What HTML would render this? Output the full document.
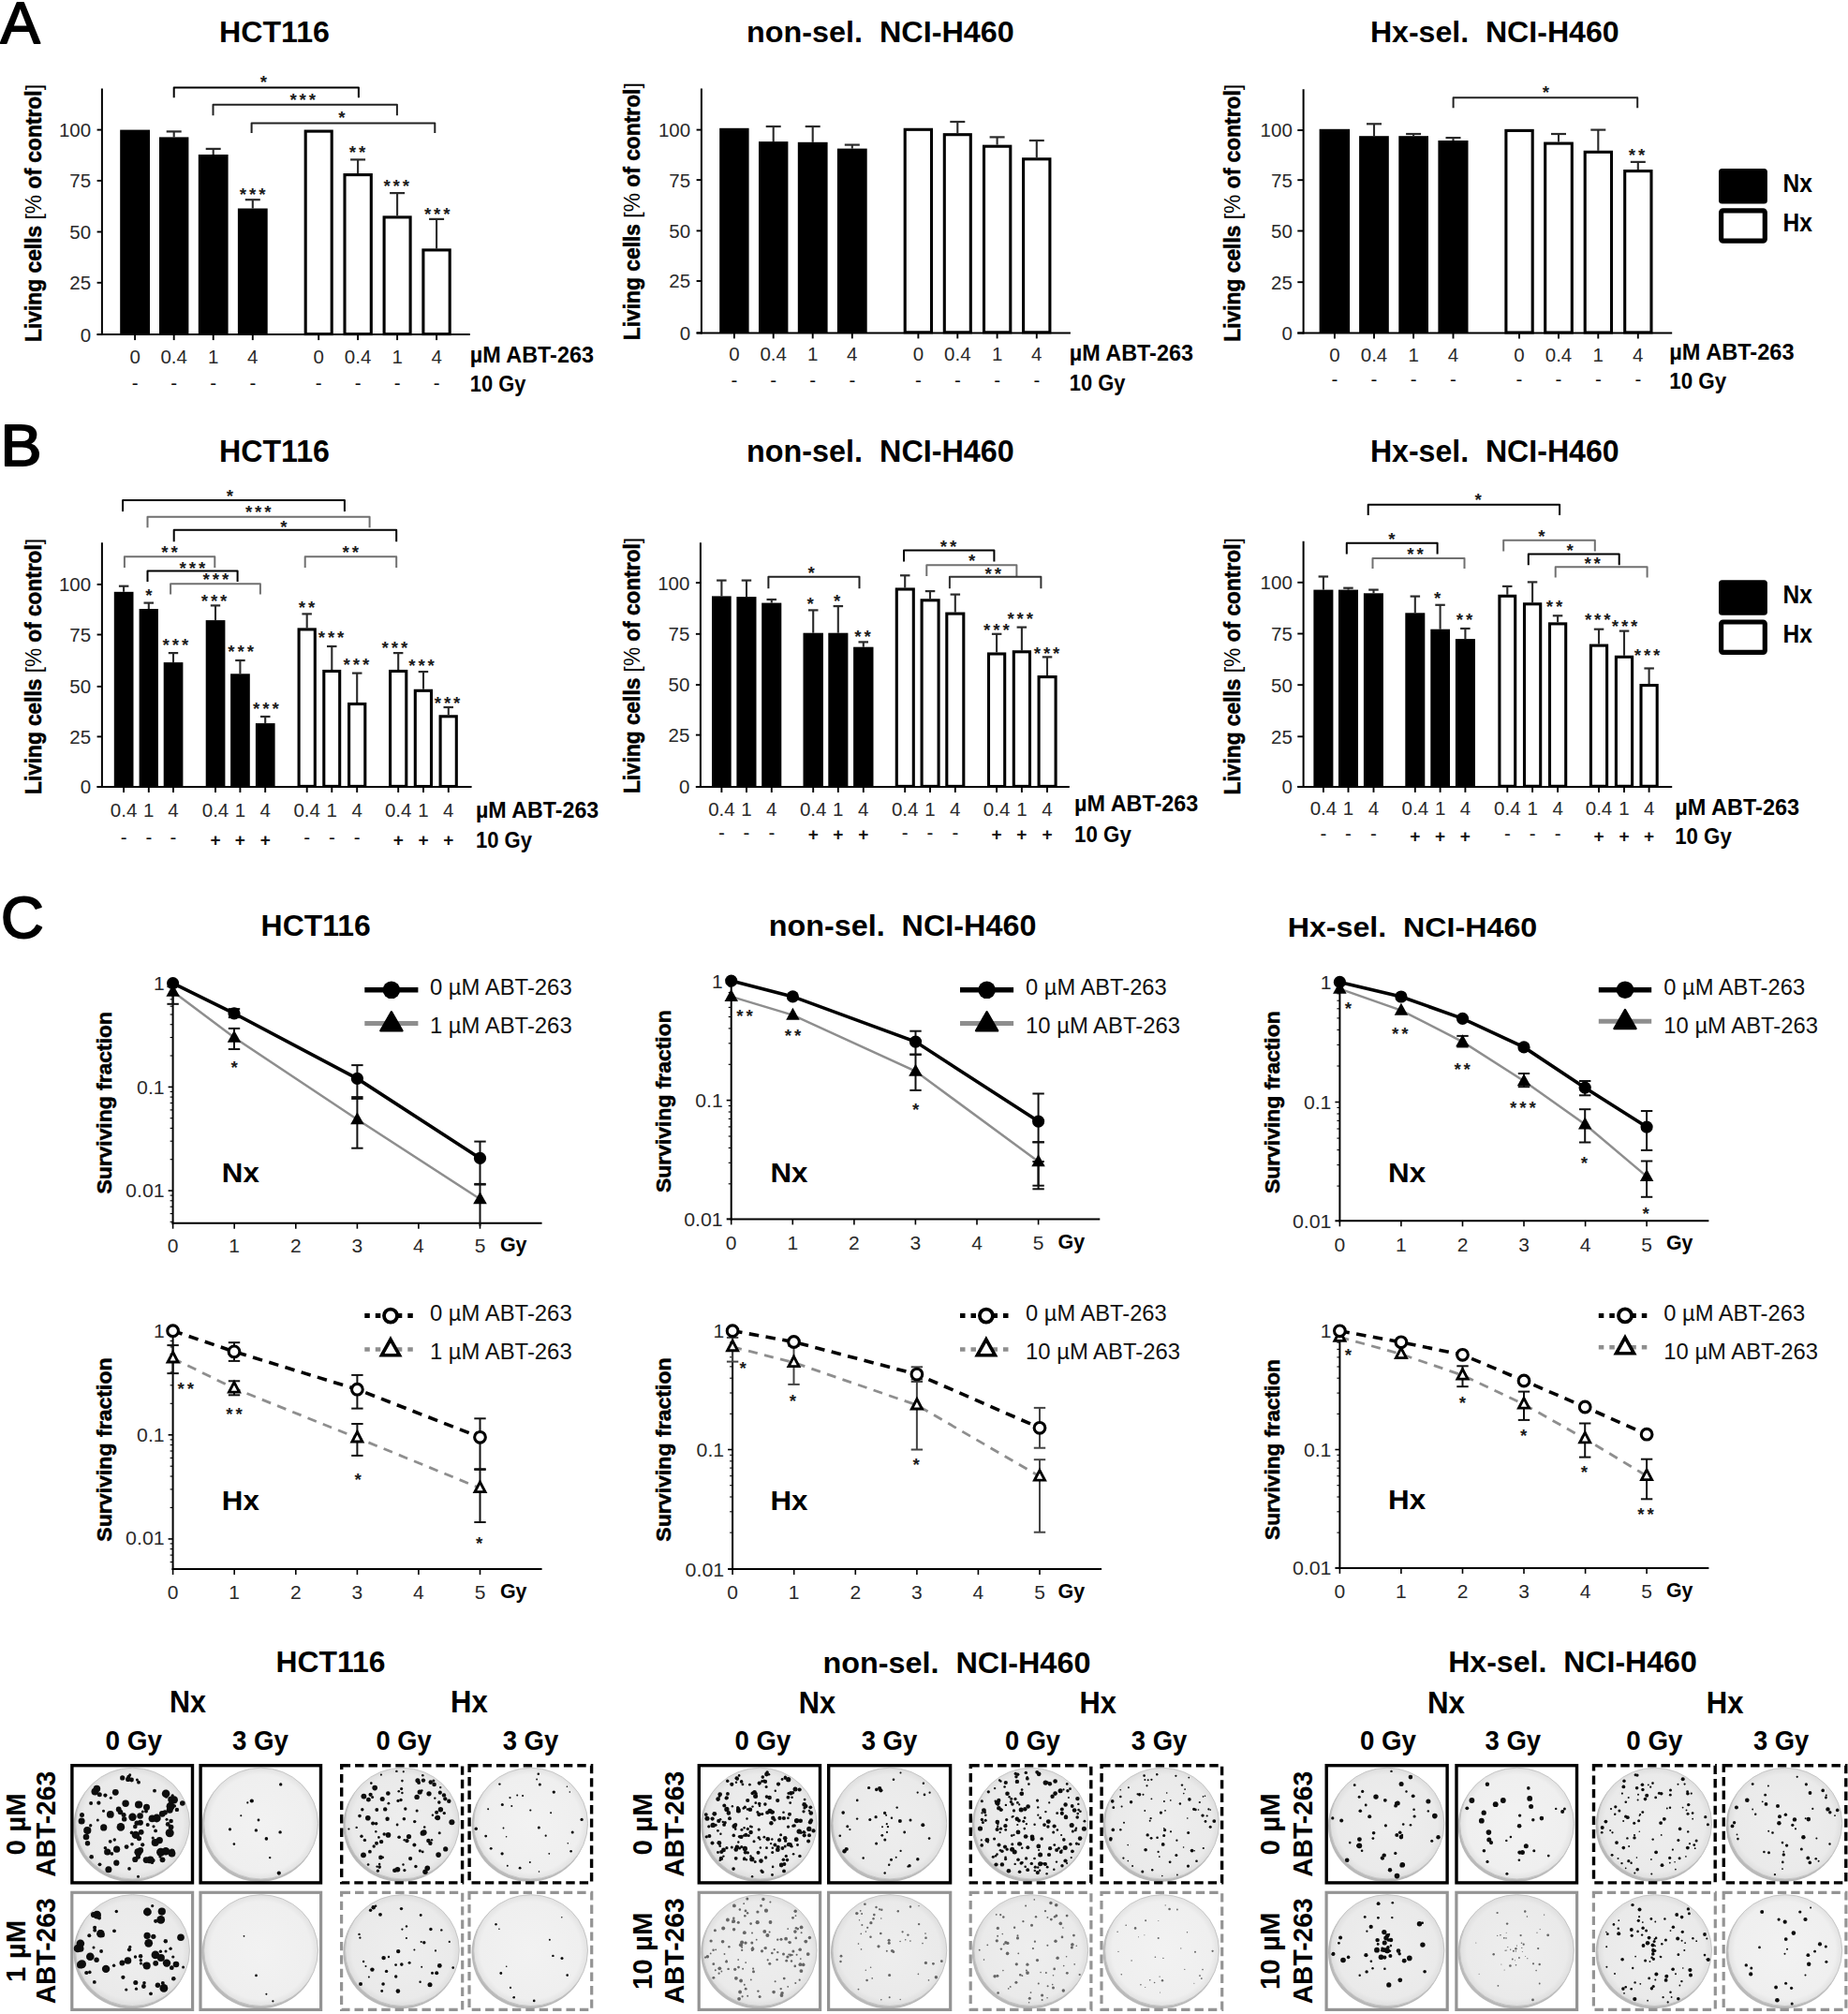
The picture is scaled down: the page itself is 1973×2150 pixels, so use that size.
<!DOCTYPE html>
<html lang="en"><head><meta charset="utf-8"><title>Figure</title>
<style>
html,body{margin:0;padding:0;background:#fff}
svg{display:block}
text{font-family:"Liberation Sans",sans-serif}
</style></head><body>
<svg width="1973" height="2150" viewBox="0 0 1973 2150">
<defs>
<radialGradient id="dg" cx="50%" cy="50%" r="50%">
<stop offset="0" stop-color="#eeeeee"/><stop offset="0.88" stop-color="#eaeaea"/><stop offset="1" stop-color="#dedede"/>
</radialGradient>
<radialGradient id="dg2" cx="50%" cy="50%" r="50%">
<stop offset="0" stop-color="#f2f2f2"/><stop offset="0.88" stop-color="#efefef"/><stop offset="1" stop-color="#e2e2e2"/>
</radialGradient>
<filter id="bl" x="-5%" y="-5%" width="110%" height="110%"><feGaussianBlur stdDeviation="0.55"/></filter>
</defs>
<rect width="1973" height="2150" fill="#fff"/>
<rect x="128.2" y="138.6" width="31.8" height="218.6" fill="#000"/>
<line x1="185.7" y1="146.4" x2="185.7" y2="140.4" stroke="#2a2a2a" stroke-width="2.1"/>
<line x1="177.7" y1="140.4" x2="193.7" y2="140.4" stroke="#2a2a2a" stroke-width="2.2"/>
<rect x="170.0" y="146.4" width="31.4" height="210.7" fill="#000"/>
<line x1="227.7" y1="165.0" x2="227.7" y2="158.9" stroke="#2a2a2a" stroke-width="2.1"/>
<line x1="219.7" y1="158.9" x2="235.7" y2="158.9" stroke="#2a2a2a" stroke-width="2.2"/>
<rect x="211.8" y="165.0" width="31.8" height="192.1" fill="#000"/>
<line x1="269.8" y1="222.5" x2="269.8" y2="213.2" stroke="#2a2a2a" stroke-width="2.1"/>
<line x1="261.8" y1="213.2" x2="277.8" y2="213.2" stroke="#2a2a2a" stroke-width="2.2"/>
<rect x="253.9" y="222.5" width="31.8" height="134.6" fill="#000"/>
<rect x="326.2" y="140.1" width="28.0" height="216.5" fill="#fff" stroke="#000" stroke-width="3.1"/>
<line x1="382.1" y1="185.0" x2="382.1" y2="170.4" stroke="#2a2a2a" stroke-width="2.1"/>
<line x1="374.1" y1="170.4" x2="390.1" y2="170.4" stroke="#2a2a2a" stroke-width="2.2"/>
<rect x="368.0" y="186.6" width="28.3" height="170.0" fill="#fff" stroke="#000" stroke-width="3.1"/>
<line x1="424.1" y1="230.4" x2="424.1" y2="206.1" stroke="#2a2a2a" stroke-width="2.1"/>
<line x1="416.1" y1="206.1" x2="432.1" y2="206.1" stroke="#2a2a2a" stroke-width="2.2"/>
<rect x="410.1" y="231.9" width="28.0" height="124.7" fill="#fff" stroke="#000" stroke-width="3.1"/>
<line x1="466.1" y1="265.4" x2="466.1" y2="233.9" stroke="#2a2a2a" stroke-width="2.1"/>
<line x1="458.1" y1="233.9" x2="474.1" y2="233.9" stroke="#2a2a2a" stroke-width="2.2"/>
<rect x="451.9" y="266.9" width="28.3" height="89.7" fill="#fff" stroke="#000" stroke-width="3.1"/>
<line x1="108.9" y1="94.6" x2="108.9" y2="358.1" stroke="#000" stroke-width="2"/>
<line x1="103.6" y1="357.1" x2="501.8" y2="357.1" stroke="#000" stroke-width="2"/>
<line x1="103.6" y1="138.6" x2="108.9" y2="138.6" stroke="#000" stroke-width="1.9"/>
<text x="97.1" y="145.9" font-size="20.5" text-anchor="end" fill="#2a2a2a">100</text>
<line x1="103.6" y1="192.9" x2="108.9" y2="192.9" stroke="#000" stroke-width="1.9"/>
<text x="97.1" y="200.2" font-size="20.5" text-anchor="end" fill="#2a2a2a">75</text>
<line x1="103.6" y1="247.5" x2="108.9" y2="247.5" stroke="#000" stroke-width="1.9"/>
<text x="97.1" y="254.8" font-size="20.5" text-anchor="end" fill="#2a2a2a">50</text>
<line x1="103.6" y1="301.8" x2="108.9" y2="301.8" stroke="#000" stroke-width="1.9"/>
<text x="97.1" y="309.1" font-size="20.5" text-anchor="end" fill="#2a2a2a">25</text>
<line x1="103.6" y1="357.1" x2="108.9" y2="357.1" stroke="#000" stroke-width="1.9"/>
<text x="97.1" y="364.5" font-size="20.5" text-anchor="end" fill="#2a2a2a">0</text>
<line x1="144.1" y1="357.1" x2="144.1" y2="363.1" stroke="#000" stroke-width="1.9"/>
<text x="144.1" y="388.1" font-size="20.5" text-anchor="middle" fill="#2a2a2a">0</text>
<text x="144.1" y="416.2" font-size="20.5" text-anchor="middle" fill="#111">-</text>
<line x1="185.7" y1="357.1" x2="185.7" y2="363.1" stroke="#000" stroke-width="1.9"/>
<text x="185.7" y="388.1" font-size="20.5" text-anchor="middle" textLength="28.5" lengthAdjust="spacingAndGlyphs" fill="#2a2a2a">0.4</text>
<text x="185.7" y="416.2" font-size="20.5" text-anchor="middle" fill="#111">-</text>
<line x1="227.7" y1="357.1" x2="227.7" y2="363.1" stroke="#000" stroke-width="1.9"/>
<text x="227.7" y="388.1" font-size="20.5" text-anchor="middle" fill="#2a2a2a">1</text>
<text x="227.7" y="416.2" font-size="20.5" text-anchor="middle" fill="#111">-</text>
<line x1="269.8" y1="357.1" x2="269.8" y2="363.1" stroke="#000" stroke-width="1.9"/>
<text x="269.8" y="388.1" font-size="20.5" text-anchor="middle" fill="#2a2a2a">4</text>
<text x="269.8" y="416.2" font-size="20.5" text-anchor="middle" fill="#111">-</text>
<line x1="340.2" y1="357.1" x2="340.2" y2="363.1" stroke="#000" stroke-width="1.9"/>
<text x="340.2" y="388.1" font-size="20.5" text-anchor="middle" fill="#2a2a2a">0</text>
<text x="340.2" y="416.2" font-size="20.5" text-anchor="middle" fill="#111">-</text>
<line x1="382.1" y1="357.1" x2="382.1" y2="363.1" stroke="#000" stroke-width="1.9"/>
<text x="382.1" y="388.1" font-size="20.5" text-anchor="middle" textLength="28.5" lengthAdjust="spacingAndGlyphs" fill="#2a2a2a">0.4</text>
<text x="382.1" y="416.2" font-size="20.5" text-anchor="middle" fill="#111">-</text>
<line x1="424.1" y1="357.1" x2="424.1" y2="363.1" stroke="#000" stroke-width="1.9"/>
<text x="424.1" y="388.1" font-size="20.5" text-anchor="middle" fill="#2a2a2a">1</text>
<text x="424.1" y="416.2" font-size="20.5" text-anchor="middle" fill="#111">-</text>
<line x1="466.1" y1="357.1" x2="466.1" y2="363.1" stroke="#000" stroke-width="1.9"/>
<text x="466.1" y="388.1" font-size="20.5" text-anchor="middle" fill="#2a2a2a">4</text>
<text x="466.1" y="416.2" font-size="20.5" text-anchor="middle" fill="#111">-</text>
<text x="501.8" y="387.0" font-size="23.5" font-weight="bold" textLength="132.1" lengthAdjust="spacingAndGlyphs">µM ABT-263</text>
<text x="501.8" y="418.4" font-size="23.5" font-weight="bold" textLength="59.6" lengthAdjust="spacingAndGlyphs">10 Gy</text>
<path d="M185.7 104.3V93.6H382.9V104.3" fill="none" stroke="#000" stroke-width="2" stroke-linejoin="round"/>
<text x="282.9" y="93.5" font-size="18.8" font-weight="bold" text-anchor="middle" fill="#1c1c1c" letter-spacing="2.9">*</text>
<path d="M227.5 123.2V111.8H423.9V123.2" fill="none" stroke="#222" stroke-width="2" stroke-linejoin="round"/>
<text x="324.7" y="113.2" font-size="18.8" font-weight="bold" text-anchor="middle" fill="#1c1c1c" letter-spacing="2.9">***</text>
<path d="M268.6 142.1V131.4H464.3V142.1" fill="none" stroke="#222" stroke-width="2" stroke-linejoin="round"/>
<text x="366.4" y="132.1" font-size="18.8" font-weight="bold" text-anchor="middle" fill="#1c1c1c" letter-spacing="2.9">*</text>
<text x="271.1" y="213.9" font-size="18.8" font-weight="bold" text-anchor="middle" fill="#1c1c1c" letter-spacing="2.9">***</text>
<text x="382.9" y="169.2" font-size="18.8" font-weight="bold" text-anchor="middle" fill="#1c1c1c" letter-spacing="2.9">**</text>
<text x="424.7" y="205.3" font-size="18.8" font-weight="bold" text-anchor="middle" fill="#1c1c1c" letter-spacing="2.9">***</text>
<text x="468.2" y="234.6" font-size="18.8" font-weight="bold" text-anchor="middle" fill="#1c1c1c" letter-spacing="2.9">***</text>
<text x="44.2" y="365.0" font-size="23.7" font-weight="bold" stroke="#000" stroke-width="0.55" textLength="275.0" lengthAdjust="spacingAndGlyphs" transform="rotate(-90 44.2 365.0)">Living cells <tspan font-weight="normal" stroke="none">[%</tspan> of control<tspan font-weight="normal" stroke="none">]</tspan></text>
<rect x="768.2" y="136.8" width="31.4" height="218.6" fill="#000"/>
<line x1="825.7" y1="151.1" x2="825.7" y2="135.0" stroke="#2a2a2a" stroke-width="2.1"/>
<line x1="817.7" y1="135.0" x2="833.7" y2="135.0" stroke="#2a2a2a" stroke-width="2.2"/>
<rect x="810.0" y="151.1" width="31.4" height="204.3" fill="#000"/>
<line x1="867.7" y1="151.8" x2="867.7" y2="135.0" stroke="#2a2a2a" stroke-width="2.1"/>
<line x1="859.7" y1="135.0" x2="875.7" y2="135.0" stroke="#2a2a2a" stroke-width="2.2"/>
<rect x="851.8" y="151.8" width="31.8" height="203.6" fill="#000"/>
<line x1="909.8" y1="158.6" x2="909.8" y2="154.6" stroke="#2a2a2a" stroke-width="2.1"/>
<line x1="901.8" y1="154.6" x2="917.8" y2="154.6" stroke="#2a2a2a" stroke-width="2.2"/>
<rect x="893.9" y="158.6" width="31.8" height="196.8" fill="#000"/>
<rect x="966.2" y="138.3" width="28.3" height="216.5" fill="#fff" stroke="#000" stroke-width="3.1"/>
<line x1="1022.3" y1="142.1" x2="1022.3" y2="130.0" stroke="#2a2a2a" stroke-width="2.1"/>
<line x1="1014.3" y1="130.0" x2="1030.3" y2="130.0" stroke="#2a2a2a" stroke-width="2.2"/>
<rect x="1008.3" y="143.7" width="28.0" height="211.1" fill="#fff" stroke="#000" stroke-width="3.1"/>
<line x1="1064.6" y1="154.6" x2="1064.6" y2="146.4" stroke="#2a2a2a" stroke-width="2.1"/>
<line x1="1056.6" y1="146.4" x2="1072.6" y2="146.4" stroke="#2a2a2a" stroke-width="2.2"/>
<rect x="1050.5" y="156.2" width="28.3" height="198.6" fill="#fff" stroke="#000" stroke-width="3.1"/>
<line x1="1106.8" y1="168.2" x2="1106.8" y2="150.0" stroke="#2a2a2a" stroke-width="2.1"/>
<line x1="1098.8" y1="150.0" x2="1114.8" y2="150.0" stroke="#2a2a2a" stroke-width="2.2"/>
<rect x="1092.6" y="169.8" width="28.3" height="185.0" fill="#fff" stroke="#000" stroke-width="3.1"/>
<line x1="748.9" y1="94.6" x2="748.9" y2="356.4" stroke="#000" stroke-width="2"/>
<line x1="743.6" y1="355.4" x2="1142.9" y2="355.4" stroke="#000" stroke-width="2"/>
<line x1="743.6" y1="138.6" x2="748.9" y2="138.6" stroke="#000" stroke-width="1.9"/>
<text x="737.1" y="145.9" font-size="20.5" text-anchor="end" fill="#2a2a2a">100</text>
<line x1="743.6" y1="192.1" x2="748.9" y2="192.1" stroke="#000" stroke-width="1.9"/>
<text x="737.1" y="199.5" font-size="20.5" text-anchor="end" fill="#2a2a2a">75</text>
<line x1="743.6" y1="246.4" x2="748.9" y2="246.4" stroke="#000" stroke-width="1.9"/>
<text x="737.1" y="253.8" font-size="20.5" text-anchor="end" fill="#2a2a2a">50</text>
<line x1="743.6" y1="300.0" x2="748.9" y2="300.0" stroke="#000" stroke-width="1.9"/>
<text x="737.1" y="307.3" font-size="20.5" text-anchor="end" fill="#2a2a2a">25</text>
<line x1="743.6" y1="355.4" x2="748.9" y2="355.4" stroke="#000" stroke-width="1.9"/>
<text x="737.1" y="362.7" font-size="20.5" text-anchor="end" fill="#2a2a2a">0</text>
<line x1="783.9" y1="355.4" x2="783.9" y2="361.4" stroke="#000" stroke-width="1.9"/>
<text x="783.9" y="385.2" font-size="20.5" text-anchor="middle" fill="#2a2a2a">0</text>
<text x="783.9" y="413.0" font-size="20.5" text-anchor="middle" fill="#111">-</text>
<line x1="825.7" y1="355.4" x2="825.7" y2="361.4" stroke="#000" stroke-width="1.9"/>
<text x="825.7" y="385.2" font-size="20.5" text-anchor="middle" textLength="28.5" lengthAdjust="spacingAndGlyphs" fill="#2a2a2a">0.4</text>
<text x="825.7" y="413.0" font-size="20.5" text-anchor="middle" fill="#111">-</text>
<line x1="867.7" y1="355.4" x2="867.7" y2="361.4" stroke="#000" stroke-width="1.9"/>
<text x="867.7" y="385.2" font-size="20.5" text-anchor="middle" fill="#2a2a2a">1</text>
<text x="867.7" y="413.0" font-size="20.5" text-anchor="middle" fill="#111">-</text>
<line x1="909.8" y1="355.4" x2="909.8" y2="361.4" stroke="#000" stroke-width="1.9"/>
<text x="909.8" y="385.2" font-size="20.5" text-anchor="middle" fill="#2a2a2a">4</text>
<text x="909.8" y="413.0" font-size="20.5" text-anchor="middle" fill="#111">-</text>
<line x1="980.4" y1="355.4" x2="980.4" y2="361.4" stroke="#000" stroke-width="1.9"/>
<text x="980.4" y="385.2" font-size="20.5" text-anchor="middle" fill="#2a2a2a">0</text>
<text x="980.4" y="413.0" font-size="20.5" text-anchor="middle" fill="#111">-</text>
<line x1="1022.3" y1="355.4" x2="1022.3" y2="361.4" stroke="#000" stroke-width="1.9"/>
<text x="1022.3" y="385.2" font-size="20.5" text-anchor="middle" textLength="28.5" lengthAdjust="spacingAndGlyphs" fill="#2a2a2a">0.4</text>
<text x="1022.3" y="413.0" font-size="20.5" text-anchor="middle" fill="#111">-</text>
<line x1="1064.6" y1="355.4" x2="1064.6" y2="361.4" stroke="#000" stroke-width="1.9"/>
<text x="1064.6" y="385.2" font-size="20.5" text-anchor="middle" fill="#2a2a2a">1</text>
<text x="1064.6" y="413.0" font-size="20.5" text-anchor="middle" fill="#111">-</text>
<line x1="1106.8" y1="355.4" x2="1106.8" y2="361.4" stroke="#000" stroke-width="1.9"/>
<text x="1106.8" y="385.2" font-size="20.5" text-anchor="middle" fill="#2a2a2a">4</text>
<text x="1106.8" y="413.0" font-size="20.5" text-anchor="middle" fill="#111">-</text>
<text x="1141.8" y="385.2" font-size="23.5" font-weight="bold" textLength="132.1" lengthAdjust="spacingAndGlyphs">µM ABT-263</text>
<text x="1141.8" y="416.6" font-size="23.5" font-weight="bold" textLength="59.6" lengthAdjust="spacingAndGlyphs">10 Gy</text>
<text x="683.1" y="363.2" font-size="23.7" font-weight="bold" stroke="#000" stroke-width="0.55" textLength="275.0" lengthAdjust="spacingAndGlyphs" transform="rotate(-90 683.1 363.2)">Living cells <tspan font-weight="normal" stroke="none">[%</tspan> of control<tspan font-weight="normal" stroke="none">]</tspan></text>
<rect x="1408.6" y="137.8" width="32.5" height="217.7" fill="#000"/>
<line x1="1467.0" y1="145.2" x2="1467.0" y2="132.3" stroke="#2a2a2a" stroke-width="2.1"/>
<line x1="1459.0" y1="132.3" x2="1475.0" y2="132.3" stroke="#2a2a2a" stroke-width="2.2"/>
<rect x="1451.1" y="145.2" width="31.7" height="210.3" fill="#000"/>
<line x1="1509.1" y1="145.2" x2="1509.1" y2="143.0" stroke="#2a2a2a" stroke-width="2.1"/>
<line x1="1501.1" y1="143.0" x2="1517.1" y2="143.0" stroke="#2a2a2a" stroke-width="2.2"/>
<rect x="1493.3" y="145.2" width="31.7" height="210.3" fill="#000"/>
<line x1="1551.5" y1="150.0" x2="1551.5" y2="147.1" stroke="#2a2a2a" stroke-width="2.1"/>
<line x1="1543.5" y1="147.1" x2="1559.5" y2="147.1" stroke="#2a2a2a" stroke-width="2.2"/>
<rect x="1535.4" y="150.0" width="32.1" height="205.5" fill="#000"/>
<rect x="1607.9" y="139.4" width="28.3" height="215.6" fill="#fff" stroke="#000" stroke-width="3.1"/>
<line x1="1664.0" y1="151.5" x2="1664.0" y2="143.0" stroke="#2a2a2a" stroke-width="2.1"/>
<line x1="1656.0" y1="143.0" x2="1672.0" y2="143.0" stroke="#2a2a2a" stroke-width="2.2"/>
<rect x="1649.7" y="153.1" width="28.6" height="201.9" fill="#fff" stroke="#000" stroke-width="3.1"/>
<line x1="1706.3" y1="160.8" x2="1706.3" y2="138.6" stroke="#2a2a2a" stroke-width="2.1"/>
<line x1="1698.3" y1="138.6" x2="1714.3" y2="138.6" stroke="#2a2a2a" stroke-width="2.2"/>
<rect x="1692.2" y="162.3" width="28.3" height="192.7" fill="#fff" stroke="#000" stroke-width="3.1"/>
<line x1="1748.8" y1="181.1" x2="1748.8" y2="172.9" stroke="#2a2a2a" stroke-width="2.1"/>
<line x1="1740.8" y1="172.9" x2="1756.8" y2="172.9" stroke="#2a2a2a" stroke-width="2.2"/>
<rect x="1734.7" y="182.6" width="28.3" height="172.3" fill="#fff" stroke="#000" stroke-width="3.1"/>
<line x1="1391.6" y1="95.3" x2="1391.6" y2="356.5" stroke="#000" stroke-width="2"/>
<line x1="1385.3" y1="355.5" x2="1785.2" y2="355.5" stroke="#000" stroke-width="2"/>
<line x1="1385.3" y1="139.0" x2="1391.6" y2="139.0" stroke="#000" stroke-width="1.9"/>
<text x="1379.8" y="146.3" font-size="20.5" text-anchor="end" fill="#2a2a2a">100</text>
<line x1="1385.3" y1="192.2" x2="1391.6" y2="192.2" stroke="#000" stroke-width="1.9"/>
<text x="1379.8" y="199.5" font-size="20.5" text-anchor="end" fill="#2a2a2a">75</text>
<line x1="1385.3" y1="246.5" x2="1391.6" y2="246.5" stroke="#000" stroke-width="1.9"/>
<text x="1379.8" y="253.8" font-size="20.5" text-anchor="end" fill="#2a2a2a">50</text>
<line x1="1385.3" y1="301.2" x2="1391.6" y2="301.2" stroke="#000" stroke-width="1.9"/>
<text x="1379.8" y="308.5" font-size="20.5" text-anchor="end" fill="#2a2a2a">25</text>
<line x1="1385.3" y1="355.5" x2="1391.6" y2="355.5" stroke="#000" stroke-width="1.9"/>
<text x="1379.8" y="362.8" font-size="20.5" text-anchor="end" fill="#2a2a2a">0</text>
<line x1="1424.9" y1="355.5" x2="1424.9" y2="361.5" stroke="#000" stroke-width="1.9"/>
<text x="1424.9" y="386.2" font-size="20.5" text-anchor="middle" fill="#2a2a2a">0</text>
<text x="1424.9" y="412.4" font-size="20.5" text-anchor="middle" fill="#111">-</text>
<line x1="1467.0" y1="355.5" x2="1467.0" y2="361.5" stroke="#000" stroke-width="1.9"/>
<text x="1467.0" y="386.2" font-size="20.5" text-anchor="middle" textLength="28.5" lengthAdjust="spacingAndGlyphs" fill="#2a2a2a">0.4</text>
<text x="1467.0" y="412.4" font-size="20.5" text-anchor="middle" fill="#111">-</text>
<line x1="1509.1" y1="355.5" x2="1509.1" y2="361.5" stroke="#000" stroke-width="1.9"/>
<text x="1509.1" y="386.2" font-size="20.5" text-anchor="middle" fill="#2a2a2a">1</text>
<text x="1509.1" y="412.4" font-size="20.5" text-anchor="middle" fill="#111">-</text>
<line x1="1551.5" y1="355.5" x2="1551.5" y2="361.5" stroke="#000" stroke-width="1.9"/>
<text x="1551.5" y="386.2" font-size="20.5" text-anchor="middle" fill="#2a2a2a">4</text>
<text x="1551.5" y="412.4" font-size="20.5" text-anchor="middle" fill="#111">-</text>
<line x1="1622.0" y1="355.5" x2="1622.0" y2="361.5" stroke="#000" stroke-width="1.9"/>
<text x="1622.0" y="386.2" font-size="20.5" text-anchor="middle" fill="#2a2a2a">0</text>
<text x="1622.0" y="412.4" font-size="20.5" text-anchor="middle" fill="#111">-</text>
<line x1="1664.0" y1="355.5" x2="1664.0" y2="361.5" stroke="#000" stroke-width="1.9"/>
<text x="1664.0" y="386.2" font-size="20.5" text-anchor="middle" textLength="28.5" lengthAdjust="spacingAndGlyphs" fill="#2a2a2a">0.4</text>
<text x="1664.0" y="412.4" font-size="20.5" text-anchor="middle" fill="#111">-</text>
<line x1="1706.3" y1="355.5" x2="1706.3" y2="361.5" stroke="#000" stroke-width="1.9"/>
<text x="1706.3" y="386.2" font-size="20.5" text-anchor="middle" fill="#2a2a2a">1</text>
<text x="1706.3" y="412.4" font-size="20.5" text-anchor="middle" fill="#111">-</text>
<line x1="1748.8" y1="355.5" x2="1748.8" y2="361.5" stroke="#000" stroke-width="1.9"/>
<text x="1748.8" y="386.2" font-size="20.5" text-anchor="middle" fill="#2a2a2a">4</text>
<text x="1748.8" y="412.4" font-size="20.5" text-anchor="middle" fill="#111">-</text>
<text x="1782.2" y="383.9" font-size="23.5" font-weight="bold" textLength="133.4" lengthAdjust="spacingAndGlyphs">µM ABT-263</text>
<text x="1782.2" y="415.3" font-size="23.5" font-weight="bold" textLength="61.0" lengthAdjust="spacingAndGlyphs">10 Gy</text>
<path d="M1551.6 115.3V104.2H1748.2V115.3" fill="none" stroke="#222" stroke-width="2" stroke-linejoin="round"/>
<text x="1651.8" y="104.9" font-size="18.8" font-weight="bold" text-anchor="middle" fill="#1c1c1c" letter-spacing="2.9">*</text>
<text x="1749.0" y="172.2" font-size="18.8" font-weight="bold" text-anchor="middle" fill="#1c1c1c" letter-spacing="2.9">**</text>
<text x="1324.4" y="364.7" font-size="23.7" font-weight="bold" stroke="#000" stroke-width="0.55" textLength="274.9" lengthAdjust="spacingAndGlyphs" transform="rotate(-90 1324.4 364.7)">Living cells <tspan font-weight="normal" stroke="none">[%</tspan> of control<tspan font-weight="normal" stroke="none">]</tspan></text>
<line x1="132.1" y1="631.8" x2="132.1" y2="625.7" stroke="#2a2a2a" stroke-width="2.1"/>
<line x1="126.9" y1="625.7" x2="137.4" y2="625.7" stroke="#2a2a2a" stroke-width="2.2"/>
<rect x="121.8" y="631.8" width="20.7" height="208.2" fill="#000"/>
<line x1="158.8" y1="650.0" x2="158.8" y2="643.6" stroke="#2a2a2a" stroke-width="2.1"/>
<line x1="153.5" y1="643.6" x2="164.0" y2="643.6" stroke="#2a2a2a" stroke-width="2.2"/>
<rect x="148.6" y="650.0" width="20.3" height="190.0" fill="#000"/>
<line x1="185.0" y1="707.1" x2="185.0" y2="697.1" stroke="#2a2a2a" stroke-width="2.1"/>
<line x1="179.8" y1="697.1" x2="190.2" y2="697.1" stroke="#2a2a2a" stroke-width="2.2"/>
<rect x="174.7" y="707.1" width="20.7" height="132.9" fill="#000"/>
<line x1="230.0" y1="662.1" x2="230.0" y2="646.4" stroke="#2a2a2a" stroke-width="2.1"/>
<line x1="224.8" y1="646.4" x2="235.2" y2="646.4" stroke="#2a2a2a" stroke-width="2.2"/>
<rect x="219.7" y="662.1" width="20.7" height="177.9" fill="#000"/>
<line x1="256.4" y1="719.3" x2="256.4" y2="705.0" stroke="#2a2a2a" stroke-width="2.1"/>
<line x1="251.2" y1="705.0" x2="261.7" y2="705.0" stroke="#2a2a2a" stroke-width="2.2"/>
<rect x="246.1" y="719.3" width="20.7" height="120.7" fill="#000"/>
<line x1="283.2" y1="772.1" x2="283.2" y2="765.0" stroke="#2a2a2a" stroke-width="2.1"/>
<line x1="278.0" y1="765.0" x2="288.5" y2="765.0" stroke="#2a2a2a" stroke-width="2.2"/>
<rect x="272.9" y="772.1" width="20.7" height="67.9" fill="#000"/>
<line x1="327.7" y1="670.4" x2="327.7" y2="655.4" stroke="#2a2a2a" stroke-width="2.1"/>
<line x1="322.4" y1="655.4" x2="332.9" y2="655.4" stroke="#2a2a2a" stroke-width="2.2"/>
<rect x="319.1" y="671.9" width="17.2" height="167.5" fill="#fff" stroke="#000" stroke-width="3.1"/>
<line x1="354.3" y1="715.0" x2="354.3" y2="690.0" stroke="#2a2a2a" stroke-width="2.1"/>
<line x1="349.0" y1="690.0" x2="359.5" y2="690.0" stroke="#2a2a2a" stroke-width="2.2"/>
<rect x="345.8" y="716.5" width="16.9" height="122.9" fill="#fff" stroke="#000" stroke-width="3.1"/>
<line x1="381.2" y1="750.0" x2="381.2" y2="718.6" stroke="#2a2a2a" stroke-width="2.1"/>
<line x1="376.0" y1="718.6" x2="386.5" y2="718.6" stroke="#2a2a2a" stroke-width="2.2"/>
<rect x="372.6" y="751.5" width="17.2" height="87.9" fill="#fff" stroke="#000" stroke-width="3.1"/>
<line x1="425.2" y1="715.0" x2="425.2" y2="697.1" stroke="#2a2a2a" stroke-width="2.1"/>
<line x1="419.9" y1="697.1" x2="430.4" y2="697.1" stroke="#2a2a2a" stroke-width="2.2"/>
<rect x="416.6" y="716.5" width="17.2" height="122.9" fill="#fff" stroke="#000" stroke-width="3.1"/>
<line x1="452.0" y1="735.7" x2="452.0" y2="717.1" stroke="#2a2a2a" stroke-width="2.1"/>
<line x1="446.7" y1="717.1" x2="457.2" y2="717.1" stroke="#2a2a2a" stroke-width="2.2"/>
<rect x="443.3" y="737.3" width="17.2" height="102.2" fill="#fff" stroke="#000" stroke-width="3.1"/>
<line x1="478.8" y1="763.2" x2="478.8" y2="755.0" stroke="#2a2a2a" stroke-width="2.1"/>
<line x1="473.5" y1="755.0" x2="484.0" y2="755.0" stroke="#2a2a2a" stroke-width="2.2"/>
<rect x="470.1" y="764.8" width="17.2" height="74.7" fill="#fff" stroke="#000" stroke-width="3.1"/>
<line x1="108.9" y1="579.3" x2="108.9" y2="841.0" stroke="#000" stroke-width="2"/>
<line x1="103.6" y1="840.0" x2="503.6" y2="840.0" stroke="#000" stroke-width="2"/>
<line x1="103.6" y1="623.9" x2="108.9" y2="623.9" stroke="#000" stroke-width="1.9"/>
<text x="97.1" y="631.3" font-size="20.5" text-anchor="end" fill="#2a2a2a">100</text>
<line x1="103.6" y1="677.5" x2="108.9" y2="677.5" stroke="#000" stroke-width="1.9"/>
<text x="97.1" y="684.8" font-size="20.5" text-anchor="end" fill="#2a2a2a">75</text>
<line x1="103.6" y1="732.9" x2="108.9" y2="732.9" stroke="#000" stroke-width="1.9"/>
<text x="97.1" y="740.2" font-size="20.5" text-anchor="end" fill="#2a2a2a">50</text>
<line x1="103.6" y1="786.4" x2="108.9" y2="786.4" stroke="#000" stroke-width="1.9"/>
<text x="97.1" y="793.8" font-size="20.5" text-anchor="end" fill="#2a2a2a">25</text>
<line x1="103.6" y1="840.0" x2="108.9" y2="840.0" stroke="#000" stroke-width="1.9"/>
<text x="97.1" y="847.3" font-size="20.5" text-anchor="end" fill="#2a2a2a">0</text>
<line x1="132.1" y1="840.0" x2="132.1" y2="846.0" stroke="#000" stroke-width="1.9"/>
<text x="132.1" y="871.6" font-size="20.5" text-anchor="middle" textLength="28.5" lengthAdjust="spacingAndGlyphs" fill="#2a2a2a">0.4</text>
<text x="132.1" y="901.2" font-size="20.5" text-anchor="middle" fill="#111">-</text>
<line x1="158.8" y1="840.0" x2="158.8" y2="846.0" stroke="#000" stroke-width="1.9"/>
<text x="158.8" y="871.6" font-size="20.5" text-anchor="middle" fill="#2a2a2a">1</text>
<text x="158.8" y="901.2" font-size="20.5" text-anchor="middle" fill="#111">-</text>
<line x1="185.0" y1="840.0" x2="185.0" y2="846.0" stroke="#000" stroke-width="1.9"/>
<text x="185.0" y="871.6" font-size="20.5" text-anchor="middle" fill="#2a2a2a">4</text>
<text x="185.0" y="901.2" font-size="20.5" text-anchor="middle" fill="#111">-</text>
<line x1="230.0" y1="840.0" x2="230.0" y2="846.0" stroke="#000" stroke-width="1.9"/>
<text x="230.0" y="871.6" font-size="20.5" text-anchor="middle" textLength="28.5" lengthAdjust="spacingAndGlyphs" fill="#2a2a2a">0.4</text>
<text x="230.0" y="902.7" font-size="19" font-weight="bold" text-anchor="middle" fill="#111">+</text>
<line x1="256.4" y1="840.0" x2="256.4" y2="846.0" stroke="#000" stroke-width="1.9"/>
<text x="256.4" y="871.6" font-size="20.5" text-anchor="middle" fill="#2a2a2a">1</text>
<text x="256.4" y="902.7" font-size="19" font-weight="bold" text-anchor="middle" fill="#111">+</text>
<line x1="283.2" y1="840.0" x2="283.2" y2="846.0" stroke="#000" stroke-width="1.9"/>
<text x="283.2" y="871.6" font-size="20.5" text-anchor="middle" fill="#2a2a2a">4</text>
<text x="283.2" y="902.7" font-size="19" font-weight="bold" text-anchor="middle" fill="#111">+</text>
<line x1="327.7" y1="840.0" x2="327.7" y2="846.0" stroke="#000" stroke-width="1.9"/>
<text x="327.7" y="871.6" font-size="20.5" text-anchor="middle" textLength="28.5" lengthAdjust="spacingAndGlyphs" fill="#2a2a2a">0.4</text>
<text x="327.7" y="901.2" font-size="20.5" text-anchor="middle" fill="#111">-</text>
<line x1="354.3" y1="840.0" x2="354.3" y2="846.0" stroke="#000" stroke-width="1.9"/>
<text x="354.3" y="871.6" font-size="20.5" text-anchor="middle" fill="#2a2a2a">1</text>
<text x="354.3" y="901.2" font-size="20.5" text-anchor="middle" fill="#111">-</text>
<line x1="381.2" y1="840.0" x2="381.2" y2="846.0" stroke="#000" stroke-width="1.9"/>
<text x="381.2" y="871.6" font-size="20.5" text-anchor="middle" fill="#2a2a2a">4</text>
<text x="381.2" y="901.2" font-size="20.5" text-anchor="middle" fill="#111">-</text>
<line x1="425.2" y1="840.0" x2="425.2" y2="846.0" stroke="#000" stroke-width="1.9"/>
<text x="425.2" y="871.6" font-size="20.5" text-anchor="middle" textLength="28.5" lengthAdjust="spacingAndGlyphs" fill="#2a2a2a">0.4</text>
<text x="425.2" y="902.7" font-size="19" font-weight="bold" text-anchor="middle" fill="#111">+</text>
<line x1="452.0" y1="840.0" x2="452.0" y2="846.0" stroke="#000" stroke-width="1.9"/>
<text x="452.0" y="871.6" font-size="20.5" text-anchor="middle" fill="#2a2a2a">1</text>
<text x="452.0" y="902.7" font-size="19" font-weight="bold" text-anchor="middle" fill="#111">+</text>
<line x1="478.8" y1="840.0" x2="478.8" y2="846.0" stroke="#000" stroke-width="1.9"/>
<text x="478.8" y="871.6" font-size="20.5" text-anchor="middle" fill="#2a2a2a">4</text>
<text x="478.8" y="902.7" font-size="19" font-weight="bold" text-anchor="middle" fill="#111">+</text>
<text x="507.9" y="873.4" font-size="23.5" font-weight="bold" textLength="131.4" lengthAdjust="spacingAndGlyphs">µM ABT-263</text>
<text x="507.9" y="904.8" font-size="23.5" font-weight="bold" textLength="60.0" lengthAdjust="spacingAndGlyphs">10 Gy</text>
<path d="M131.1 546.1V533.9H367.9V546.1" fill="none" stroke="#000" stroke-width="2" stroke-linejoin="round"/>
<text x="246.8" y="536.4" font-size="18.8" font-weight="bold" text-anchor="middle" fill="#1c1c1c" letter-spacing="2.9">*</text>
<path d="M157.5 563.2V551.8H394.6V563.2" fill="none" stroke="#707070" stroke-width="2" stroke-linejoin="round"/>
<text x="277.2" y="553.2" font-size="18.8" font-weight="bold" text-anchor="middle" fill="#1c1c1c" letter-spacing="2.9">***</text>
<path d="M185.7 578.2V565.7H423.2V578.2" fill="none" stroke="#000" stroke-width="2" stroke-linejoin="round"/>
<text x="304.3" y="568.5" font-size="18.8" font-weight="bold" text-anchor="middle" fill="#1c1c1c" letter-spacing="2.9">*</text>
<path d="M132.9 606.1V594.3H229.3V606.1" fill="none" stroke="#707070" stroke-width="2" stroke-linejoin="round"/>
<text x="182.5" y="596.0" font-size="18.8" font-weight="bold" text-anchor="middle" fill="#1c1c1c" letter-spacing="2.9">**</text>
<path d="M157.5 621.1V609.6H253.6V621.1" fill="none" stroke="#000" stroke-width="2" stroke-linejoin="round"/>
<text x="206.8" y="612.8" font-size="18.8" font-weight="bold" text-anchor="middle" fill="#1c1c1c" letter-spacing="2.9">***</text>
<path d="M182.1 634.6V623.2H277.9V634.6" fill="none" stroke="#707070" stroke-width="2" stroke-linejoin="round"/>
<text x="231.8" y="625.3" font-size="18.8" font-weight="bold" text-anchor="middle" fill="#1c1c1c" letter-spacing="2.9">***</text>
<path d="M325.7 606.1V594.3H423.2V606.1" fill="none" stroke="#707070" stroke-width="2" stroke-linejoin="round"/>
<text x="375.7" y="596.0" font-size="18.8" font-weight="bold" text-anchor="middle" fill="#1c1c1c" letter-spacing="2.9">**</text>
<text x="160.4" y="642.4" font-size="18.8" font-weight="bold" text-anchor="middle" fill="#1c1c1c" letter-spacing="2.9">*</text>
<text x="188.9" y="695.3" font-size="18.8" font-weight="bold" text-anchor="middle" fill="#1c1c1c" letter-spacing="2.9">***</text>
<text x="230.0" y="647.8" font-size="18.8" font-weight="bold" text-anchor="middle" fill="#1c1c1c" letter-spacing="2.9">***</text>
<text x="258.6" y="702.4" font-size="18.8" font-weight="bold" text-anchor="middle" fill="#1c1c1c" letter-spacing="2.9">***</text>
<text x="285.4" y="763.2" font-size="18.8" font-weight="bold" text-anchor="middle" fill="#1c1c1c" letter-spacing="2.9">***</text>
<text x="328.9" y="654.9" font-size="18.8" font-weight="bold" text-anchor="middle" fill="#1c1c1c" letter-spacing="2.9">**</text>
<text x="355.0" y="687.1" font-size="18.8" font-weight="bold" text-anchor="middle" fill="#1c1c1c" letter-spacing="2.9">***</text>
<text x="381.8" y="715.7" font-size="18.8" font-weight="bold" text-anchor="middle" fill="#1c1c1c" letter-spacing="2.9">***</text>
<text x="422.9" y="697.8" font-size="18.8" font-weight="bold" text-anchor="middle" fill="#1c1c1c" letter-spacing="2.9">***</text>
<text x="451.5" y="717.4" font-size="18.8" font-weight="bold" text-anchor="middle" fill="#1c1c1c" letter-spacing="2.9">***</text>
<text x="479.0" y="756.7" font-size="18.8" font-weight="bold" text-anchor="middle" fill="#1c1c1c" letter-spacing="2.9">***</text>
<text x="44.2" y="847.9" font-size="23.7" font-weight="bold" stroke="#000" stroke-width="0.55" textLength="272.9" lengthAdjust="spacingAndGlyphs" transform="rotate(-90 44.2 847.9)">Living cells <tspan font-weight="normal" stroke="none">[%</tspan> of control<tspan font-weight="normal" stroke="none">]</tspan></text>
<line x1="770.4" y1="636.4" x2="770.4" y2="619.6" stroke="#2a2a2a" stroke-width="2.1"/>
<line x1="765.1" y1="619.6" x2="775.6" y2="619.6" stroke="#2a2a2a" stroke-width="2.2"/>
<rect x="760.0" y="636.4" width="20.7" height="203.6" fill="#000"/>
<line x1="797.0" y1="637.1" x2="797.0" y2="619.6" stroke="#2a2a2a" stroke-width="2.1"/>
<line x1="791.7" y1="619.6" x2="802.2" y2="619.6" stroke="#2a2a2a" stroke-width="2.2"/>
<rect x="786.4" y="637.1" width="21.1" height="202.9" fill="#000"/>
<line x1="823.8" y1="643.6" x2="823.8" y2="640.0" stroke="#2a2a2a" stroke-width="2.1"/>
<line x1="818.5" y1="640.0" x2="829.0" y2="640.0" stroke="#2a2a2a" stroke-width="2.2"/>
<rect x="813.2" y="643.6" width="21.1" height="196.4" fill="#000"/>
<line x1="868.2" y1="675.7" x2="868.2" y2="651.4" stroke="#2a2a2a" stroke-width="2.1"/>
<line x1="863.0" y1="651.4" x2="873.5" y2="651.4" stroke="#2a2a2a" stroke-width="2.2"/>
<rect x="857.5" y="675.7" width="21.4" height="164.3" fill="#000"/>
<line x1="894.8" y1="675.7" x2="894.8" y2="647.1" stroke="#2a2a2a" stroke-width="2.1"/>
<line x1="889.6" y1="647.1" x2="900.1" y2="647.1" stroke="#2a2a2a" stroke-width="2.2"/>
<rect x="884.3" y="675.7" width="21.1" height="164.3" fill="#000"/>
<line x1="921.8" y1="690.7" x2="921.8" y2="685.4" stroke="#2a2a2a" stroke-width="2.1"/>
<line x1="916.5" y1="685.4" x2="927.0" y2="685.4" stroke="#2a2a2a" stroke-width="2.2"/>
<rect x="911.1" y="690.7" width="21.4" height="149.3" fill="#000"/>
<line x1="966.2" y1="627.5" x2="966.2" y2="614.3" stroke="#2a2a2a" stroke-width="2.1"/>
<line x1="961.0" y1="614.3" x2="971.5" y2="614.3" stroke="#2a2a2a" stroke-width="2.2"/>
<rect x="957.3" y="629.0" width="18.0" height="210.4" fill="#fff" stroke="#000" stroke-width="3.1"/>
<line x1="993.0" y1="639.3" x2="993.0" y2="631.1" stroke="#2a2a2a" stroke-width="2.1"/>
<line x1="987.8" y1="631.1" x2="998.3" y2="631.1" stroke="#2a2a2a" stroke-width="2.2"/>
<rect x="984.1" y="640.8" width="18.0" height="198.6" fill="#fff" stroke="#000" stroke-width="3.1"/>
<line x1="1019.8" y1="653.6" x2="1019.8" y2="634.6" stroke="#2a2a2a" stroke-width="2.1"/>
<line x1="1014.6" y1="634.6" x2="1025.1" y2="634.6" stroke="#2a2a2a" stroke-width="2.2"/>
<rect x="1010.8" y="655.1" width="18.0" height="184.3" fill="#fff" stroke="#000" stroke-width="3.1"/>
<line x1="1064.1" y1="696.4" x2="1064.1" y2="676.8" stroke="#2a2a2a" stroke-width="2.1"/>
<line x1="1058.9" y1="676.8" x2="1069.4" y2="676.8" stroke="#2a2a2a" stroke-width="2.2"/>
<rect x="1055.5" y="698.0" width="17.2" height="141.5" fill="#fff" stroke="#000" stroke-width="3.1"/>
<line x1="1090.9" y1="694.3" x2="1090.9" y2="669.6" stroke="#2a2a2a" stroke-width="2.1"/>
<line x1="1085.6" y1="669.6" x2="1096.1" y2="669.6" stroke="#2a2a2a" stroke-width="2.2"/>
<rect x="1082.3" y="695.8" width="17.2" height="143.6" fill="#fff" stroke="#000" stroke-width="3.1"/>
<line x1="1118.0" y1="721.1" x2="1118.0" y2="701.4" stroke="#2a2a2a" stroke-width="2.1"/>
<line x1="1112.8" y1="701.4" x2="1123.3" y2="701.4" stroke="#2a2a2a" stroke-width="2.2"/>
<rect x="1109.1" y="722.6" width="18.0" height="116.8" fill="#fff" stroke="#000" stroke-width="3.1"/>
<line x1="747.9" y1="579.3" x2="747.9" y2="841.0" stroke="#000" stroke-width="2"/>
<line x1="742.9" y1="840.0" x2="1141.8" y2="840.0" stroke="#000" stroke-width="2"/>
<line x1="742.9" y1="622.1" x2="747.9" y2="622.1" stroke="#000" stroke-width="1.9"/>
<text x="736.4" y="629.5" font-size="20.5" text-anchor="end" fill="#2a2a2a">100</text>
<line x1="742.9" y1="676.8" x2="747.9" y2="676.8" stroke="#000" stroke-width="1.9"/>
<text x="736.4" y="684.1" font-size="20.5" text-anchor="end" fill="#2a2a2a">75</text>
<line x1="742.9" y1="731.1" x2="747.9" y2="731.1" stroke="#000" stroke-width="1.9"/>
<text x="736.4" y="738.4" font-size="20.5" text-anchor="end" fill="#2a2a2a">50</text>
<line x1="742.9" y1="784.6" x2="747.9" y2="784.6" stroke="#000" stroke-width="1.9"/>
<text x="736.4" y="792.0" font-size="20.5" text-anchor="end" fill="#2a2a2a">25</text>
<line x1="742.9" y1="840.0" x2="747.9" y2="840.0" stroke="#000" stroke-width="1.9"/>
<text x="736.4" y="847.3" font-size="20.5" text-anchor="end" fill="#2a2a2a">0</text>
<line x1="770.4" y1="840.0" x2="770.4" y2="846.0" stroke="#000" stroke-width="1.9"/>
<text x="770.4" y="870.6" font-size="20.5" text-anchor="middle" textLength="28.5" lengthAdjust="spacingAndGlyphs" fill="#2a2a2a">0.4</text>
<text x="770.4" y="895.5" font-size="20.5" text-anchor="middle" fill="#111">-</text>
<line x1="797.0" y1="840.0" x2="797.0" y2="846.0" stroke="#000" stroke-width="1.9"/>
<text x="797.0" y="870.6" font-size="20.5" text-anchor="middle" fill="#2a2a2a">1</text>
<text x="797.0" y="895.5" font-size="20.5" text-anchor="middle" fill="#111">-</text>
<line x1="823.8" y1="840.0" x2="823.8" y2="846.0" stroke="#000" stroke-width="1.9"/>
<text x="823.8" y="870.6" font-size="20.5" text-anchor="middle" fill="#2a2a2a">4</text>
<text x="823.8" y="895.5" font-size="20.5" text-anchor="middle" fill="#111">-</text>
<line x1="868.2" y1="840.0" x2="868.2" y2="846.0" stroke="#000" stroke-width="1.9"/>
<text x="868.2" y="870.6" font-size="20.5" text-anchor="middle" textLength="28.5" lengthAdjust="spacingAndGlyphs" fill="#2a2a2a">0.4</text>
<text x="868.2" y="897.0" font-size="19" font-weight="bold" text-anchor="middle" fill="#111">+</text>
<line x1="894.8" y1="840.0" x2="894.8" y2="846.0" stroke="#000" stroke-width="1.9"/>
<text x="894.8" y="870.6" font-size="20.5" text-anchor="middle" fill="#2a2a2a">1</text>
<text x="894.8" y="897.0" font-size="19" font-weight="bold" text-anchor="middle" fill="#111">+</text>
<line x1="921.8" y1="840.0" x2="921.8" y2="846.0" stroke="#000" stroke-width="1.9"/>
<text x="921.8" y="870.6" font-size="20.5" text-anchor="middle" fill="#2a2a2a">4</text>
<text x="921.8" y="897.0" font-size="19" font-weight="bold" text-anchor="middle" fill="#111">+</text>
<line x1="966.2" y1="840.0" x2="966.2" y2="846.0" stroke="#000" stroke-width="1.9"/>
<text x="966.2" y="870.6" font-size="20.5" text-anchor="middle" textLength="28.5" lengthAdjust="spacingAndGlyphs" fill="#2a2a2a">0.4</text>
<text x="966.2" y="895.5" font-size="20.5" text-anchor="middle" fill="#111">-</text>
<line x1="993.0" y1="840.0" x2="993.0" y2="846.0" stroke="#000" stroke-width="1.9"/>
<text x="993.0" y="870.6" font-size="20.5" text-anchor="middle" fill="#2a2a2a">1</text>
<text x="993.0" y="895.5" font-size="20.5" text-anchor="middle" fill="#111">-</text>
<line x1="1019.8" y1="840.0" x2="1019.8" y2="846.0" stroke="#000" stroke-width="1.9"/>
<text x="1019.8" y="870.6" font-size="20.5" text-anchor="middle" fill="#2a2a2a">4</text>
<text x="1019.8" y="895.5" font-size="20.5" text-anchor="middle" fill="#111">-</text>
<line x1="1064.1" y1="840.0" x2="1064.1" y2="846.0" stroke="#000" stroke-width="1.9"/>
<text x="1064.1" y="870.6" font-size="20.5" text-anchor="middle" textLength="28.5" lengthAdjust="spacingAndGlyphs" fill="#2a2a2a">0.4</text>
<text x="1064.1" y="897.0" font-size="19" font-weight="bold" text-anchor="middle" fill="#111">+</text>
<line x1="1090.9" y1="840.0" x2="1090.9" y2="846.0" stroke="#000" stroke-width="1.9"/>
<text x="1090.9" y="870.6" font-size="20.5" text-anchor="middle" fill="#2a2a2a">1</text>
<text x="1090.9" y="897.0" font-size="19" font-weight="bold" text-anchor="middle" fill="#111">+</text>
<line x1="1118.0" y1="840.0" x2="1118.0" y2="846.0" stroke="#000" stroke-width="1.9"/>
<text x="1118.0" y="870.6" font-size="20.5" text-anchor="middle" fill="#2a2a2a">4</text>
<text x="1118.0" y="897.0" font-size="19" font-weight="bold" text-anchor="middle" fill="#111">+</text>
<text x="1147.1" y="866.3" font-size="23.5" font-weight="bold" textLength="132.1" lengthAdjust="spacingAndGlyphs">µM ABT-263</text>
<text x="1147.1" y="899.1" font-size="23.5" font-weight="bold" textLength="60.7" lengthAdjust="spacingAndGlyphs">10 Gy</text>
<path d="M820.4 628.2V615.7H917.5V628.2" fill="none" stroke="#222" stroke-width="2" stroke-linejoin="round"/>
<text x="867.5" y="618.2" font-size="18.8" font-weight="bold" text-anchor="middle" fill="#1c1c1c" letter-spacing="2.9">*</text>
<path d="M965.0 599.6V587.5H1061.4V599.6" fill="none" stroke="#000" stroke-width="2" stroke-linejoin="round"/>
<text x="1014.0" y="589.9" font-size="18.8" font-weight="bold" text-anchor="middle" fill="#1c1c1c" letter-spacing="2.9">**</text>
<path d="M989.3 615.0V603.2H1085.4V615.0" fill="none" stroke="#707070" stroke-width="2" stroke-linejoin="round"/>
<text x="1039.0" y="605.3" font-size="18.8" font-weight="bold" text-anchor="middle" fill="#1c1c1c" letter-spacing="2.9">*</text>
<path d="M1013.9 628.2V615.7H1111.4V628.2" fill="none" stroke="#333" stroke-width="2" stroke-linejoin="round"/>
<text x="1061.8" y="618.5" font-size="18.8" font-weight="bold" text-anchor="middle" fill="#1c1c1c" letter-spacing="2.9">**</text>
<text x="866.5" y="650.7" font-size="18.8" font-weight="bold" text-anchor="middle" fill="#1c1c1c" letter-spacing="2.9">*</text>
<text x="895.0" y="647.8" font-size="18.8" font-weight="bold" text-anchor="middle" fill="#1c1c1c" letter-spacing="2.9">*</text>
<text x="922.5" y="686.0" font-size="18.8" font-weight="bold" text-anchor="middle" fill="#1c1c1c" letter-spacing="2.9">**</text>
<text x="1065.4" y="679.2" font-size="18.8" font-weight="bold" text-anchor="middle" fill="#1c1c1c" letter-spacing="2.9">***</text>
<text x="1090.7" y="667.4" font-size="18.8" font-weight="bold" text-anchor="middle" fill="#1c1c1c" letter-spacing="2.9">***</text>
<text x="1119.0" y="703.9" font-size="18.8" font-weight="bold" text-anchor="middle" fill="#1c1c1c" letter-spacing="2.9">***</text>
<text x="683.1" y="847.1" font-size="23.7" font-weight="bold" stroke="#000" stroke-width="0.55" textLength="273.2" lengthAdjust="spacingAndGlyphs" transform="rotate(-90 683.1 847.1)">Living cells <tspan font-weight="normal" stroke="none">[%</tspan> of control<tspan font-weight="normal" stroke="none">]</tspan></text>
<line x1="1412.9" y1="629.6" x2="1412.9" y2="615.5" stroke="#2a2a2a" stroke-width="2.1"/>
<line x1="1407.6" y1="615.5" x2="1418.1" y2="615.5" stroke="#2a2a2a" stroke-width="2.2"/>
<rect x="1402.4" y="629.6" width="21.0" height="210.3" fill="#000"/>
<line x1="1439.5" y1="629.6" x2="1439.5" y2="627.7" stroke="#2a2a2a" stroke-width="2.1"/>
<line x1="1434.2" y1="627.7" x2="1444.7" y2="627.7" stroke="#2a2a2a" stroke-width="2.2"/>
<rect x="1429.0" y="629.6" width="21.0" height="210.3" fill="#000"/>
<line x1="1466.5" y1="633.3" x2="1466.5" y2="629.6" stroke="#2a2a2a" stroke-width="2.1"/>
<line x1="1461.2" y1="629.6" x2="1471.7" y2="629.6" stroke="#2a2a2a" stroke-width="2.2"/>
<rect x="1455.9" y="633.3" width="21.0" height="206.6" fill="#000"/>
<line x1="1510.8" y1="654.3" x2="1510.8" y2="636.6" stroke="#2a2a2a" stroke-width="2.1"/>
<line x1="1505.6" y1="636.6" x2="1516.1" y2="636.6" stroke="#2a2a2a" stroke-width="2.2"/>
<rect x="1500.3" y="654.3" width="21.0" height="185.5" fill="#000"/>
<line x1="1537.6" y1="671.7" x2="1537.6" y2="645.8" stroke="#2a2a2a" stroke-width="2.1"/>
<line x1="1532.3" y1="645.8" x2="1542.8" y2="645.8" stroke="#2a2a2a" stroke-width="2.2"/>
<rect x="1527.3" y="671.7" width="20.7" height="168.1" fill="#000"/>
<line x1="1564.4" y1="682.1" x2="1564.4" y2="671.0" stroke="#2a2a2a" stroke-width="2.1"/>
<line x1="1559.1" y1="671.0" x2="1569.6" y2="671.0" stroke="#2a2a2a" stroke-width="2.2"/>
<rect x="1553.9" y="682.1" width="21.0" height="157.8" fill="#000"/>
<line x1="1609.3" y1="634.8" x2="1609.3" y2="625.9" stroke="#2a2a2a" stroke-width="2.1"/>
<line x1="1604.0" y1="625.9" x2="1614.5" y2="625.9" stroke="#2a2a2a" stroke-width="2.2"/>
<rect x="1600.9" y="636.3" width="16.8" height="203.0" fill="#fff" stroke="#000" stroke-width="3.1"/>
<line x1="1636.1" y1="643.3" x2="1636.1" y2="621.4" stroke="#2a2a2a" stroke-width="2.1"/>
<line x1="1630.8" y1="621.4" x2="1641.3" y2="621.4" stroke="#2a2a2a" stroke-width="2.2"/>
<rect x="1627.5" y="644.8" width="17.2" height="194.5" fill="#fff" stroke="#000" stroke-width="3.1"/>
<line x1="1663.1" y1="664.3" x2="1663.1" y2="657.3" stroke="#2a2a2a" stroke-width="2.1"/>
<line x1="1657.8" y1="657.3" x2="1668.3" y2="657.3" stroke="#2a2a2a" stroke-width="2.2"/>
<rect x="1654.5" y="665.9" width="17.2" height="173.4" fill="#fff" stroke="#000" stroke-width="3.1"/>
<line x1="1707.0" y1="687.6" x2="1707.0" y2="671.7" stroke="#2a2a2a" stroke-width="2.1"/>
<line x1="1701.8" y1="671.7" x2="1712.3" y2="671.7" stroke="#2a2a2a" stroke-width="2.2"/>
<rect x="1698.4" y="689.1" width="17.2" height="150.2" fill="#fff" stroke="#000" stroke-width="3.1"/>
<line x1="1734.0" y1="699.8" x2="1734.0" y2="673.6" stroke="#2a2a2a" stroke-width="2.1"/>
<line x1="1728.8" y1="673.6" x2="1739.3" y2="673.6" stroke="#2a2a2a" stroke-width="2.2"/>
<rect x="1725.4" y="701.3" width="17.2" height="138.0" fill="#fff" stroke="#000" stroke-width="3.1"/>
<line x1="1760.6" y1="730.1" x2="1760.6" y2="713.5" stroke="#2a2a2a" stroke-width="2.1"/>
<line x1="1755.4" y1="713.5" x2="1765.9" y2="713.5" stroke="#2a2a2a" stroke-width="2.2"/>
<rect x="1752.0" y="731.6" width="17.2" height="107.7" fill="#fff" stroke="#000" stroke-width="3.1"/>
<line x1="1391.6" y1="577.8" x2="1391.6" y2="840.9" stroke="#000" stroke-width="2"/>
<line x1="1385.3" y1="839.9" x2="1785.2" y2="839.9" stroke="#000" stroke-width="2"/>
<line x1="1385.3" y1="621.8" x2="1391.6" y2="621.8" stroke="#000" stroke-width="1.9"/>
<text x="1379.8" y="629.2" font-size="20.5" text-anchor="end" fill="#2a2a2a">100</text>
<line x1="1385.3" y1="676.5" x2="1391.6" y2="676.5" stroke="#000" stroke-width="1.9"/>
<text x="1379.8" y="683.9" font-size="20.5" text-anchor="end" fill="#2a2a2a">75</text>
<line x1="1385.3" y1="731.2" x2="1391.6" y2="731.2" stroke="#000" stroke-width="1.9"/>
<text x="1379.8" y="738.5" font-size="20.5" text-anchor="end" fill="#2a2a2a">50</text>
<line x1="1385.3" y1="786.3" x2="1391.6" y2="786.3" stroke="#000" stroke-width="1.9"/>
<text x="1379.8" y="793.6" font-size="20.5" text-anchor="end" fill="#2a2a2a">25</text>
<line x1="1385.3" y1="839.9" x2="1391.6" y2="839.9" stroke="#000" stroke-width="1.9"/>
<text x="1379.8" y="847.2" font-size="20.5" text-anchor="end" fill="#2a2a2a">0</text>
<line x1="1412.9" y1="839.9" x2="1412.9" y2="845.9" stroke="#000" stroke-width="1.9"/>
<text x="1412.9" y="869.8" font-size="20.5" text-anchor="middle" textLength="28.5" lengthAdjust="spacingAndGlyphs" fill="#2a2a2a">0.4</text>
<text x="1412.9" y="897.4" font-size="20.5" text-anchor="middle" fill="#111">-</text>
<line x1="1439.5" y1="839.9" x2="1439.5" y2="845.9" stroke="#000" stroke-width="1.9"/>
<text x="1439.5" y="869.8" font-size="20.5" text-anchor="middle" fill="#2a2a2a">1</text>
<text x="1439.5" y="897.4" font-size="20.5" text-anchor="middle" fill="#111">-</text>
<line x1="1466.5" y1="839.9" x2="1466.5" y2="845.9" stroke="#000" stroke-width="1.9"/>
<text x="1466.5" y="869.8" font-size="20.5" text-anchor="middle" fill="#2a2a2a">4</text>
<text x="1466.5" y="897.4" font-size="20.5" text-anchor="middle" fill="#111">-</text>
<line x1="1510.8" y1="839.9" x2="1510.8" y2="845.9" stroke="#000" stroke-width="1.9"/>
<text x="1510.8" y="869.8" font-size="20.5" text-anchor="middle" textLength="28.5" lengthAdjust="spacingAndGlyphs" fill="#2a2a2a">0.4</text>
<text x="1510.8" y="899.0" font-size="19" font-weight="bold" text-anchor="middle" fill="#111">+</text>
<line x1="1537.6" y1="839.9" x2="1537.6" y2="845.9" stroke="#000" stroke-width="1.9"/>
<text x="1537.6" y="869.8" font-size="20.5" text-anchor="middle" fill="#2a2a2a">1</text>
<text x="1537.6" y="899.0" font-size="19" font-weight="bold" text-anchor="middle" fill="#111">+</text>
<line x1="1564.4" y1="839.9" x2="1564.4" y2="845.9" stroke="#000" stroke-width="1.9"/>
<text x="1564.4" y="869.8" font-size="20.5" text-anchor="middle" fill="#2a2a2a">4</text>
<text x="1564.4" y="899.0" font-size="19" font-weight="bold" text-anchor="middle" fill="#111">+</text>
<line x1="1609.3" y1="839.9" x2="1609.3" y2="845.9" stroke="#000" stroke-width="1.9"/>
<text x="1609.3" y="869.8" font-size="20.5" text-anchor="middle" textLength="28.5" lengthAdjust="spacingAndGlyphs" fill="#2a2a2a">0.4</text>
<text x="1609.3" y="897.4" font-size="20.5" text-anchor="middle" fill="#111">-</text>
<line x1="1636.1" y1="839.9" x2="1636.1" y2="845.9" stroke="#000" stroke-width="1.9"/>
<text x="1636.1" y="869.8" font-size="20.5" text-anchor="middle" fill="#2a2a2a">1</text>
<text x="1636.1" y="897.4" font-size="20.5" text-anchor="middle" fill="#111">-</text>
<line x1="1663.1" y1="839.9" x2="1663.1" y2="845.9" stroke="#000" stroke-width="1.9"/>
<text x="1663.1" y="869.8" font-size="20.5" text-anchor="middle" fill="#2a2a2a">4</text>
<text x="1663.1" y="897.4" font-size="20.5" text-anchor="middle" fill="#111">-</text>
<line x1="1707.0" y1="839.9" x2="1707.0" y2="845.9" stroke="#000" stroke-width="1.9"/>
<text x="1707.0" y="869.8" font-size="20.5" text-anchor="middle" textLength="28.5" lengthAdjust="spacingAndGlyphs" fill="#2a2a2a">0.4</text>
<text x="1707.0" y="899.0" font-size="19" font-weight="bold" text-anchor="middle" fill="#111">+</text>
<line x1="1734.0" y1="839.9" x2="1734.0" y2="845.9" stroke="#000" stroke-width="1.9"/>
<text x="1734.0" y="869.8" font-size="20.5" text-anchor="middle" fill="#2a2a2a">1</text>
<text x="1734.0" y="899.0" font-size="19" font-weight="bold" text-anchor="middle" fill="#111">+</text>
<line x1="1760.6" y1="839.9" x2="1760.6" y2="845.9" stroke="#000" stroke-width="1.9"/>
<text x="1760.6" y="869.8" font-size="20.5" text-anchor="middle" fill="#2a2a2a">4</text>
<text x="1760.6" y="899.0" font-size="19" font-weight="bold" text-anchor="middle" fill="#111">+</text>
<text x="1788.2" y="869.7" font-size="23.5" font-weight="bold" textLength="133.0" lengthAdjust="spacingAndGlyphs">µM ABT-263</text>
<text x="1788.2" y="901.1" font-size="23.5" font-weight="bold" textLength="60.6" lengthAdjust="spacingAndGlyphs">10 Gy</text>
<path d="M1460.7 550.1V538.7H1665.1V550.1" fill="none" stroke="#000" stroke-width="2" stroke-linejoin="round"/>
<text x="1579.7" y="540.1" font-size="18.8" font-weight="bold" text-anchor="middle" fill="#1c1c1c" letter-spacing="2.9">*</text>
<path d="M1437.8 591.5V579.7H1534.6V591.5" fill="none" stroke="#000" stroke-width="2" stroke-linejoin="round"/>
<text x="1487.3" y="581.9" font-size="18.8" font-weight="bold" text-anchor="middle" fill="#1c1c1c" letter-spacing="2.9">*</text>
<path d="M1465.5 607.0V595.9H1563.5V607.0" fill="none" stroke="#707070" stroke-width="2" stroke-linejoin="round"/>
<text x="1512.4" y="598.1" font-size="18.8" font-weight="bold" text-anchor="middle" fill="#1c1c1c" letter-spacing="2.9">**</text>
<path d="M1605.2 588.6V576.7H1702.8V588.6" fill="none" stroke="#707070" stroke-width="2" stroke-linejoin="round"/>
<text x="1647.3" y="578.9" font-size="18.8" font-weight="bold" text-anchor="middle" fill="#1c1c1c" letter-spacing="2.9">*</text>
<path d="M1631.8 603.3V591.5H1728.7V603.3" fill="none" stroke="#000" stroke-width="2" stroke-linejoin="round"/>
<text x="1677.6" y="593.7" font-size="18.8" font-weight="bold" text-anchor="middle" fill="#1c1c1c" letter-spacing="2.9">*</text>
<path d="M1660.7 616.6V605.2H1758.6V616.6" fill="none" stroke="#707070" stroke-width="2" stroke-linejoin="round"/>
<text x="1701.6" y="607.8" font-size="18.8" font-weight="bold" text-anchor="middle" fill="#1c1c1c" letter-spacing="2.9">**</text>
<text x="1536.1" y="645.4" font-size="18.8" font-weight="bold" text-anchor="middle" fill="#1c1c1c" letter-spacing="2.9">*</text>
<text x="1564.9" y="668.4" font-size="18.8" font-weight="bold" text-anchor="middle" fill="#1c1c1c" letter-spacing="2.9">**</text>
<text x="1661.0" y="653.9" font-size="18.8" font-weight="bold" text-anchor="middle" fill="#1c1c1c" letter-spacing="2.9">**</text>
<text x="1707.2" y="668.4" font-size="18.8" font-weight="bold" text-anchor="middle" fill="#1c1c1c" letter-spacing="2.9">***</text>
<text x="1736.0" y="675.0" font-size="18.8" font-weight="bold" text-anchor="middle" fill="#1c1c1c" letter-spacing="2.9">***</text>
<text x="1760.0" y="705.7" font-size="18.8" font-weight="bold" text-anchor="middle" fill="#1c1c1c" letter-spacing="2.9">***</text>
<text x="1324.4" y="848.4" font-size="23.7" font-weight="bold" stroke="#000" stroke-width="0.55" textLength="274.2" lengthAdjust="spacingAndGlyphs" transform="rotate(-90 1324.4 848.4)">Living cells <tspan font-weight="normal" stroke="none">[%</tspan> of control<tspan font-weight="normal" stroke="none">]</tspan></text>
<rect x="1835.0" y="180.1" width="51.9" height="37.5" rx="3.5" fill="#000"/>
<rect x="1837.6" y="224.8" width="46.7" height="32.4" rx="2" fill="#fff" stroke="#000" stroke-width="5.2"/>
<text x="1903.5" y="205.0" font-size="27" font-weight="bold" textLength="31.4" lengthAdjust="spacingAndGlyphs">Nx</text>
<text x="1903.5" y="246.9" font-size="27" font-weight="bold" textLength="31.4" lengthAdjust="spacingAndGlyphs">Hx</text>
<rect x="1835.0" y="619.3" width="51.9" height="37.5" rx="3.5" fill="#000"/>
<rect x="1837.6" y="664.0" width="46.7" height="32.4" rx="2" fill="#fff" stroke="#000" stroke-width="5.2"/>
<text x="1903.5" y="644.2" font-size="27" font-weight="bold" textLength="31.4" lengthAdjust="spacingAndGlyphs">Nx</text>
<text x="1903.5" y="686.2" font-size="27" font-weight="bold" textLength="31.4" lengthAdjust="spacingAndGlyphs">Hx</text>
<text x="234.0" y="44.8" font-size="31.7" font-weight="bold" textLength="118.0" lengthAdjust="spacingAndGlyphs">HCT116</text>
<text x="797.1" y="44.8" font-size="31.7" font-weight="bold" textLength="285.7" lengthAdjust="spacingAndGlyphs">non-sel.&#160; NCI-H460</text>
<text x="1462.9" y="44.8" font-size="31.7" font-weight="bold" textLength="265.7" lengthAdjust="spacingAndGlyphs">Hx-sel.&#160; NCI-H460</text>
<text x="234.0" y="493.4" font-size="32.5" font-weight="bold" textLength="118.0" lengthAdjust="spacingAndGlyphs">HCT116</text>
<text x="797.1" y="493.4" font-size="32.5" font-weight="bold" textLength="285.7" lengthAdjust="spacingAndGlyphs">non-sel.&#160; NCI-H460</text>
<text x="1462.9" y="493.4" font-size="32.5" font-weight="bold" textLength="265.7" lengthAdjust="spacingAndGlyphs">Hx-sel.&#160; NCI-H460</text>
<text x="0.6" y="46.2" font-size="63.3" stroke="#000" stroke-width="1.9" stroke-linejoin="round">A</text>
<text x="0.6" y="497.3" font-size="63.3" stroke="#000" stroke-width="1.9" stroke-linejoin="round" textLength="44" lengthAdjust="spacingAndGlyphs">B</text>
<text x="1.0" y="1000.6" font-size="63.3" stroke="#000" stroke-width="1.9" stroke-linejoin="round">C</text>
<line x1="184.6" y1="1048.6" x2="184.6" y2="1306.7" stroke="#000" stroke-width="2"/>
<line x1="183.6" y1="1305.7" x2="578.6" y2="1305.7" stroke="#000" stroke-width="2"/>
<line x1="184.6" y1="1305.7" x2="184.6" y2="1311.7" stroke="#000" stroke-width="1.6"/>
<text x="184.6" y="1336.8" font-size="21" text-anchor="middle" fill="#2a2a2a">0</text>
<line x1="250.2" y1="1305.7" x2="250.2" y2="1311.7" stroke="#000" stroke-width="1.6"/>
<text x="250.2" y="1336.8" font-size="21" text-anchor="middle" fill="#2a2a2a">1</text>
<line x1="315.8" y1="1305.7" x2="315.8" y2="1311.7" stroke="#000" stroke-width="1.6"/>
<text x="315.8" y="1336.8" font-size="21" text-anchor="middle" fill="#2a2a2a">2</text>
<line x1="381.4" y1="1305.7" x2="381.4" y2="1311.7" stroke="#000" stroke-width="1.6"/>
<text x="381.4" y="1336.8" font-size="21" text-anchor="middle" fill="#2a2a2a">3</text>
<line x1="446.9" y1="1305.7" x2="446.9" y2="1311.7" stroke="#000" stroke-width="1.6"/>
<text x="446.9" y="1336.8" font-size="21" text-anchor="middle" fill="#2a2a2a">4</text>
<line x1="512.5" y1="1305.7" x2="512.5" y2="1311.7" stroke="#000" stroke-width="1.6"/>
<text x="512.5" y="1336.8" font-size="21" text-anchor="middle" fill="#2a2a2a">5</text>
<text x="533.9" y="1335.7" font-size="22" font-weight="bold" textLength="28.6" lengthAdjust="spacingAndGlyphs">Gy</text>
<line x1="179.6" y1="1049.6" x2="184.6" y2="1049.6" stroke="#000" stroke-width="1.6"/>
<text x="175.6" y="1057.2" font-size="21" text-anchor="end" fill="#2a2a2a">1</text>
<line x1="179.6" y1="1160.4" x2="184.6" y2="1160.4" stroke="#000" stroke-width="1.6"/>
<text x="175.6" y="1167.9" font-size="21" text-anchor="end" textLength="29.5" lengthAdjust="spacingAndGlyphs" fill="#2a2a2a">0.1</text>
<line x1="179.6" y1="1271.1" x2="184.6" y2="1271.1" stroke="#000" stroke-width="1.6"/>
<text x="175.6" y="1277.6" font-size="21" text-anchor="end" textLength="41.5" lengthAdjust="spacingAndGlyphs" fill="#2a2a2a">0.01</text>
<line x1="181.6" y1="1127.0" x2="184.6" y2="1127.0" stroke="#000" stroke-width="1.1"/>
<line x1="181.6" y1="1107.5" x2="184.6" y2="1107.5" stroke="#000" stroke-width="1.1"/>
<line x1="181.6" y1="1093.7" x2="184.6" y2="1093.7" stroke="#000" stroke-width="1.1"/>
<line x1="181.6" y1="1083.0" x2="184.6" y2="1083.0" stroke="#000" stroke-width="1.1"/>
<line x1="181.6" y1="1074.2" x2="184.6" y2="1074.2" stroke="#000" stroke-width="1.1"/>
<line x1="181.6" y1="1066.8" x2="184.6" y2="1066.8" stroke="#000" stroke-width="1.1"/>
<line x1="181.6" y1="1060.4" x2="184.6" y2="1060.4" stroke="#000" stroke-width="1.1"/>
<line x1="181.6" y1="1054.7" x2="184.6" y2="1054.7" stroke="#000" stroke-width="1.1"/>
<line x1="181.6" y1="1237.7" x2="184.6" y2="1237.7" stroke="#000" stroke-width="1.1"/>
<line x1="181.6" y1="1218.2" x2="184.6" y2="1218.2" stroke="#000" stroke-width="1.1"/>
<line x1="181.6" y1="1204.4" x2="184.6" y2="1204.4" stroke="#000" stroke-width="1.1"/>
<line x1="181.6" y1="1193.7" x2="184.6" y2="1193.7" stroke="#000" stroke-width="1.1"/>
<line x1="181.6" y1="1184.9" x2="184.6" y2="1184.9" stroke="#000" stroke-width="1.1"/>
<line x1="181.6" y1="1177.5" x2="184.6" y2="1177.5" stroke="#000" stroke-width="1.1"/>
<line x1="181.6" y1="1171.1" x2="184.6" y2="1171.1" stroke="#000" stroke-width="1.1"/>
<line x1="181.6" y1="1165.4" x2="184.6" y2="1165.4" stroke="#000" stroke-width="1.1"/>
<line x1="181.6" y1="1304.4" x2="184.6" y2="1304.4" stroke="#000" stroke-width="1.1"/>
<line x1="181.6" y1="1295.6" x2="184.6" y2="1295.6" stroke="#000" stroke-width="1.1"/>
<line x1="181.6" y1="1288.2" x2="184.6" y2="1288.2" stroke="#000" stroke-width="1.1"/>
<line x1="181.6" y1="1281.8" x2="184.6" y2="1281.8" stroke="#000" stroke-width="1.1"/>
<line x1="181.6" y1="1276.1" x2="184.6" y2="1276.1" stroke="#000" stroke-width="1.1"/>
<line x1="184.6" y1="1053.2" x2="184.6" y2="1071.8" stroke="#111" stroke-width="2"/>
<line x1="178.4" y1="1053.2" x2="190.8" y2="1053.2" stroke="#111" stroke-width="2"/>
<line x1="178.4" y1="1071.8" x2="190.8" y2="1071.8" stroke="#111" stroke-width="2"/>
<line x1="250.0" y1="1097.9" x2="250.0" y2="1120.0" stroke="#111" stroke-width="2"/>
<line x1="243.8" y1="1097.9" x2="256.2" y2="1097.9" stroke="#111" stroke-width="2"/>
<line x1="243.8" y1="1120.0" x2="256.2" y2="1120.0" stroke="#111" stroke-width="2"/>
<line x1="381.4" y1="1137.1" x2="381.4" y2="1172.9" stroke="#111" stroke-width="2"/>
<line x1="375.2" y1="1137.1" x2="387.6" y2="1137.1" stroke="#111" stroke-width="2"/>
<line x1="375.2" y1="1172.9" x2="387.6" y2="1172.9" stroke="#111" stroke-width="2"/>
<line x1="381.4" y1="1171.1" x2="381.4" y2="1225.7" stroke="#111" stroke-width="2"/>
<line x1="375.2" y1="1171.1" x2="387.6" y2="1171.1" stroke="#111" stroke-width="2"/>
<line x1="375.2" y1="1225.7" x2="387.6" y2="1225.7" stroke="#111" stroke-width="2"/>
<line x1="512.5" y1="1218.6" x2="512.5" y2="1263.9" stroke="#111" stroke-width="2"/>
<line x1="506.3" y1="1218.6" x2="518.7" y2="1218.6" stroke="#111" stroke-width="2"/>
<line x1="506.3" y1="1263.9" x2="518.7" y2="1263.9" stroke="#111" stroke-width="2"/>
<line x1="512.5" y1="1264.6" x2="512.5" y2="1308.7" stroke="#111" stroke-width="2"/>
<line x1="506.3" y1="1264.6" x2="518.7" y2="1264.6" stroke="#111" stroke-width="2"/>
<line x1="250.0" y1="1077.1" x2="250.0" y2="1086.1" stroke="#111" stroke-width="2"/>
<line x1="243.8" y1="1077.1" x2="256.2" y2="1077.1" stroke="#111" stroke-width="2"/>
<line x1="243.8" y1="1086.1" x2="256.2" y2="1086.1" stroke="#111" stroke-width="2"/>
<polyline points="184.6,1058.6 250.0,1107.5 381.4,1195.0 512.5,1280.0" fill="none" stroke="#8e8e8e" stroke-width="2.5"/>
<polyline points="184.6,1049.6 250.0,1081.8 381.4,1151.4 512.5,1236.4" fill="none" stroke="#000" stroke-width="3.6"/>
<path d="M184.6 1050.8L191.9 1063.8H177.4Z" fill="#000"/>
<path d="M250.0 1099.7L257.2 1112.7H242.8Z" fill="#000"/>
<path d="M381.4 1187.2L388.7 1200.2H374.2Z" fill="#000"/>
<path d="M512.5 1272.2L519.8 1285.2H505.2Z" fill="#000"/>
<circle cx="184.6" cy="1049.6" r="6.6" fill="#000"/>
<circle cx="250.0" cy="1081.8" r="6.6" fill="#000"/>
<circle cx="381.4" cy="1151.4" r="6.6" fill="#000"/>
<circle cx="512.5" cy="1236.4" r="6.6" fill="#000"/>
<text x="251.5" y="1146.0" font-size="18.8" font-weight="bold" text-anchor="middle" fill="#1c1c1c" letter-spacing="2.9">*</text>
<text x="236.8" y="1262.1" font-size="29.9" font-weight="bold" textLength="40.0" lengthAdjust="spacingAndGlyphs">Nx</text>
<line x1="389.3" y1="1056.8" x2="446.4" y2="1056.8" stroke="#000" stroke-width="5.5"/>
<line x1="389.3" y1="1092.5" x2="446.4" y2="1092.5" stroke="#8e8e8e" stroke-width="5"/>
<circle cx="417.9" cy="1056.8" r="9.3" fill="#000"/>
<path d="M417.9 1080.3L429.4 1100.3H406.4Z" fill="#000" stroke="#000" stroke-width="2.5" stroke-linejoin="round"/>
<text x="458.9" y="1062.3" font-size="24" textLength="151.8" lengthAdjust="spacingAndGlyphs" fill="#111">0 µM ABT-263</text>
<text x="458.9" y="1103.0" font-size="24" textLength="151.8" lengthAdjust="spacingAndGlyphs" fill="#111">1 µM ABT-263</text>
<text x="119.5" y="1274.6" font-size="22.5" font-weight="bold" stroke="#000" stroke-width="0.55" textLength="194.6" lengthAdjust="spacingAndGlyphs" transform="rotate(-90 119.5 1274.6)">Surviving fraction</text>
<line x1="780.7" y1="1046.1" x2="780.7" y2="1302.4" stroke="#000" stroke-width="2"/>
<line x1="779.7" y1="1301.4" x2="1174.3" y2="1301.4" stroke="#000" stroke-width="2"/>
<line x1="780.7" y1="1301.4" x2="780.7" y2="1307.4" stroke="#000" stroke-width="1.6"/>
<text x="780.7" y="1333.9" font-size="21" text-anchor="middle" fill="#2a2a2a">0</text>
<line x1="846.3" y1="1301.4" x2="846.3" y2="1307.4" stroke="#000" stroke-width="1.6"/>
<text x="846.3" y="1333.9" font-size="21" text-anchor="middle" fill="#2a2a2a">1</text>
<line x1="911.9" y1="1301.4" x2="911.9" y2="1307.4" stroke="#000" stroke-width="1.6"/>
<text x="911.9" y="1333.9" font-size="21" text-anchor="middle" fill="#2a2a2a">2</text>
<line x1="977.4" y1="1301.4" x2="977.4" y2="1307.4" stroke="#000" stroke-width="1.6"/>
<text x="977.4" y="1333.9" font-size="21" text-anchor="middle" fill="#2a2a2a">3</text>
<line x1="1043.0" y1="1301.4" x2="1043.0" y2="1307.4" stroke="#000" stroke-width="1.6"/>
<text x="1043.0" y="1333.9" font-size="21" text-anchor="middle" fill="#2a2a2a">4</text>
<line x1="1108.6" y1="1301.4" x2="1108.6" y2="1307.4" stroke="#000" stroke-width="1.6"/>
<text x="1108.6" y="1333.9" font-size="21" text-anchor="middle" fill="#2a2a2a">5</text>
<text x="1129.6" y="1332.8" font-size="22" font-weight="bold" textLength="28.6" lengthAdjust="spacingAndGlyphs">Gy</text>
<line x1="775.7" y1="1047.1" x2="780.7" y2="1047.1" stroke="#000" stroke-width="1.6"/>
<text x="771.7" y="1054.7" font-size="21" text-anchor="end" fill="#2a2a2a">1</text>
<line x1="775.7" y1="1174.6" x2="780.7" y2="1174.6" stroke="#000" stroke-width="1.6"/>
<text x="771.7" y="1182.2" font-size="21" text-anchor="end" textLength="29.5" lengthAdjust="spacingAndGlyphs" fill="#2a2a2a">0.1</text>
<line x1="775.7" y1="1301.4" x2="780.7" y2="1301.4" stroke="#000" stroke-width="2"/>
<text x="771.7" y="1308.9" font-size="21" text-anchor="end" textLength="41.5" lengthAdjust="spacingAndGlyphs" fill="#2a2a2a">0.01</text>
<line x1="777.7" y1="1136.3" x2="780.7" y2="1136.3" stroke="#000" stroke-width="1.1"/>
<line x1="777.7" y1="1113.8" x2="780.7" y2="1113.8" stroke="#000" stroke-width="1.1"/>
<line x1="777.7" y1="1097.9" x2="780.7" y2="1097.9" stroke="#000" stroke-width="1.1"/>
<line x1="777.7" y1="1085.5" x2="780.7" y2="1085.5" stroke="#000" stroke-width="1.1"/>
<line x1="777.7" y1="1075.4" x2="780.7" y2="1075.4" stroke="#000" stroke-width="1.1"/>
<line x1="777.7" y1="1066.9" x2="780.7" y2="1066.9" stroke="#000" stroke-width="1.1"/>
<line x1="777.7" y1="1059.5" x2="780.7" y2="1059.5" stroke="#000" stroke-width="1.1"/>
<line x1="777.7" y1="1053.0" x2="780.7" y2="1053.0" stroke="#000" stroke-width="1.1"/>
<line x1="777.7" y1="1263.8" x2="780.7" y2="1263.8" stroke="#000" stroke-width="1.1"/>
<line x1="777.7" y1="1241.3" x2="780.7" y2="1241.3" stroke="#000" stroke-width="1.1"/>
<line x1="777.7" y1="1225.4" x2="780.7" y2="1225.4" stroke="#000" stroke-width="1.1"/>
<line x1="777.7" y1="1213.0" x2="780.7" y2="1213.0" stroke="#000" stroke-width="1.1"/>
<line x1="777.7" y1="1202.9" x2="780.7" y2="1202.9" stroke="#000" stroke-width="1.1"/>
<line x1="777.7" y1="1194.4" x2="780.7" y2="1194.4" stroke="#000" stroke-width="1.1"/>
<line x1="777.7" y1="1187.0" x2="780.7" y2="1187.0" stroke="#000" stroke-width="1.1"/>
<line x1="777.7" y1="1180.5" x2="780.7" y2="1180.5" stroke="#000" stroke-width="1.1"/>
<line x1="977.5" y1="1100.7" x2="977.5" y2="1125.7" stroke="#111" stroke-width="2"/>
<line x1="971.3" y1="1100.7" x2="983.7" y2="1100.7" stroke="#111" stroke-width="2"/>
<line x1="971.3" y1="1125.7" x2="983.7" y2="1125.7" stroke="#111" stroke-width="2"/>
<line x1="977.5" y1="1125.7" x2="977.5" y2="1163.9" stroke="#111" stroke-width="2"/>
<line x1="971.3" y1="1125.7" x2="983.7" y2="1125.7" stroke="#111" stroke-width="2"/>
<line x1="971.3" y1="1163.9" x2="983.7" y2="1163.9" stroke="#111" stroke-width="2"/>
<line x1="1108.6" y1="1167.5" x2="1108.6" y2="1219.3" stroke="#111" stroke-width="2"/>
<line x1="1102.4" y1="1167.5" x2="1114.8" y2="1167.5" stroke="#111" stroke-width="2"/>
<line x1="1102.4" y1="1219.3" x2="1114.8" y2="1219.3" stroke="#111" stroke-width="2"/>
<line x1="1108.6" y1="1219.3" x2="1108.6" y2="1269.3" stroke="#111" stroke-width="2"/>
<line x1="1102.4" y1="1219.3" x2="1114.8" y2="1219.3" stroke="#111" stroke-width="2"/>
<line x1="1102.4" y1="1269.3" x2="1114.8" y2="1269.3" stroke="#111" stroke-width="2"/>
<line x1="1108.6" y1="1240.0" x2="1108.6" y2="1265.7" stroke="#111" stroke-width="2"/>
<line x1="1102.4" y1="1240.0" x2="1114.8" y2="1240.0" stroke="#111" stroke-width="2"/>
<line x1="1102.4" y1="1265.7" x2="1114.8" y2="1265.7" stroke="#111" stroke-width="2"/>
<polyline points="780.7,1063.9 846.4,1083.6 977.5,1143.6 1108.6,1240.0" fill="none" stroke="#8e8e8e" stroke-width="2.5"/>
<polyline points="780.7,1047.1 846.4,1063.9 977.5,1112.1 1108.6,1197.1" fill="none" stroke="#000" stroke-width="3.6"/>
<path d="M780.7 1056.1L788.0 1069.1H773.5Z" fill="#000"/>
<path d="M846.4 1075.8L853.7 1088.8H839.2Z" fill="#000"/>
<path d="M977.5 1135.8L984.8 1148.8H970.2Z" fill="#000"/>
<path d="M1108.6 1232.2L1115.8 1245.2H1101.3Z" fill="#000"/>
<circle cx="780.7" cy="1047.1" r="6.6" fill="#000"/>
<circle cx="846.4" cy="1063.9" r="6.6" fill="#000"/>
<circle cx="977.5" cy="1112.1" r="6.6" fill="#000"/>
<circle cx="1108.6" cy="1197.1" r="6.6" fill="#000"/>
<text x="796.5" y="1091.4" font-size="18.8" font-weight="bold" text-anchor="middle" fill="#1c1c1c" letter-spacing="2.9">**</text>
<text x="847.9" y="1111.7" font-size="18.8" font-weight="bold" text-anchor="middle" fill="#1c1c1c" letter-spacing="2.9">**</text>
<text x="979.0" y="1190.7" font-size="18.8" font-weight="bold" text-anchor="middle" fill="#1c1c1c" letter-spacing="2.9">*</text>
<text x="822.5" y="1262.1" font-size="29.9" font-weight="bold" textLength="40.0" lengthAdjust="spacingAndGlyphs">Nx</text>
<line x1="1025.0" y1="1056.8" x2="1082.1" y2="1056.8" stroke="#000" stroke-width="5.5"/>
<line x1="1025.0" y1="1092.5" x2="1082.1" y2="1092.5" stroke="#8e8e8e" stroke-width="5"/>
<circle cx="1053.6" cy="1056.8" r="9.3" fill="#000"/>
<path d="M1053.6 1080.3L1065.1 1100.3H1042.1Z" fill="#000" stroke="#000" stroke-width="2.5" stroke-linejoin="round"/>
<text x="1095.0" y="1062.3" font-size="24" textLength="150.7" lengthAdjust="spacingAndGlyphs" fill="#111">0 µM ABT-263</text>
<text x="1095.0" y="1103.0" font-size="24" textLength="165.0" lengthAdjust="spacingAndGlyphs" fill="#111">10 µM ABT-263</text>
<text x="716.3" y="1272.9" font-size="22.5" font-weight="bold" stroke="#000" stroke-width="0.55" textLength="194.6" lengthAdjust="spacingAndGlyphs" transform="rotate(-90 716.3 1272.9)">Surviving fraction</text>
<line x1="1430.4" y1="1047.4" x2="1430.4" y2="1304.3" stroke="#000" stroke-width="2"/>
<line x1="1429.4" y1="1303.3" x2="1824.4" y2="1303.3" stroke="#000" stroke-width="2"/>
<line x1="1430.4" y1="1303.3" x2="1430.4" y2="1309.3" stroke="#000" stroke-width="1.6"/>
<text x="1430.4" y="1335.6" font-size="21" text-anchor="middle" fill="#2a2a2a">0</text>
<line x1="1495.9" y1="1303.3" x2="1495.9" y2="1309.3" stroke="#000" stroke-width="1.6"/>
<text x="1495.9" y="1335.6" font-size="21" text-anchor="middle" fill="#2a2a2a">1</text>
<line x1="1561.5" y1="1303.3" x2="1561.5" y2="1309.3" stroke="#000" stroke-width="1.6"/>
<text x="1561.5" y="1335.6" font-size="21" text-anchor="middle" fill="#2a2a2a">2</text>
<line x1="1627.0" y1="1303.3" x2="1627.0" y2="1309.3" stroke="#000" stroke-width="1.6"/>
<text x="1627.0" y="1335.6" font-size="21" text-anchor="middle" fill="#2a2a2a">3</text>
<line x1="1692.6" y1="1303.3" x2="1692.6" y2="1309.3" stroke="#000" stroke-width="1.6"/>
<text x="1692.6" y="1335.6" font-size="21" text-anchor="middle" fill="#2a2a2a">4</text>
<line x1="1758.1" y1="1303.3" x2="1758.1" y2="1309.3" stroke="#000" stroke-width="1.6"/>
<text x="1758.1" y="1335.6" font-size="21" text-anchor="middle" fill="#2a2a2a">5</text>
<text x="1778.9" y="1334.4" font-size="22" font-weight="bold" textLength="28.4" lengthAdjust="spacingAndGlyphs">Gy</text>
<line x1="1425.4" y1="1048.4" x2="1430.4" y2="1048.4" stroke="#000" stroke-width="1.6"/>
<text x="1421.4" y="1055.9" font-size="21" text-anchor="end" fill="#2a2a2a">1</text>
<line x1="1425.4" y1="1176.5" x2="1430.4" y2="1176.5" stroke="#000" stroke-width="1.6"/>
<text x="1421.4" y="1184.1" font-size="21" text-anchor="end" textLength="29.5" lengthAdjust="spacingAndGlyphs" fill="#2a2a2a">0.1</text>
<line x1="1425.4" y1="1303.3" x2="1430.4" y2="1303.3" stroke="#000" stroke-width="2"/>
<text x="1421.4" y="1310.8" font-size="21" text-anchor="end" textLength="41.5" lengthAdjust="spacingAndGlyphs" fill="#2a2a2a">0.01</text>
<line x1="1427.4" y1="1138.0" x2="1430.4" y2="1138.0" stroke="#000" stroke-width="1.1"/>
<line x1="1427.4" y1="1115.4" x2="1430.4" y2="1115.4" stroke="#000" stroke-width="1.1"/>
<line x1="1427.4" y1="1099.4" x2="1430.4" y2="1099.4" stroke="#000" stroke-width="1.1"/>
<line x1="1427.4" y1="1086.9" x2="1430.4" y2="1086.9" stroke="#000" stroke-width="1.1"/>
<line x1="1427.4" y1="1076.8" x2="1430.4" y2="1076.8" stroke="#000" stroke-width="1.1"/>
<line x1="1427.4" y1="1068.2" x2="1430.4" y2="1068.2" stroke="#000" stroke-width="1.1"/>
<line x1="1427.4" y1="1060.8" x2="1430.4" y2="1060.8" stroke="#000" stroke-width="1.1"/>
<line x1="1427.4" y1="1054.2" x2="1430.4" y2="1054.2" stroke="#000" stroke-width="1.1"/>
<line x1="1427.4" y1="1266.1" x2="1430.4" y2="1266.1" stroke="#000" stroke-width="1.1"/>
<line x1="1427.4" y1="1243.6" x2="1430.4" y2="1243.6" stroke="#000" stroke-width="1.1"/>
<line x1="1427.4" y1="1227.6" x2="1430.4" y2="1227.6" stroke="#000" stroke-width="1.1"/>
<line x1="1427.4" y1="1215.1" x2="1430.4" y2="1215.1" stroke="#000" stroke-width="1.1"/>
<line x1="1427.4" y1="1205.0" x2="1430.4" y2="1205.0" stroke="#000" stroke-width="1.1"/>
<line x1="1427.4" y1="1196.4" x2="1430.4" y2="1196.4" stroke="#000" stroke-width="1.1"/>
<line x1="1427.4" y1="1189.0" x2="1430.4" y2="1189.0" stroke="#000" stroke-width="1.1"/>
<line x1="1427.4" y1="1182.4" x2="1430.4" y2="1182.4" stroke="#000" stroke-width="1.1"/>
<line x1="1692.2" y1="1154.0" x2="1692.2" y2="1169.3" stroke="#111" stroke-width="2"/>
<line x1="1686.0" y1="1154.0" x2="1698.4" y2="1154.0" stroke="#111" stroke-width="2"/>
<line x1="1686.0" y1="1169.3" x2="1698.4" y2="1169.3" stroke="#111" stroke-width="2"/>
<line x1="1758.1" y1="1186.0" x2="1758.1" y2="1227.9" stroke="#111" stroke-width="2"/>
<line x1="1751.9" y1="1186.0" x2="1764.3" y2="1186.0" stroke="#111" stroke-width="2"/>
<line x1="1751.9" y1="1227.9" x2="1764.3" y2="1227.9" stroke="#111" stroke-width="2"/>
<line x1="1561.5" y1="1105.9" x2="1561.5" y2="1117.5" stroke="#111" stroke-width="2"/>
<line x1="1555.3" y1="1105.9" x2="1567.7" y2="1105.9" stroke="#111" stroke-width="2"/>
<line x1="1555.3" y1="1117.5" x2="1567.7" y2="1117.5" stroke="#111" stroke-width="2"/>
<line x1="1627.0" y1="1146.0" x2="1627.0" y2="1160.2" stroke="#111" stroke-width="2"/>
<line x1="1620.8" y1="1146.0" x2="1633.2" y2="1146.0" stroke="#111" stroke-width="2"/>
<line x1="1620.8" y1="1160.2" x2="1633.2" y2="1160.2" stroke="#111" stroke-width="2"/>
<line x1="1692.2" y1="1184.2" x2="1692.2" y2="1219.5" stroke="#111" stroke-width="2"/>
<line x1="1686.0" y1="1184.2" x2="1698.4" y2="1184.2" stroke="#111" stroke-width="2"/>
<line x1="1686.0" y1="1219.5" x2="1698.4" y2="1219.5" stroke="#111" stroke-width="2"/>
<line x1="1758.1" y1="1239.5" x2="1758.1" y2="1277.8" stroke="#111" stroke-width="2"/>
<line x1="1751.9" y1="1239.5" x2="1764.3" y2="1239.5" stroke="#111" stroke-width="2"/>
<line x1="1751.9" y1="1277.8" x2="1764.3" y2="1277.8" stroke="#111" stroke-width="2"/>
<polyline points="1430.4,1055.6 1495.9,1078.6 1561.5,1112.1 1627.0,1154.0 1692.2,1200.2 1758.1,1255.9" fill="none" stroke="#8e8e8e" stroke-width="2.5"/>
<polyline points="1430.4,1048.4 1495.9,1064.0 1561.5,1087.3 1627.0,1117.9 1692.2,1161.2 1758.1,1203.1" fill="none" stroke="#000" stroke-width="3.6"/>
<path d="M1430.4 1047.8L1437.6 1060.8H1423.1Z" fill="#000"/>
<path d="M1495.9 1070.8L1503.2 1083.8H1488.7Z" fill="#000"/>
<path d="M1561.5 1104.3L1568.7 1117.3H1554.2Z" fill="#000"/>
<path d="M1627.0 1146.2L1634.3 1159.2H1619.8Z" fill="#000"/>
<path d="M1692.2 1192.4L1699.5 1205.4H1685.0Z" fill="#000"/>
<path d="M1758.1 1248.1L1765.4 1261.1H1750.9Z" fill="#000"/>
<circle cx="1430.4" cy="1048.4" r="6.6" fill="#000"/>
<circle cx="1495.9" cy="1064.0" r="6.6" fill="#000"/>
<circle cx="1561.5" cy="1087.3" r="6.6" fill="#000"/>
<circle cx="1627.0" cy="1117.9" r="6.6" fill="#000"/>
<circle cx="1692.2" cy="1161.2" r="6.6" fill="#000"/>
<circle cx="1758.1" cy="1203.1" r="6.6" fill="#000"/>
<text x="1440.9" y="1083.4" font-size="18.8" font-weight="bold" text-anchor="middle" fill="#1c1c1c" letter-spacing="2.9">*</text>
<text x="1496.3" y="1109.7" font-size="18.8" font-weight="bold" text-anchor="middle" fill="#1c1c1c" letter-spacing="2.9">**</text>
<text x="1562.6" y="1147.9" font-size="18.8" font-weight="bold" text-anchor="middle" fill="#1c1c1c" letter-spacing="2.9">**</text>
<text x="1627.4" y="1189.4" font-size="18.8" font-weight="bold" text-anchor="middle" fill="#1c1c1c" letter-spacing="2.9">***</text>
<text x="1692.9" y="1248.4" font-size="18.8" font-weight="bold" text-anchor="middle" fill="#1c1c1c" letter-spacing="2.9">*</text>
<text x="1758.5" y="1301.9" font-size="18.8" font-weight="bold" text-anchor="middle" fill="#1c1c1c" letter-spacing="2.9">*</text>
<text x="1482.1" y="1262.1" font-size="29.0" font-weight="bold" textLength="40.1" lengthAdjust="spacingAndGlyphs">Nx</text>
<line x1="1706.8" y1="1056.7" x2="1763.2" y2="1056.7" stroke="#000" stroke-width="5.5"/>
<line x1="1706.8" y1="1090.2" x2="1763.2" y2="1090.2" stroke="#8e8e8e" stroke-width="5"/>
<circle cx="1735.0" cy="1056.7" r="9.3" fill="#000"/>
<path d="M1735.0 1078.0L1746.5 1098.0H1723.5Z" fill="#000" stroke="#000" stroke-width="2.5" stroke-linejoin="round"/>
<text x="1776.3" y="1061.8" font-size="24" textLength="150.8" lengthAdjust="spacingAndGlyphs" fill="#111">0 µM ABT-263</text>
<text x="1776.3" y="1102.6" font-size="24" textLength="164.6" lengthAdjust="spacingAndGlyphs" fill="#111">10 µM ABT-263</text>
<text x="1365.6" y="1274.1" font-size="22.5" font-weight="bold" stroke="#000" stroke-width="0.55" textLength="194.8" lengthAdjust="spacingAndGlyphs" transform="rotate(-90 1365.6 1274.1)">Surviving fraction</text>
<line x1="184.6" y1="1419.7" x2="184.6" y2="1676.0" stroke="#000" stroke-width="2"/>
<line x1="183.6" y1="1675.0" x2="578.6" y2="1675.0" stroke="#000" stroke-width="2"/>
<line x1="184.6" y1="1675.0" x2="184.6" y2="1681.0" stroke="#000" stroke-width="1.6"/>
<text x="184.6" y="1706.8" font-size="21" text-anchor="middle" fill="#2a2a2a">0</text>
<line x1="250.2" y1="1675.0" x2="250.2" y2="1681.0" stroke="#000" stroke-width="1.6"/>
<text x="250.2" y="1706.8" font-size="21" text-anchor="middle" fill="#2a2a2a">1</text>
<line x1="315.8" y1="1675.0" x2="315.8" y2="1681.0" stroke="#000" stroke-width="1.6"/>
<text x="315.8" y="1706.8" font-size="21" text-anchor="middle" fill="#2a2a2a">2</text>
<line x1="381.4" y1="1675.0" x2="381.4" y2="1681.0" stroke="#000" stroke-width="1.6"/>
<text x="381.4" y="1706.8" font-size="21" text-anchor="middle" fill="#2a2a2a">3</text>
<line x1="446.9" y1="1675.0" x2="446.9" y2="1681.0" stroke="#000" stroke-width="1.6"/>
<text x="446.9" y="1706.8" font-size="21" text-anchor="middle" fill="#2a2a2a">4</text>
<line x1="512.5" y1="1675.0" x2="512.5" y2="1681.0" stroke="#000" stroke-width="1.6"/>
<text x="512.5" y="1706.8" font-size="21" text-anchor="middle" fill="#2a2a2a">5</text>
<text x="533.9" y="1705.7" font-size="22" font-weight="bold" textLength="28.6" lengthAdjust="spacingAndGlyphs">Gy</text>
<line x1="179.6" y1="1420.7" x2="184.6" y2="1420.7" stroke="#000" stroke-width="1.6"/>
<text x="175.6" y="1428.2" font-size="21" text-anchor="end" fill="#2a2a2a">1</text>
<line x1="179.6" y1="1531.8" x2="184.6" y2="1531.8" stroke="#000" stroke-width="1.6"/>
<text x="175.6" y="1539.3" font-size="21" text-anchor="end" textLength="29.5" lengthAdjust="spacingAndGlyphs" fill="#2a2a2a">0.1</text>
<line x1="179.6" y1="1642.9" x2="184.6" y2="1642.9" stroke="#000" stroke-width="1.6"/>
<text x="175.6" y="1649.4" font-size="21" text-anchor="end" textLength="41.5" lengthAdjust="spacingAndGlyphs" fill="#2a2a2a">0.01</text>
<line x1="181.6" y1="1498.3" x2="184.6" y2="1498.3" stroke="#000" stroke-width="1.1"/>
<line x1="181.6" y1="1478.8" x2="184.6" y2="1478.8" stroke="#000" stroke-width="1.1"/>
<line x1="181.6" y1="1464.9" x2="184.6" y2="1464.9" stroke="#000" stroke-width="1.1"/>
<line x1="181.6" y1="1454.2" x2="184.6" y2="1454.2" stroke="#000" stroke-width="1.1"/>
<line x1="181.6" y1="1445.4" x2="184.6" y2="1445.4" stroke="#000" stroke-width="1.1"/>
<line x1="181.6" y1="1437.9" x2="184.6" y2="1437.9" stroke="#000" stroke-width="1.1"/>
<line x1="181.6" y1="1431.5" x2="184.6" y2="1431.5" stroke="#000" stroke-width="1.1"/>
<line x1="181.6" y1="1425.8" x2="184.6" y2="1425.8" stroke="#000" stroke-width="1.1"/>
<line x1="181.6" y1="1609.4" x2="184.6" y2="1609.4" stroke="#000" stroke-width="1.1"/>
<line x1="181.6" y1="1589.9" x2="184.6" y2="1589.9" stroke="#000" stroke-width="1.1"/>
<line x1="181.6" y1="1576.0" x2="184.6" y2="1576.0" stroke="#000" stroke-width="1.1"/>
<line x1="181.6" y1="1565.2" x2="184.6" y2="1565.2" stroke="#000" stroke-width="1.1"/>
<line x1="181.6" y1="1556.4" x2="184.6" y2="1556.4" stroke="#000" stroke-width="1.1"/>
<line x1="181.6" y1="1549.0" x2="184.6" y2="1549.0" stroke="#000" stroke-width="1.1"/>
<line x1="181.6" y1="1542.5" x2="184.6" y2="1542.5" stroke="#000" stroke-width="1.1"/>
<line x1="181.6" y1="1536.9" x2="184.6" y2="1536.9" stroke="#000" stroke-width="1.1"/>
<line x1="181.6" y1="1667.5" x2="184.6" y2="1667.5" stroke="#000" stroke-width="1.1"/>
<line x1="181.6" y1="1660.1" x2="184.6" y2="1660.1" stroke="#000" stroke-width="1.1"/>
<line x1="181.6" y1="1653.6" x2="184.6" y2="1653.6" stroke="#000" stroke-width="1.1"/>
<line x1="181.6" y1="1647.9" x2="184.6" y2="1647.9" stroke="#000" stroke-width="1.1"/>
<line x1="250.0" y1="1433.2" x2="250.0" y2="1452.9" stroke="#111" stroke-width="2"/>
<line x1="243.8" y1="1433.2" x2="256.2" y2="1433.2" stroke="#111" stroke-width="2"/>
<line x1="243.8" y1="1452.9" x2="256.2" y2="1452.9" stroke="#111" stroke-width="2"/>
<line x1="381.4" y1="1467.9" x2="381.4" y2="1503.6" stroke="#111" stroke-width="2"/>
<line x1="375.2" y1="1467.9" x2="387.6" y2="1467.9" stroke="#111" stroke-width="2"/>
<line x1="375.2" y1="1503.6" x2="387.6" y2="1503.6" stroke="#111" stroke-width="2"/>
<line x1="512.5" y1="1514.3" x2="512.5" y2="1568.9" stroke="#111" stroke-width="2"/>
<line x1="506.3" y1="1514.3" x2="518.7" y2="1514.3" stroke="#111" stroke-width="2"/>
<line x1="506.3" y1="1568.9" x2="518.7" y2="1568.9" stroke="#111" stroke-width="2"/>
<line x1="184.6" y1="1436.1" x2="184.6" y2="1466.1" stroke="#111" stroke-width="2"/>
<line x1="178.4" y1="1436.1" x2="190.8" y2="1436.1" stroke="#111" stroke-width="2"/>
<line x1="178.4" y1="1466.1" x2="190.8" y2="1466.1" stroke="#111" stroke-width="2"/>
<line x1="250.0" y1="1474.3" x2="250.0" y2="1489.3" stroke="#111" stroke-width="2"/>
<line x1="243.8" y1="1474.3" x2="256.2" y2="1474.3" stroke="#111" stroke-width="2"/>
<line x1="243.8" y1="1489.3" x2="256.2" y2="1489.3" stroke="#111" stroke-width="2"/>
<line x1="381.4" y1="1520.0" x2="381.4" y2="1553.9" stroke="#111" stroke-width="2"/>
<line x1="375.2" y1="1520.0" x2="387.6" y2="1520.0" stroke="#111" stroke-width="2"/>
<line x1="375.2" y1="1553.9" x2="387.6" y2="1553.9" stroke="#111" stroke-width="2"/>
<line x1="512.5" y1="1568.2" x2="512.5" y2="1625.0" stroke="#111" stroke-width="2"/>
<line x1="506.3" y1="1568.2" x2="518.7" y2="1568.2" stroke="#111" stroke-width="2"/>
<line x1="506.3" y1="1625.0" x2="518.7" y2="1625.0" stroke="#111" stroke-width="2"/>
<polyline points="184.6,1450.0 250.0,1482.1 381.4,1535.0 512.5,1588.6" fill="none" stroke="#8e8e8e" stroke-width="2.8" stroke-dasharray="10 7.5"/>
<polyline points="184.6,1420.7 250.0,1442.9 381.4,1483.2 512.5,1534.3" fill="none" stroke="#000" stroke-width="3.6" stroke-dasharray="10.5 7.5"/>
<path d="M184.6 1443.5L190.1 1454.0H179.1Z" fill="#fff" stroke="#000" stroke-width="2.9" stroke-linejoin="miter"/>
<path d="M250.0 1475.6L255.5 1486.1H244.5Z" fill="#fff" stroke="#000" stroke-width="2.9" stroke-linejoin="miter"/>
<path d="M381.4 1528.5L386.9 1539.0H375.9Z" fill="#fff" stroke="#000" stroke-width="2.9" stroke-linejoin="miter"/>
<path d="M512.5 1582.1L518.0 1592.6H507.0Z" fill="#fff" stroke="#000" stroke-width="2.9" stroke-linejoin="miter"/>
<circle cx="184.6" cy="1420.7" r="5.85" fill="#fff" stroke="#000" stroke-width="3.1"/>
<circle cx="250.0" cy="1442.9" r="5.85" fill="#fff" stroke="#000" stroke-width="3.1"/>
<circle cx="381.4" cy="1483.2" r="5.85" fill="#fff" stroke="#000" stroke-width="3.1"/>
<circle cx="512.5" cy="1534.3" r="5.85" fill="#fff" stroke="#000" stroke-width="3.1"/>
<text x="199.7" y="1488.5" font-size="18.8" font-weight="bold" text-anchor="middle" fill="#1c1c1c" letter-spacing="2.9">**</text>
<text x="251.5" y="1516.0" font-size="18.8" font-weight="bold" text-anchor="middle" fill="#1c1c1c" letter-spacing="2.9">**</text>
<text x="383.6" y="1585.7" font-size="18.8" font-weight="bold" text-anchor="middle" fill="#1c1c1c" letter-spacing="2.9">*</text>
<text x="513.2" y="1653.5" font-size="18.8" font-weight="bold" text-anchor="middle" fill="#1c1c1c" letter-spacing="2.9">*</text>
<text x="236.8" y="1611.8" font-size="29.9" font-weight="bold" textLength="40.0" lengthAdjust="spacingAndGlyphs">Hx</text>
<line x1="389.3" y1="1404.6" x2="444.6" y2="1404.6" stroke="#000" stroke-width="5" stroke-dasharray="5.5 6"/>
<line x1="389.3" y1="1440.4" x2="444.6" y2="1440.4" stroke="#8e8e8e" stroke-width="4.5" stroke-dasharray="5.5 6"/>
<circle cx="417.0" cy="1404.6" r="7" fill="#fff" stroke="#000" stroke-width="3.8"/>
<path d="M417.0 1429.8L426.5 1446.8H407.5Z" fill="#fff" stroke="#000" stroke-width="3.6"/>
<text x="458.9" y="1410.1" font-size="24" textLength="151.8" lengthAdjust="spacingAndGlyphs" fill="#111">0 µM ABT-263</text>
<text x="458.9" y="1451.2" font-size="24" textLength="151.8" lengthAdjust="spacingAndGlyphs" fill="#111">1 µM ABT-263</text>
<text x="119.5" y="1645.7" font-size="22.5" font-weight="bold" stroke="#000" stroke-width="0.55" textLength="196.4" lengthAdjust="spacingAndGlyphs" transform="rotate(-90 119.5 1645.7)">Surviving fraction</text>
<line x1="782.1" y1="1419.7" x2="782.1" y2="1676.0" stroke="#000" stroke-width="2"/>
<line x1="781.1" y1="1675.0" x2="1176.1" y2="1675.0" stroke="#000" stroke-width="2"/>
<line x1="782.1" y1="1675.0" x2="782.1" y2="1681.0" stroke="#000" stroke-width="1.6"/>
<text x="782.1" y="1706.8" font-size="21" text-anchor="middle" fill="#2a2a2a">0</text>
<line x1="847.7" y1="1675.0" x2="847.7" y2="1681.0" stroke="#000" stroke-width="1.6"/>
<text x="847.7" y="1706.8" font-size="21" text-anchor="middle" fill="#2a2a2a">1</text>
<line x1="913.3" y1="1675.0" x2="913.3" y2="1681.0" stroke="#000" stroke-width="1.6"/>
<text x="913.3" y="1706.8" font-size="21" text-anchor="middle" fill="#2a2a2a">2</text>
<line x1="978.9" y1="1675.0" x2="978.9" y2="1681.0" stroke="#000" stroke-width="1.6"/>
<text x="978.9" y="1706.8" font-size="21" text-anchor="middle" fill="#2a2a2a">3</text>
<line x1="1044.4" y1="1675.0" x2="1044.4" y2="1681.0" stroke="#000" stroke-width="1.6"/>
<text x="1044.4" y="1706.8" font-size="21" text-anchor="middle" fill="#2a2a2a">4</text>
<line x1="1110.0" y1="1675.0" x2="1110.0" y2="1681.0" stroke="#000" stroke-width="1.6"/>
<text x="1110.0" y="1706.8" font-size="21" text-anchor="middle" fill="#2a2a2a">5</text>
<text x="1129.6" y="1705.7" font-size="22" font-weight="bold" textLength="28.6" lengthAdjust="spacingAndGlyphs">Gy</text>
<line x1="777.1" y1="1420.7" x2="782.1" y2="1420.7" stroke="#000" stroke-width="1.6"/>
<text x="773.1" y="1428.2" font-size="21" text-anchor="end" fill="#2a2a2a">1</text>
<line x1="777.1" y1="1547.5" x2="782.1" y2="1547.5" stroke="#000" stroke-width="1.6"/>
<text x="773.1" y="1555.0" font-size="21" text-anchor="end" textLength="29.5" lengthAdjust="spacingAndGlyphs" fill="#2a2a2a">0.1</text>
<line x1="777.1" y1="1675.0" x2="782.1" y2="1675.0" stroke="#000" stroke-width="2"/>
<text x="773.1" y="1682.5" font-size="21" text-anchor="end" textLength="41.5" lengthAdjust="spacingAndGlyphs" fill="#2a2a2a">0.01</text>
<line x1="779.1" y1="1509.3" x2="782.1" y2="1509.3" stroke="#000" stroke-width="1.1"/>
<line x1="779.1" y1="1487.0" x2="782.1" y2="1487.0" stroke="#000" stroke-width="1.1"/>
<line x1="779.1" y1="1471.2" x2="782.1" y2="1471.2" stroke="#000" stroke-width="1.1"/>
<line x1="779.1" y1="1458.9" x2="782.1" y2="1458.9" stroke="#000" stroke-width="1.1"/>
<line x1="779.1" y1="1448.8" x2="782.1" y2="1448.8" stroke="#000" stroke-width="1.1"/>
<line x1="779.1" y1="1440.4" x2="782.1" y2="1440.4" stroke="#000" stroke-width="1.1"/>
<line x1="779.1" y1="1433.0" x2="782.1" y2="1433.0" stroke="#000" stroke-width="1.1"/>
<line x1="779.1" y1="1426.5" x2="782.1" y2="1426.5" stroke="#000" stroke-width="1.1"/>
<line x1="779.1" y1="1636.1" x2="782.1" y2="1636.1" stroke="#000" stroke-width="1.1"/>
<line x1="779.1" y1="1613.8" x2="782.1" y2="1613.8" stroke="#000" stroke-width="1.1"/>
<line x1="779.1" y1="1598.0" x2="782.1" y2="1598.0" stroke="#000" stroke-width="1.1"/>
<line x1="779.1" y1="1585.7" x2="782.1" y2="1585.7" stroke="#000" stroke-width="1.1"/>
<line x1="779.1" y1="1575.6" x2="782.1" y2="1575.6" stroke="#000" stroke-width="1.1"/>
<line x1="779.1" y1="1567.1" x2="782.1" y2="1567.1" stroke="#000" stroke-width="1.1"/>
<line x1="779.1" y1="1559.8" x2="782.1" y2="1559.8" stroke="#000" stroke-width="1.1"/>
<line x1="779.1" y1="1553.3" x2="782.1" y2="1553.3" stroke="#000" stroke-width="1.1"/>
<line x1="978.9" y1="1459.3" x2="978.9" y2="1475.0" stroke="#444" stroke-width="2"/>
<line x1="972.7" y1="1459.3" x2="985.1" y2="1459.3" stroke="#444" stroke-width="2"/>
<line x1="972.7" y1="1475.0" x2="985.1" y2="1475.0" stroke="#444" stroke-width="2"/>
<line x1="1110.0" y1="1502.9" x2="1110.0" y2="1545.7" stroke="#444" stroke-width="2"/>
<line x1="1103.8" y1="1502.9" x2="1116.2" y2="1502.9" stroke="#444" stroke-width="2"/>
<line x1="1103.8" y1="1545.7" x2="1116.2" y2="1545.7" stroke="#444" stroke-width="2"/>
<line x1="782.1" y1="1427.9" x2="782.1" y2="1453.6" stroke="#444" stroke-width="2"/>
<line x1="775.9" y1="1427.9" x2="788.3" y2="1427.9" stroke="#444" stroke-width="2"/>
<line x1="775.9" y1="1453.6" x2="788.3" y2="1453.6" stroke="#444" stroke-width="2"/>
<line x1="847.5" y1="1436.8" x2="847.5" y2="1477.9" stroke="#444" stroke-width="2"/>
<line x1="841.3" y1="1436.8" x2="853.7" y2="1436.8" stroke="#444" stroke-width="2"/>
<line x1="841.3" y1="1477.9" x2="853.7" y2="1477.9" stroke="#444" stroke-width="2"/>
<line x1="978.9" y1="1472.5" x2="978.9" y2="1547.5" stroke="#444" stroke-width="2"/>
<line x1="972.7" y1="1472.5" x2="985.1" y2="1472.5" stroke="#444" stroke-width="2"/>
<line x1="972.7" y1="1547.5" x2="985.1" y2="1547.5" stroke="#444" stroke-width="2"/>
<line x1="1110.0" y1="1558.2" x2="1110.0" y2="1635.7" stroke="#444" stroke-width="2"/>
<line x1="1103.8" y1="1558.2" x2="1116.2" y2="1558.2" stroke="#444" stroke-width="2"/>
<line x1="1103.8" y1="1635.7" x2="1116.2" y2="1635.7" stroke="#444" stroke-width="2"/>
<polyline points="782.1,1437.9 847.5,1454.6 978.9,1500.0 1110.0,1576.1" fill="none" stroke="#8e8e8e" stroke-width="2.8" stroke-dasharray="10 7.5"/>
<polyline points="782.1,1420.7 847.5,1432.5 978.9,1467.1 1110.0,1524.3" fill="none" stroke="#000" stroke-width="3.6" stroke-dasharray="10.5 7.5"/>
<path d="M782.1 1431.3L787.6 1441.8H776.6Z" fill="#fff" stroke="#000" stroke-width="2.9" stroke-linejoin="miter"/>
<path d="M847.5 1448.1L853.0 1458.6H842.0Z" fill="#fff" stroke="#000" stroke-width="2.9" stroke-linejoin="miter"/>
<path d="M978.9 1493.5L984.4 1504.0H973.4Z" fill="#fff" stroke="#000" stroke-width="2.9" stroke-linejoin="miter"/>
<path d="M1110.0 1569.6L1115.5 1580.1H1104.5Z" fill="#fff" stroke="#000" stroke-width="2.9" stroke-linejoin="miter"/>
<circle cx="782.1" cy="1420.7" r="5.85" fill="#fff" stroke="#000" stroke-width="3.1"/>
<circle cx="847.5" cy="1432.5" r="5.85" fill="#fff" stroke="#000" stroke-width="3.1"/>
<circle cx="978.9" cy="1467.1" r="5.85" fill="#fff" stroke="#000" stroke-width="3.1"/>
<circle cx="1110.0" cy="1524.3" r="5.85" fill="#fff" stroke="#000" stroke-width="3.1"/>
<text x="794.7" y="1467.1" font-size="18.8" font-weight="bold" text-anchor="middle" fill="#1c1c1c" letter-spacing="2.9">*</text>
<text x="847.9" y="1501.7" font-size="18.8" font-weight="bold" text-anchor="middle" fill="#1c1c1c" letter-spacing="2.9">*</text>
<text x="979.7" y="1569.6" font-size="18.8" font-weight="bold" text-anchor="middle" fill="#1c1c1c" letter-spacing="2.9">*</text>
<text x="822.5" y="1611.8" font-size="29.9" font-weight="bold" textLength="40.0" lengthAdjust="spacingAndGlyphs">Hx</text>
<line x1="1025.0" y1="1404.6" x2="1080.7" y2="1404.6" stroke="#000" stroke-width="5" stroke-dasharray="5.5 6"/>
<line x1="1025.0" y1="1440.4" x2="1080.7" y2="1440.4" stroke="#8e8e8e" stroke-width="4.5" stroke-dasharray="5.5 6"/>
<circle cx="1052.9" cy="1404.6" r="7" fill="#fff" stroke="#000" stroke-width="3.8"/>
<path d="M1052.9 1429.8L1062.4 1446.8H1043.4Z" fill="#fff" stroke="#000" stroke-width="3.6"/>
<text x="1095.0" y="1410.1" font-size="24" textLength="150.7" lengthAdjust="spacingAndGlyphs" fill="#111">0 µM ABT-263</text>
<text x="1095.0" y="1451.2" font-size="24" textLength="165.0" lengthAdjust="spacingAndGlyphs" fill="#111">10 µM ABT-263</text>
<text x="716.3" y="1645.7" font-size="22.5" font-weight="bold" stroke="#000" stroke-width="0.55" textLength="196.4" lengthAdjust="spacingAndGlyphs" transform="rotate(-90 716.3 1645.7)">Surviving fraction</text>
<line x1="1430.4" y1="1419.8" x2="1430.4" y2="1674.9" stroke="#000" stroke-width="2"/>
<line x1="1429.4" y1="1673.9" x2="1824.4" y2="1673.9" stroke="#000" stroke-width="2"/>
<line x1="1430.4" y1="1673.9" x2="1430.4" y2="1679.9" stroke="#000" stroke-width="1.6"/>
<text x="1430.4" y="1706.2" font-size="21" text-anchor="middle" fill="#2a2a2a">0</text>
<line x1="1495.9" y1="1673.9" x2="1495.9" y2="1679.9" stroke="#000" stroke-width="1.6"/>
<text x="1495.9" y="1706.2" font-size="21" text-anchor="middle" fill="#2a2a2a">1</text>
<line x1="1561.5" y1="1673.9" x2="1561.5" y2="1679.9" stroke="#000" stroke-width="1.6"/>
<text x="1561.5" y="1706.2" font-size="21" text-anchor="middle" fill="#2a2a2a">2</text>
<line x1="1627.0" y1="1673.9" x2="1627.0" y2="1679.9" stroke="#000" stroke-width="1.6"/>
<text x="1627.0" y="1706.2" font-size="21" text-anchor="middle" fill="#2a2a2a">3</text>
<line x1="1692.6" y1="1673.9" x2="1692.6" y2="1679.9" stroke="#000" stroke-width="1.6"/>
<text x="1692.6" y="1706.2" font-size="21" text-anchor="middle" fill="#2a2a2a">4</text>
<line x1="1758.1" y1="1673.9" x2="1758.1" y2="1679.9" stroke="#000" stroke-width="1.6"/>
<text x="1758.1" y="1706.2" font-size="21" text-anchor="middle" fill="#2a2a2a">5</text>
<text x="1778.9" y="1705.1" font-size="22" font-weight="bold" textLength="28.4" lengthAdjust="spacingAndGlyphs">Gy</text>
<line x1="1425.4" y1="1420.8" x2="1430.4" y2="1420.8" stroke="#000" stroke-width="1.6"/>
<text x="1421.4" y="1428.3" font-size="21" text-anchor="end" fill="#2a2a2a">1</text>
<line x1="1425.4" y1="1547.5" x2="1430.4" y2="1547.5" stroke="#000" stroke-width="1.6"/>
<text x="1421.4" y="1555.1" font-size="21" text-anchor="end" textLength="29.5" lengthAdjust="spacingAndGlyphs" fill="#2a2a2a">0.1</text>
<line x1="1425.4" y1="1673.9" x2="1430.4" y2="1673.9" stroke="#000" stroke-width="2"/>
<text x="1421.4" y="1681.4" font-size="21" text-anchor="end" textLength="41.5" lengthAdjust="spacingAndGlyphs" fill="#2a2a2a">0.01</text>
<line x1="1427.4" y1="1509.4" x2="1430.4" y2="1509.4" stroke="#000" stroke-width="1.1"/>
<line x1="1427.4" y1="1487.1" x2="1430.4" y2="1487.1" stroke="#000" stroke-width="1.1"/>
<line x1="1427.4" y1="1471.2" x2="1430.4" y2="1471.2" stroke="#000" stroke-width="1.1"/>
<line x1="1427.4" y1="1459.0" x2="1430.4" y2="1459.0" stroke="#000" stroke-width="1.1"/>
<line x1="1427.4" y1="1448.9" x2="1430.4" y2="1448.9" stroke="#000" stroke-width="1.1"/>
<line x1="1427.4" y1="1440.4" x2="1430.4" y2="1440.4" stroke="#000" stroke-width="1.1"/>
<line x1="1427.4" y1="1433.1" x2="1430.4" y2="1433.1" stroke="#000" stroke-width="1.1"/>
<line x1="1427.4" y1="1426.6" x2="1430.4" y2="1426.6" stroke="#000" stroke-width="1.1"/>
<line x1="1427.4" y1="1636.1" x2="1430.4" y2="1636.1" stroke="#000" stroke-width="1.1"/>
<line x1="1427.4" y1="1613.8" x2="1430.4" y2="1613.8" stroke="#000" stroke-width="1.1"/>
<line x1="1427.4" y1="1598.0" x2="1430.4" y2="1598.0" stroke="#000" stroke-width="1.1"/>
<line x1="1427.4" y1="1585.7" x2="1430.4" y2="1585.7" stroke="#000" stroke-width="1.1"/>
<line x1="1427.4" y1="1575.7" x2="1430.4" y2="1575.7" stroke="#000" stroke-width="1.1"/>
<line x1="1427.4" y1="1567.2" x2="1430.4" y2="1567.2" stroke="#000" stroke-width="1.1"/>
<line x1="1427.4" y1="1559.8" x2="1430.4" y2="1559.8" stroke="#000" stroke-width="1.1"/>
<line x1="1427.4" y1="1553.3" x2="1430.4" y2="1553.3" stroke="#000" stroke-width="1.1"/>
<line x1="1561.5" y1="1458.3" x2="1561.5" y2="1480.2" stroke="#111" stroke-width="2"/>
<line x1="1555.3" y1="1458.3" x2="1567.7" y2="1458.3" stroke="#111" stroke-width="2"/>
<line x1="1555.3" y1="1480.2" x2="1567.7" y2="1480.2" stroke="#111" stroke-width="2"/>
<line x1="1627.0" y1="1485.6" x2="1627.0" y2="1515.9" stroke="#111" stroke-width="2"/>
<line x1="1620.8" y1="1485.6" x2="1633.2" y2="1485.6" stroke="#111" stroke-width="2"/>
<line x1="1620.8" y1="1515.9" x2="1633.2" y2="1515.9" stroke="#111" stroke-width="2"/>
<line x1="1692.2" y1="1519.5" x2="1692.2" y2="1555.6" stroke="#111" stroke-width="2"/>
<line x1="1686.0" y1="1519.5" x2="1698.4" y2="1519.5" stroke="#111" stroke-width="2"/>
<line x1="1686.0" y1="1555.6" x2="1698.4" y2="1555.6" stroke="#111" stroke-width="2"/>
<line x1="1758.1" y1="1557.7" x2="1758.1" y2="1600.3" stroke="#111" stroke-width="2"/>
<line x1="1751.9" y1="1557.7" x2="1764.3" y2="1557.7" stroke="#111" stroke-width="2"/>
<line x1="1751.9" y1="1600.3" x2="1764.3" y2="1600.3" stroke="#111" stroke-width="2"/>
<polyline points="1430.4,1427.4 1495.9,1445.6 1561.5,1468.2 1627.0,1499.1 1692.2,1535.9 1758.1,1575.6" fill="none" stroke="#8e8e8e" stroke-width="2.8" stroke-dasharray="10 7.5"/>
<polyline points="1430.4,1420.8 1495.9,1432.8 1561.5,1446.3 1627.0,1474.0 1692.2,1502.0 1758.1,1531.2" fill="none" stroke="#000" stroke-width="3.6" stroke-dasharray="10.5 7.5"/>
<path d="M1430.4 1420.9L1435.9 1431.4H1424.9Z" fill="#fff" stroke="#000" stroke-width="2.9" stroke-linejoin="miter"/>
<path d="M1495.9 1439.1L1501.4 1449.6H1490.4Z" fill="#fff" stroke="#000" stroke-width="2.9" stroke-linejoin="miter"/>
<path d="M1561.5 1461.6L1567.0 1472.1H1556.0Z" fill="#fff" stroke="#000" stroke-width="2.9" stroke-linejoin="miter"/>
<path d="M1627.0 1492.6L1632.5 1503.1H1621.5Z" fill="#fff" stroke="#000" stroke-width="2.9" stroke-linejoin="miter"/>
<path d="M1692.2 1529.4L1697.7 1539.9H1686.7Z" fill="#fff" stroke="#000" stroke-width="2.9" stroke-linejoin="miter"/>
<path d="M1758.1 1569.1L1763.6 1579.6H1752.6Z" fill="#fff" stroke="#000" stroke-width="2.9" stroke-linejoin="miter"/>
<circle cx="1430.4" cy="1420.8" r="5.85" fill="#fff" stroke="#000" stroke-width="3.1"/>
<circle cx="1495.9" cy="1432.8" r="5.85" fill="#fff" stroke="#000" stroke-width="3.1"/>
<circle cx="1561.5" cy="1446.3" r="5.85" fill="#fff" stroke="#000" stroke-width="3.1"/>
<circle cx="1627.0" cy="1474.0" r="5.85" fill="#fff" stroke="#000" stroke-width="3.1"/>
<circle cx="1692.2" cy="1502.0" r="5.85" fill="#fff" stroke="#000" stroke-width="3.1"/>
<circle cx="1758.1" cy="1531.2" r="5.85" fill="#fff" stroke="#000" stroke-width="3.1"/>
<text x="1440.9" y="1453.3" font-size="18.8" font-weight="bold" text-anchor="middle" fill="#1c1c1c" letter-spacing="2.9">*</text>
<text x="1562.9" y="1503.6" font-size="18.8" font-weight="bold" text-anchor="middle" fill="#1c1c1c" letter-spacing="2.9">*</text>
<text x="1628.1" y="1538.9" font-size="18.8" font-weight="bold" text-anchor="middle" fill="#1c1c1c" letter-spacing="2.9">*</text>
<text x="1692.9" y="1578.3" font-size="18.8" font-weight="bold" text-anchor="middle" fill="#1c1c1c" letter-spacing="2.9">*</text>
<text x="1758.5" y="1623.4" font-size="18.8" font-weight="bold" text-anchor="middle" fill="#1c1c1c" letter-spacing="2.9">**</text>
<text x="1482.1" y="1611.3" font-size="29.5" font-weight="bold" textLength="40.1" lengthAdjust="spacingAndGlyphs">Hx</text>
<line x1="1706.8" y1="1404.4" x2="1763.2" y2="1404.4" stroke="#000" stroke-width="5" stroke-dasharray="5.5 6"/>
<line x1="1706.8" y1="1438.3" x2="1763.2" y2="1438.3" stroke="#8e8e8e" stroke-width="4.5" stroke-dasharray="5.5 6"/>
<circle cx="1735.0" cy="1404.4" r="7" fill="#fff" stroke="#000" stroke-width="3.8"/>
<path d="M1735.0 1427.8L1744.5 1444.8H1725.5Z" fill="#fff" stroke="#000" stroke-width="3.6"/>
<text x="1776.3" y="1409.9" font-size="24" textLength="150.8" lengthAdjust="spacingAndGlyphs" fill="#111">0 µM ABT-263</text>
<text x="1776.3" y="1451.0" font-size="24" textLength="164.6" lengthAdjust="spacingAndGlyphs" fill="#111">10 µM ABT-263</text>
<text x="1365.6" y="1644.0" font-size="22.5" font-weight="bold" stroke="#000" stroke-width="0.55" textLength="193.0" lengthAdjust="spacingAndGlyphs" transform="rotate(-90 1365.6 1644.0)">Surviving fraction</text>
<text x="278.6" y="999.4" font-size="31.1" font-weight="bold" textLength="117.1" lengthAdjust="spacingAndGlyphs">HCT116</text>
<text x="820.7" y="999.4" font-size="31.1" font-weight="bold" textLength="285.7" lengthAdjust="spacingAndGlyphs">non-sel.&#160; NCI-H460</text>
<text x="1374.7" y="999.8" font-size="30.3" font-weight="bold" textLength="266.5" lengthAdjust="spacingAndGlyphs">Hx-sel.&#160; NCI-H460</text>
<ellipse cx="139.9" cy="1949.0" rx="61.4" ry="59.9" fill="#b9b9b9"/>
<ellipse cx="141.5" cy="1946.6" rx="60.9" ry="59.4" fill="url(#dg)" stroke="#c6c6c6" stroke-width="1"/>
<g fill="#0a0a0a" filter="url(#bl)"><circle cx="92.0" cy="1961.0" r="3.3"/><circle cx="93.5" cy="1967.7" r="2.7"/><circle cx="128.9" cy="1950.4" r="4.3"/><circle cx="124.6" cy="1974.2" r="3.6"/><circle cx="152.2" cy="1969.3" r="2.1"/><circle cx="167.3" cy="1941.0" r="4.4"/><circle cx="184.2" cy="1917.0" r="1.7"/><circle cx="144.3" cy="1950.0" r="2.3"/><circle cx="117.8" cy="1936.9" r="3.9"/><circle cx="144.3" cy="1985.0" r="3.1"/><circle cx="171.6" cy="1977.3" r="4.5"/><circle cx="130.7" cy="1897.9" r="2.6"/><circle cx="105.4" cy="1924.7" r="2.1"/><circle cx="114.7" cy="1977.0" r="3.6"/><circle cx="177.6" cy="1917.8" r="1.9"/><circle cx="182.8" cy="1921.0" r="3.6"/><circle cx="96.7" cy="1948.8" r="1.7"/><circle cx="156.5" cy="1929.3" r="3.5"/><circle cx="150.7" cy="1955.8" r="2.9"/><circle cx="124.3" cy="1988.7" r="3.1"/><circle cx="110.5" cy="1933.3" r="1.5"/><circle cx="156.1" cy="1985.6" r="3.4"/><circle cx="97.7" cy="1982.2" r="2.3"/><circle cx="106.3" cy="1915.7" r="2.5"/><circle cx="134.1" cy="1925.2" r="3.7"/><circle cx="166.1" cy="1954.4" r="1.9"/><circle cx="171.0" cy="1982.1" r="1.6"/><circle cx="176.1" cy="1934.9" r="2.7"/><circle cx="119.4" cy="1978.9" r="1.8"/><circle cx="141.0" cy="1968.7" r="1.8"/><circle cx="182.1" cy="1928.3" r="4.5"/><circle cx="138.0" cy="1994.9" r="1.8"/><circle cx="117.7" cy="1965.8" r="1.9"/><circle cx="194.8" cy="1925.0" r="2.8"/><circle cx="157.7" cy="1948.0" r="2.0"/><circle cx="103.4" cy="1909.5" r="3.8"/><circle cx="123.3" cy="1913.3" r="3.4"/><circle cx="149.9" cy="1945.7" r="3.0"/><circle cx="148.1" cy="1926.5" r="4.1"/><circle cx="136.7" cy="1899.4" r="2.6"/><circle cx="112.4" cy="1972.7" r="1.8"/><circle cx="165.0" cy="1911.7" r="1.9"/><circle cx="126.7" cy="1931.4" r="2.9"/><circle cx="165.7" cy="1967.1" r="4.0"/><circle cx="147.4" cy="1982.2" r="2.5"/><circle cx="152.3" cy="1934.1" r="1.5"/><circle cx="164.0" cy="1949.8" r="1.6"/><circle cx="128.5" cy="1934.5" r="2.8"/><circle cx="173.5" cy="1985.3" r="2.9"/><circle cx="188.9" cy="1931.9" r="2.2"/><circle cx="183.5" cy="1978.6" r="3.9"/><circle cx="185.8" cy="1921.4" r="4.2"/><circle cx="137.4" cy="1896.9" r="2.1"/><circle cx="182.6" cy="1950.6" r="2.8"/><circle cx="132.1" cy="1937.5" r="2.5"/><circle cx="144.9" cy="1958.9" r="4.2"/><circle cx="132.7" cy="1941.9" r="2.7"/><circle cx="146.4" cy="1900.0" r="1.5"/><circle cx="147.5" cy="2003.2" r="1.5"/><circle cx="156.0" cy="1933.5" r="2.0"/><circle cx="177.1" cy="1914.8" r="4.3"/><circle cx="170.3" cy="1964.6" r="3.6"/><circle cx="186.5" cy="1927.9" r="1.6"/><circle cx="149.9" cy="1975.2" r="3.2"/><circle cx="141.5" cy="1939.8" r="4.2"/><circle cx="138.7" cy="1894.7" r="1.5"/><circle cx="146.1" cy="1946.2" r="2.6"/><circle cx="122.3" cy="1964.0" r="1.7"/><circle cx="147.6" cy="1977.2" r="4.2"/><circle cx="140.6" cy="1956.4" r="1.9"/><circle cx="162.5" cy="1988.4" r="1.6"/><circle cx="163.4" cy="1986.1" r="2.2"/><circle cx="104.3" cy="1942.9" r="1.5"/><circle cx="181.2" cy="1956.8" r="4.5"/><circle cx="106.5" cy="1990.3" r="1.9"/><circle cx="97.1" cy="1925.0" r="2.0"/><circle cx="115.9" cy="1995.7" r="3.5"/><circle cx="148.0" cy="1902.7" r="1.9"/><circle cx="163.2" cy="1962.1" r="1.6"/><circle cx="101.4" cy="1912.6" r="3.9"/><circle cx="173.2" cy="1936.4" r="3.3"/><circle cx="93.3" cy="1954.1" r="4.1"/><circle cx="87.1" cy="1944.0" r="3.5"/><circle cx="178.0" cy="1942.2" r="1.5"/><circle cx="181.2" cy="1932.3" r="3.5"/><circle cx="183.6" cy="1976.5" r="3.0"/><circle cx="110.7" cy="1950.9" r="3.6"/><circle cx="149.6" cy="1938.5" r="3.3"/><circle cx="148.5" cy="1962.6" r="2.6"/><circle cx="112.4" cy="1916.6" r="2.1"/><circle cx="182.6" cy="1944.0" r="2.3"/><circle cx="160.5" cy="1985.4" r="3.9"/><circle cx="140.5" cy="1900.0" r="2.4"/><circle cx="179.2" cy="1947.4" r="2.4"/><circle cx="135.1" cy="1971.6" r="2.4"/><circle cx="87.5" cy="1937.5" r="2.5"/><circle cx="118.3" cy="1919.3" r="1.5"/><circle cx="177.0" cy="1976.2" r="4.2"/><circle cx="162.5" cy="1941.3" r="3.9"/><circle cx="143.7" cy="1986.1" r="1.7"/></g>
<rect x="76.9" y="1884.7" width="128.6" height="125.2" fill="none" stroke="#000" stroke-width="3.4"/>
<ellipse cx="277.0" cy="1949.0" rx="61.4" ry="59.9" fill="#b9b9b9"/>
<ellipse cx="278.6" cy="1946.6" rx="60.9" ry="59.4" fill="url(#dg2)" stroke="#c6c6c6" stroke-width="1"/>
<g fill="#0a0a0a" filter="url(#bl)"><circle cx="297.8" cy="1999.6" r="2.1"/><circle cx="264.3" cy="1924.4" r="1.1"/><circle cx="268.8" cy="1922.5" r="2.1"/><circle cx="284.4" cy="1962.9" r="1.8"/><circle cx="245.5" cy="1952.8" r="1.6"/><circle cx="288.2" cy="1983.1" r="1.2"/><circle cx="299.7" cy="1904.9" r="1.7"/><circle cx="249.9" cy="1968.6" r="1.3"/><circle cx="276.0" cy="1943.0" r="1.4"/><circle cx="273.4" cy="1953.9" r="1.7"/><circle cx="257.3" cy="1938.2" r="1.0"/><circle cx="299.1" cy="1955.9" r="1.7"/></g>
<rect x="214.1" y="1884.7" width="128.4" height="125.2" fill="none" stroke="#000" stroke-width="3.4"/>
<ellipse cx="427.8" cy="1949.0" rx="61.4" ry="59.9" fill="#b9b9b9"/>
<ellipse cx="429.4" cy="1946.6" rx="60.9" ry="59.4" fill="url(#dg)" stroke="#c6c6c6" stroke-width="1"/>
<g fill="#0a0a0a" filter="url(#bl)"><circle cx="411.2" cy="1931.4" r="2.2"/><circle cx="394.9" cy="1976.7" r="1.9"/><circle cx="384.0" cy="1938.6" r="1.8"/><circle cx="425.8" cy="1912.2" r="1.3"/><circle cx="447.1" cy="1903.1" r="2.0"/><circle cx="401.6" cy="1946.8" r="1.8"/><circle cx="395.6" cy="1915.8" r="2.1"/><circle cx="457.4" cy="1965.0" r="2.2"/><circle cx="428.6" cy="1909.6" r="1.6"/><circle cx="442.4" cy="1969.5" r="2.0"/><circle cx="389.4" cy="1964.4" r="1.7"/><circle cx="469.8" cy="1913.7" r="2.1"/><circle cx="466.1" cy="1934.7" r="2.0"/><circle cx="414.3" cy="1914.5" r="2.3"/><circle cx="468.8" cy="1924.1" r="1.8"/><circle cx="392.8" cy="1940.8" r="2.8"/><circle cx="436.5" cy="1960.5" r="2.6"/><circle cx="407.1" cy="1966.1" r="2.2"/><circle cx="438.1" cy="1984.1" r="2.1"/><circle cx="410.2" cy="1958.0" r="1.7"/><circle cx="461.0" cy="1964.2" r="1.2"/><circle cx="451.2" cy="1976.9" r="1.4"/><circle cx="404.4" cy="1961.4" r="1.3"/><circle cx="428.0" cy="1921.5" r="1.7"/><circle cx="448.2" cy="1913.0" r="2.6"/><circle cx="431.7" cy="1964.2" r="1.2"/><circle cx="388.0" cy="1980.3" r="2.9"/><circle cx="424.1" cy="1948.0" r="1.4"/><circle cx="400.2" cy="1908.6" r="2.8"/><circle cx="474.3" cy="1935.6" r="1.7"/><circle cx="421.4" cy="1996.7" r="2.3"/><circle cx="452.7" cy="1956.2" r="2.9"/><circle cx="386.0" cy="1960.3" r="1.7"/><circle cx="461.9" cy="1937.8" r="1.2"/><circle cx="401.3" cy="1955.2" r="1.2"/><circle cx="402.3" cy="1932.0" r="1.9"/><circle cx="372.4" cy="1952.5" r="1.1"/><circle cx="430.8" cy="1891.3" r="1.1"/><circle cx="386.8" cy="1931.7" r="1.7"/><circle cx="474.0" cy="1916.4" r="2.2"/><circle cx="413.6" cy="1941.7" r="2.2"/><circle cx="429.4" cy="1901.1" r="1.3"/><circle cx="451.5" cy="1956.9" r="2.9"/><circle cx="445.1" cy="1933.1" r="1.5"/><circle cx="393.1" cy="1990.5" r="1.3"/><circle cx="434.5" cy="1965.1" r="2.2"/><circle cx="380.7" cy="1950.9" r="1.2"/><circle cx="406.9" cy="1894.6" r="1.1"/><circle cx="482.4" cy="1945.3" r="3.0"/><circle cx="442.7" cy="1944.6" r="1.7"/><circle cx="399.2" cy="1971.0" r="1.7"/><circle cx="451.3" cy="1895.2" r="1.3"/><circle cx="445.9" cy="1900.7" r="2.5"/><circle cx="475.3" cy="1920.3" r="2.1"/><circle cx="475.7" cy="1973.9" r="2.6"/><circle cx="424.5" cy="1995.7" r="2.8"/><circle cx="453.2" cy="1950.5" r="1.3"/><circle cx="452.0" cy="1900.6" r="2.2"/><circle cx="467.3" cy="1940.5" r="2.8"/><circle cx="430.5" cy="1990.5" r="1.2"/><circle cx="431.4" cy="1941.8" r="1.8"/><circle cx="426.1" cy="1961.2" r="1.8"/><circle cx="459.4" cy="1967.7" r="2.2"/><circle cx="432.8" cy="1931.0" r="1.7"/><circle cx="463.6" cy="1905.0" r="2.3"/><circle cx="405.2" cy="1993.1" r="1.8"/><circle cx="425.0" cy="1922.4" r="1.6"/><circle cx="402.6" cy="1992.6" r="1.2"/><circle cx="398.1" cy="1946.5" r="2.0"/><circle cx="469.2" cy="1956.7" r="1.5"/><circle cx="459.8" cy="1902.6" r="2.3"/><circle cx="397.6" cy="1918.4" r="1.5"/><circle cx="396.3" cy="1903.6" r="1.3"/><circle cx="448.4" cy="1975.8" r="1.6"/><circle cx="408.2" cy="1920.6" r="2.5"/><circle cx="423.4" cy="1890.9" r="1.2"/><circle cx="465.6" cy="1940.6" r="1.5"/><circle cx="445.1" cy="1918.4" r="2.7"/><circle cx="454.0" cy="1998.3" r="2.7"/><circle cx="388.4" cy="1917.6" r="2.9"/><circle cx="431.9" cy="1996.6" r="1.6"/><circle cx="450.4" cy="1911.5" r="1.2"/><circle cx="393.4" cy="1921.2" r="2.4"/><circle cx="464.3" cy="1919.6" r="1.2"/><circle cx="456.3" cy="1994.3" r="2.8"/><circle cx="443.9" cy="1992.5" r="1.7"/><circle cx="429.4" cy="1914.0" r="1.2"/><circle cx="470.2" cy="1908.1" r="1.2"/><circle cx="403.4" cy="1997.2" r="1.6"/><circle cx="408.8" cy="1982.7" r="1.2"/><circle cx="405.1" cy="1990.1" r="1.3"/><circle cx="414.9" cy="1925.2" r="1.4"/><circle cx="402.0" cy="1967.7" r="2.0"/><circle cx="458.0" cy="1914.8" r="2.6"/><circle cx="479.3" cy="1922.8" r="2.2"/><circle cx="414.5" cy="1958.9" r="2.8"/><circle cx="406.4" cy="1982.9" r="2.3"/><circle cx="468.1" cy="1980.1" r="2.8"/><circle cx="470.4" cy="1931.7" r="2.7"/><circle cx="462.9" cy="1900.9" r="1.5"/></g>
<rect x="364.7" y="1884.7" width="128.9" height="125.2" fill="none" stroke="#000" stroke-width="3.4" stroke-dasharray="9.4 5"/>
<ellipse cx="565.0" cy="1949.0" rx="61.4" ry="59.9" fill="#b9b9b9"/>
<ellipse cx="566.6" cy="1946.6" rx="60.9" ry="59.4" fill="url(#dg2)" stroke="#c6c6c6" stroke-width="1"/>
<g fill="#0a0a0a" filter="url(#bl)"><circle cx="518.7" cy="1960.1" r="1.4"/><circle cx="606.3" cy="1967.8" r="0.8"/><circle cx="608.3" cy="1913.0" r="0.8"/><circle cx="575.5" cy="1998.0" r="0.8"/><circle cx="582.7" cy="1959.7" r="1.1"/><circle cx="524.2" cy="1973.3" r="1.4"/><circle cx="576.3" cy="1905.0" r="1.5"/><circle cx="536.1" cy="1978.8" r="1.6"/><circle cx="537.5" cy="1951.5" r="0.9"/><circle cx="621.1" cy="1942.4" r="1.6"/><circle cx="558.1" cy="1917.0" r="1.1"/><circle cx="540.6" cy="1960.8" r="0.8"/><circle cx="609.6" cy="1976.3" r="1.3"/><circle cx="508.3" cy="1952.3" r="1.7"/><circle cx="573.1" cy="1899.5" r="0.9"/><circle cx="536.3" cy="1926.6" r="1.5"/><circle cx="566.3" cy="1932.5" r="1.1"/><circle cx="533.4" cy="1904.6" r="1.2"/><circle cx="546.3" cy="1928.0" r="1.0"/><circle cx="544.5" cy="1919.1" r="1.1"/><circle cx="521.1" cy="1931.3" r="1.0"/><circle cx="591.3" cy="1913.1" r="1.7"/><circle cx="588.1" cy="1935.2" r="1.0"/><circle cx="611.2" cy="1956.1" r="1.5"/><circle cx="552.2" cy="1916.5" r="1.0"/><circle cx="575.3" cy="1950.9" r="1.5"/><circle cx="586.3" cy="1978.8" r="0.9"/><circle cx="555.1" cy="1994.2" r="1.4"/><circle cx="565.8" cy="1988.1" r="1.0"/><circle cx="541.8" cy="1991.8" r="1.0"/><circle cx="574.8" cy="1893.8" r="1.3"/><circle cx="605.4" cy="1907.3" r="0.8"/></g>
<rect x="501.1" y="1884.7" width="130.5" height="125.2" fill="none" stroke="#000" stroke-width="3.4" stroke-dasharray="9.4 5"/>
<ellipse cx="139.9" cy="2084.5" rx="61.4" ry="59.9" fill="#b9b9b9"/>
<ellipse cx="141.5" cy="2082.1" rx="60.9" ry="59.4" fill="url(#dg)" stroke="#c6c6c6" stroke-width="1"/>
<g fill="#0a0a0a" filter="url(#bl)"><circle cx="100.8" cy="2115.9" r="1.9"/><circle cx="134.8" cy="2124.0" r="1.6"/><circle cx="136.5" cy="2093.0" r="3.8"/><circle cx="168.4" cy="2119.3" r="2.7"/><circle cx="101.1" cy="2057.7" r="2.0"/><circle cx="83.0" cy="2080.0" r="4.3"/><circle cx="87.5" cy="2096.7" r="4.5"/><circle cx="154.0" cy="2116.8" r="1.8"/><circle cx="166.2" cy="2050.8" r="2.1"/><circle cx="174.9" cy="2122.4" r="4.4"/><circle cx="171.4" cy="2083.3" r="1.7"/><circle cx="153.4" cy="2120.5" r="2.4"/><circle cx="100.0" cy="2078.9" r="1.5"/><circle cx="92.3" cy="2106.0" r="2.1"/><circle cx="182.1" cy="2080.3" r="1.7"/><circle cx="158.7" cy="2074.3" r="4.4"/><circle cx="156.7" cy="2098.5" r="4.0"/><circle cx="95.3" cy="2066.2" r="2.0"/><circle cx="166.2" cy="2095.8" r="2.9"/><circle cx="166.4" cy="2089.6" r="1.5"/><circle cx="154.4" cy="2097.5" r="2.1"/><circle cx="138.8" cy="2078.4" r="1.6"/><circle cx="103.1" cy="2092.2" r="2.7"/><circle cx="122.0" cy="2061.3" r="1.9"/><circle cx="85.9" cy="2074.7" r="4.3"/><circle cx="106.0" cy="2047.6" r="2.0"/><circle cx="121.6" cy="2098.2" r="1.7"/><circle cx="144.5" cy="2089.0" r="1.7"/><circle cx="188.0" cy="2097.0" r="3.3"/><circle cx="96.3" cy="2088.8" r="4.3"/><circle cx="150.3" cy="2092.7" r="1.7"/><circle cx="162.7" cy="2034.6" r="1.6"/><circle cx="163.8" cy="2067.3" r="2.6"/><circle cx="95.8" cy="2105.4" r="1.8"/><circle cx="103.6" cy="2044.2" r="4.4"/><circle cx="113.1" cy="2101.9" r="4.2"/><circle cx="157.4" cy="2041.0" r="4.4"/><circle cx="161.0" cy="2128.3" r="1.9"/><circle cx="101.2" cy="2060.7" r="1.9"/><circle cx="138.0" cy="2081.3" r="2.1"/><circle cx="171.7" cy="2049.4" r="4.4"/><circle cx="178.0" cy="2095.6" r="4.2"/><circle cx="172.8" cy="2040.6" r="4.1"/><circle cx="184.8" cy="2089.0" r="1.6"/><circle cx="144.8" cy="2116.6" r="2.5"/><circle cx="193.0" cy="2068.2" r="3.8"/><circle cx="109.4" cy="2065.9" r="2.4"/><circle cx="86.0" cy="2097.5" r="4.0"/><circle cx="185.3" cy="2112.3" r="2.3"/><circle cx="108.1" cy="2083.0" r="1.9"/><circle cx="107.3" cy="2062.6" r="2.7"/><circle cx="150.1" cy="2088.3" r="2.2"/><circle cx="171.9" cy="2090.0" r="4.0"/><circle cx="85.9" cy="2080.2" r="3.6"/><circle cx="131.4" cy="2110.8" r="2.1"/><circle cx="107.4" cy="2064.3" r="4.3"/><circle cx="145.5" cy="2123.2" r="1.6"/><circle cx="177.0" cy="2083.0" r="1.5"/><circle cx="157.1" cy="2066.4" r="3.6"/><circle cx="195.6" cy="2100.1" r="1.5"/><circle cx="176.8" cy="2072.3" r="2.2"/><circle cx="124.3" cy="2040.5" r="1.7"/><circle cx="150.5" cy="2096.0" r="1.6"/><circle cx="173.8" cy="2117.0" r="2.0"/><circle cx="183.3" cy="2100.7" r="2.4"/><circle cx="165.9" cy="2086.9" r="4.3"/><circle cx="130.4" cy="2095.5" r="2.9"/><circle cx="100.0" cy="2044.0" r="3.1"/></g>
<rect x="76.8" y="2020.3" width="128.8" height="125.1" fill="none" stroke="#949494" stroke-width="3.2"/>
<ellipse cx="277.0" cy="2084.5" rx="61.4" ry="59.9" fill="#b9b9b9"/>
<ellipse cx="278.6" cy="2082.1" rx="60.9" ry="59.4" fill="url(#dg2)" stroke="#c6c6c6" stroke-width="1"/>
<g fill="#0a0a0a" filter="url(#bl)"><circle cx="291.4" cy="2136.3" r="1.1"/><circle cx="260.5" cy="2066.8" r="0.9"/><circle cx="284.4" cy="2128.8" r="1.0"/><circle cx="273.5" cy="2108.9" r="1.3"/></g>
<rect x="214.0" y="2020.3" width="128.6" height="125.1" fill="none" stroke="#949494" stroke-width="3.2"/>
<ellipse cx="427.8" cy="2084.5" rx="61.4" ry="59.9" fill="#b9b9b9"/>
<ellipse cx="429.4" cy="2082.1" rx="60.9" ry="59.4" fill="url(#dg)" stroke="#c6c6c6" stroke-width="1"/>
<g fill="#0a0a0a" filter="url(#bl)"><circle cx="406.0" cy="2043.8" r="1.9"/><circle cx="429.4" cy="2059.6" r="1.1"/><circle cx="385.0" cy="2118.1" r="2.0"/><circle cx="412.6" cy="2104.4" r="1.7"/><circle cx="448.6" cy="2115.8" r="1.2"/><circle cx="428.8" cy="2097.1" r="1.8"/><circle cx="395.6" cy="2039.3" r="1.7"/><circle cx="433.9" cy="2069.0" r="1.1"/><circle cx="425.2" cy="2083.1" r="2.2"/><circle cx="390.5" cy="2099.0" r="1.0"/><circle cx="459.0" cy="2118.7" r="2.5"/><circle cx="424.9" cy="2125.6" r="2.3"/><circle cx="393.9" cy="2110.5" r="1.0"/><circle cx="428.5" cy="2037.6" r="1.7"/><circle cx="461.5" cy="2106.3" r="1.5"/><circle cx="437.1" cy="2095.2" r="1.5"/><circle cx="401.1" cy="2034.7" r="1.3"/><circle cx="409.1" cy="2118.0" r="1.8"/><circle cx="466.2" cy="2106.3" r="2.0"/><circle cx="415.0" cy="2089.0" r="1.2"/><circle cx="434.0" cy="2056.4" r="1.2"/><circle cx="483.7" cy="2100.6" r="1.3"/><circle cx="479.8" cy="2072.9" r="1.1"/><circle cx="449.2" cy="2044.5" r="1.4"/><circle cx="471.3" cy="2060.4" r="1.2"/><circle cx="398.7" cy="2036.3" r="2.2"/><circle cx="459.9" cy="2059.5" r="1.7"/><circle cx="409.6" cy="2090.1" r="2.2"/><circle cx="388.1" cy="2094.0" r="1.2"/><circle cx="422.7" cy="2110.0" r="1.7"/><circle cx="422.6" cy="2097.6" r="1.4"/><circle cx="384.4" cy="2068.7" r="1.1"/><circle cx="469.3" cy="2098.4" r="2.4"/><circle cx="449.7" cy="2073.0" r="1.1"/><circle cx="397.4" cy="2102.6" r="2.2"/><circle cx="452.8" cy="2073.7" r="1.7"/><circle cx="383.5" cy="2064.9" r="1.2"/><circle cx="398.7" cy="2035.8" r="0.9"/><circle cx="442.4" cy="2081.6" r="1.0"/><circle cx="407.7" cy="2125.5" r="1.4"/><circle cx="450.2" cy="2099.7" r="1.0"/><circle cx="465.0" cy="2082.4" r="1.1"/></g>
<rect x="364.6" y="2020.3" width="129.1" height="125.1" fill="none" stroke="#949494" stroke-width="3.2" stroke-dasharray="9.4 5"/>
<ellipse cx="565.0" cy="2084.5" rx="61.4" ry="59.9" fill="#b9b9b9"/>
<ellipse cx="566.6" cy="2082.1" rx="60.9" ry="59.4" fill="url(#dg2)" stroke="#c6c6c6" stroke-width="1"/>
<g fill="#0a0a0a" filter="url(#bl)"><circle cx="599.8" cy="2046.8" r="0.7"/><circle cx="570.2" cy="2135.9" r="1.3"/><circle cx="532.9" cy="2059.3" r="0.8"/><circle cx="534.8" cy="2106.5" r="1.4"/><circle cx="600.0" cy="2090.6" r="1.5"/><circle cx="529.5" cy="2054.2" r="1.2"/><circle cx="540.7" cy="2099.2" r="0.8"/><circle cx="590.4" cy="2087.9" r="1.2"/><circle cx="548.7" cy="2132.2" r="1.3"/><circle cx="586.9" cy="2070.7" r="1.0"/><circle cx="605.7" cy="2108.6" r="1.3"/><circle cx="545.0" cy="2121.9" r="1.1"/></g>
<rect x="501.0" y="2020.3" width="130.7" height="125.1" fill="none" stroke="#949494" stroke-width="3.2" stroke-dasharray="9.4 5"/>
<text x="294.6" y="1784.6" font-size="32.1" font-weight="bold" textLength="116.8" lengthAdjust="spacingAndGlyphs">HCT116</text>
<text x="181.0" y="1828.4" font-size="32.5" font-weight="bold" textLength="39.0" lengthAdjust="spacingAndGlyphs">Nx</text>
<text x="481.0" y="1828.4" font-size="32.5" font-weight="bold" textLength="39.7" lengthAdjust="spacingAndGlyphs">Hx</text>
<text x="112.5" y="1868.1" font-size="30.3" font-weight="bold" textLength="60.5" lengthAdjust="spacingAndGlyphs">0 Gy</text>
<text x="248.0" y="1868.1" font-size="30.3" font-weight="bold" textLength="60.0" lengthAdjust="spacingAndGlyphs">3 Gy</text>
<text x="401.6" y="1868.1" font-size="30.3" font-weight="bold" textLength="59.1" lengthAdjust="spacingAndGlyphs">0 Gy</text>
<text x="536.7" y="1868.1" font-size="30.3" font-weight="bold" textLength="59.5" lengthAdjust="spacingAndGlyphs">3 Gy</text>
<text x="26.6" y="1947.3" font-size="29.5" font-weight="bold" text-anchor="middle" transform="rotate(-90 26.6 1947.3)">0 µM</text>
<text x="58.6" y="1947.3" font-size="29.5" font-weight="bold" text-anchor="middle" transform="rotate(-90 58.6 1947.3)" textLength="113" lengthAdjust="spacingAndGlyphs">ABT-263</text>
<text x="26.6" y="2082.8" font-size="29.5" font-weight="bold" text-anchor="middle" transform="rotate(-90 26.6 2082.8)">1 µM</text>
<text x="58.6" y="2082.8" font-size="29.5" font-weight="bold" text-anchor="middle" transform="rotate(-90 58.6 2082.8)" textLength="113" lengthAdjust="spacingAndGlyphs">ABT-263</text>
<ellipse cx="809.6" cy="1949.0" rx="61.4" ry="59.9" fill="#b9b9b9"/>
<ellipse cx="811.2" cy="1946.6" rx="60.9" ry="59.4" fill="url(#dg)" stroke="#c6c6c6" stroke-width="1"/>
<g fill="#0a0a0a" filter="url(#bl)"><circle cx="825.1" cy="1992.9" r="1.3"/><circle cx="810.2" cy="1953.1" r="1.6"/><circle cx="841.5" cy="1950.1" r="1.7"/><circle cx="830.2" cy="1922.1" r="2.1"/><circle cx="841.9" cy="1969.2" r="2.1"/><circle cx="798.1" cy="1931.5" r="1.3"/><circle cx="756.8" cy="1949.8" r="1.6"/><circle cx="832.1" cy="1964.4" r="2.0"/><circle cx="816.9" cy="1926.1" r="1.8"/><circle cx="810.7" cy="1903.6" r="2.1"/><circle cx="850.6" cy="1943.6" r="2.7"/><circle cx="824.9" cy="1934.5" r="2.1"/><circle cx="777.9" cy="1935.4" r="2.3"/><circle cx="803.3" cy="1914.4" r="1.8"/><circle cx="779.0" cy="1941.3" r="2.0"/><circle cx="791.9" cy="1953.3" r="1.5"/><circle cx="813.6" cy="1901.4" r="1.5"/><circle cx="853.2" cy="1955.1" r="2.7"/><circle cx="824.5" cy="2001.5" r="1.4"/><circle cx="771.8" cy="1944.9" r="1.2"/><circle cx="801.5" cy="1981.5" r="1.2"/><circle cx="865.3" cy="1929.3" r="1.9"/><circle cx="824.3" cy="1963.5" r="1.2"/><circle cx="801.3" cy="1949.8" r="1.4"/><circle cx="769.1" cy="1942.2" r="1.3"/><circle cx="842.6" cy="1968.9" r="2.1"/><circle cx="868.5" cy="1954.4" r="2.1"/><circle cx="800.9" cy="1931.7" r="2.3"/><circle cx="832.1" cy="1964.1" r="1.9"/><circle cx="813.0" cy="1997.1" r="1.6"/><circle cx="798.2" cy="1922.0" r="2.1"/><circle cx="836.4" cy="1985.2" r="1.8"/><circle cx="859.0" cy="1930.0" r="1.6"/><circle cx="811.9" cy="1936.8" r="1.2"/><circle cx="768.4" cy="1968.8" r="1.3"/><circle cx="768.7" cy="1985.9" r="1.2"/><circle cx="781.9" cy="1928.2" r="1.2"/><circle cx="798.3" cy="1952.4" r="1.6"/><circle cx="858.0" cy="1933.8" r="1.6"/><circle cx="858.7" cy="1959.3" r="2.1"/><circle cx="785.8" cy="1974.4" r="2.3"/><circle cx="814.1" cy="1998.4" r="1.7"/><circle cx="789.7" cy="1972.9" r="1.5"/><circle cx="815.8" cy="1901.1" r="1.6"/><circle cx="789.1" cy="1895.4" r="1.3"/><circle cx="853.6" cy="1910.5" r="2.1"/><circle cx="863.9" cy="1933.0" r="1.2"/><circle cx="821.6" cy="1919.0" r="2.3"/><circle cx="773.1" cy="1947.9" r="1.9"/><circle cx="776.7" cy="1901.2" r="1.7"/><circle cx="840.5" cy="1985.6" r="1.8"/><circle cx="865.0" cy="1945.3" r="2.2"/><circle cx="806.2" cy="1987.4" r="1.5"/><circle cx="854.7" cy="1943.7" r="2.3"/><circle cx="760.5" cy="1967.6" r="2.0"/><circle cx="767.8" cy="1967.3" r="2.4"/><circle cx="851.5" cy="1969.5" r="1.4"/><circle cx="845.6" cy="1918.7" r="1.3"/><circle cx="802.6" cy="1950.3" r="1.2"/><circle cx="844.3" cy="1914.3" r="2.2"/><circle cx="807.2" cy="1914.7" r="1.6"/><circle cx="805.6" cy="1913.1" r="2.2"/><circle cx="769.4" cy="1957.7" r="1.2"/><circle cx="795.3" cy="1929.2" r="1.7"/><circle cx="776.9" cy="1914.9" r="1.9"/><circle cx="824.8" cy="1972.7" r="1.3"/><circle cx="767.3" cy="1943.9" r="2.1"/><circle cx="838.2" cy="1971.1" r="1.5"/><circle cx="836.9" cy="1941.0" r="2.1"/><circle cx="784.0" cy="1949.6" r="2.5"/><circle cx="838.4" cy="1896.9" r="1.5"/><circle cx="762.8" cy="1936.3" r="2.4"/><circle cx="766.5" cy="1977.5" r="1.4"/><circle cx="839.3" cy="1981.4" r="1.6"/><circle cx="819.1" cy="1892.0" r="1.7"/><circle cx="843.0" cy="1936.8" r="2.0"/><circle cx="768.1" cy="1917.7" r="1.4"/><circle cx="826.9" cy="1942.7" r="1.7"/><circle cx="772.4" cy="1981.6" r="1.2"/><circle cx="768.7" cy="1915.6" r="2.3"/><circle cx="786.6" cy="1898.3" r="2.1"/><circle cx="858.2" cy="1955.7" r="1.7"/><circle cx="830.7" cy="1971.7" r="2.0"/><circle cx="781.3" cy="1972.1" r="1.5"/><circle cx="841.4" cy="1940.8" r="1.4"/><circle cx="754.3" cy="1960.8" r="1.6"/><circle cx="830.3" cy="1974.7" r="2.4"/><circle cx="835.1" cy="1899.5" r="1.4"/><circle cx="860.3" cy="1928.1" r="2.2"/><circle cx="796.8" cy="1985.3" r="1.3"/><circle cx="827.8" cy="1911.8" r="1.2"/><circle cx="824.2" cy="1934.7" r="2.1"/><circle cx="853.9" cy="1981.4" r="1.7"/><circle cx="833.6" cy="1958.8" r="1.5"/><circle cx="859.2" cy="1956.3" r="1.2"/><circle cx="850.2" cy="1963.7" r="2.4"/><circle cx="835.4" cy="1973.0" r="1.9"/><circle cx="785.2" cy="1952.6" r="1.3"/><circle cx="858.7" cy="1926.4" r="2.4"/><circle cx="772.5" cy="1974.9" r="2.4"/><circle cx="775.8" cy="1919.3" r="2.1"/><circle cx="787.3" cy="1899.0" r="1.7"/><circle cx="811.0" cy="1927.8" r="1.3"/><circle cx="799.3" cy="1959.4" r="1.5"/><circle cx="791.8" cy="1971.6" r="1.6"/><circle cx="817.6" cy="1983.0" r="1.7"/><circle cx="774.1" cy="1945.7" r="1.7"/><circle cx="783.3" cy="1959.4" r="1.8"/><circle cx="822.1" cy="1933.3" r="2.6"/><circle cx="810.3" cy="1937.1" r="2.1"/><circle cx="818.5" cy="1918.1" r="1.8"/><circle cx="788.3" cy="1966.5" r="1.2"/><circle cx="809.5" cy="1977.8" r="2.0"/><circle cx="794.7" cy="1983.9" r="1.7"/><circle cx="848.2" cy="1948.9" r="1.7"/><circle cx="814.3" cy="1897.1" r="1.8"/><circle cx="791.3" cy="1960.9" r="2.2"/><circle cx="832.5" cy="1940.9" r="2.1"/><circle cx="761.2" cy="1948.4" r="2.7"/><circle cx="805.0" cy="1965.8" r="1.5"/><circle cx="818.4" cy="1894.1" r="2.3"/><circle cx="841.7" cy="1899.7" r="2.6"/><circle cx="847.1" cy="1979.2" r="1.3"/><circle cx="812.5" cy="1986.6" r="2.3"/><circle cx="760.6" cy="1941.6" r="2.1"/><circle cx="794.2" cy="1959.5" r="1.3"/><circle cx="769.9" cy="1984.0" r="2.2"/><circle cx="786.9" cy="1971.9" r="2.3"/><circle cx="824.7" cy="1977.5" r="1.5"/><circle cx="818.1" cy="1907.6" r="1.5"/><circle cx="785.7" cy="1983.8" r="1.9"/><circle cx="834.2" cy="1991.0" r="2.4"/><circle cx="863.1" cy="1965.4" r="2.0"/><circle cx="804.5" cy="1913.2" r="1.2"/><circle cx="797.5" cy="1941.5" r="1.2"/><circle cx="802.8" cy="1984.7" r="2.6"/><circle cx="811.3" cy="1963.6" r="1.2"/><circle cx="841.4" cy="1918.7" r="1.9"/><circle cx="838.6" cy="1965.2" r="1.6"/><circle cx="838.2" cy="1962.3" r="2.3"/><circle cx="795.8" cy="1977.5" r="2.0"/><circle cx="788.2" cy="1931.2" r="2.2"/><circle cx="770.2" cy="1977.0" r="2.1"/><circle cx="843.7" cy="1924.6" r="1.4"/><circle cx="844.3" cy="1968.5" r="1.3"/><circle cx="863.8" cy="1952.4" r="2.6"/><circle cx="817.0" cy="1901.9" r="2.1"/><circle cx="773.3" cy="1927.4" r="2.0"/><circle cx="783.1" cy="1995.1" r="1.8"/><circle cx="865.8" cy="1935.5" r="2.3"/><circle cx="818.5" cy="1972.7" r="1.4"/><circle cx="785.2" cy="1948.0" r="2.1"/><circle cx="823.1" cy="1968.1" r="1.2"/><circle cx="755.0" cy="1941.3" r="2.5"/><circle cx="791.6" cy="1901.9" r="1.8"/><circle cx="825.3" cy="1940.7" r="2.2"/><circle cx="801.6" cy="1956.0" r="2.2"/><circle cx="866.0" cy="1943.4" r="2.1"/><circle cx="831.0" cy="1904.6" r="2.1"/><circle cx="792.9" cy="1904.9" r="1.4"/><circle cx="781.3" cy="1904.8" r="2.1"/><circle cx="786.0" cy="1902.7" r="1.2"/><circle cx="811.9" cy="1972.5" r="1.2"/><circle cx="815.9" cy="1961.2" r="1.4"/><circle cx="810.7" cy="1925.6" r="1.8"/><circle cx="788.4" cy="1933.0" r="2.5"/><circle cx="794.4" cy="1984.8" r="1.5"/><circle cx="789.5" cy="1960.6" r="1.7"/><circle cx="823.4" cy="1946.2" r="2.2"/><circle cx="768.7" cy="1970.7" r="1.3"/><circle cx="757.4" cy="1960.1" r="2.0"/><circle cx="796.3" cy="1958.9" r="2.1"/><circle cx="841.8" cy="1914.5" r="1.4"/><circle cx="798.4" cy="1977.8" r="1.6"/><circle cx="810.1" cy="1961.7" r="1.6"/><circle cx="859.1" cy="1921.1" r="1.4"/><circle cx="837.0" cy="1997.4" r="1.9"/><circle cx="864.0" cy="1959.3" r="2.0"/><circle cx="845.4" cy="1971.2" r="1.2"/><circle cx="766.4" cy="1954.3" r="1.4"/><circle cx="855.3" cy="1956.3" r="1.6"/><circle cx="753.8" cy="1937.1" r="1.9"/><circle cx="819.1" cy="1892.7" r="1.2"/><circle cx="836.5" cy="1934.7" r="1.3"/><circle cx="803.5" cy="1928.6" r="1.2"/><circle cx="806.8" cy="1924.7" r="1.4"/><circle cx="837.3" cy="1990.0" r="2.1"/><circle cx="838.3" cy="1898.1" r="1.8"/><circle cx="819.2" cy="1935.0" r="2.1"/><circle cx="800.4" cy="1905.2" r="1.4"/><circle cx="849.0" cy="1910.1" r="2.5"/><circle cx="846.6" cy="1913.8" r="1.7"/><circle cx="794.6" cy="1951.2" r="1.2"/><circle cx="846.9" cy="1949.2" r="1.6"/><circle cx="806.6" cy="1917.4" r="2.5"/><circle cx="793.8" cy="1930.4" r="1.3"/><circle cx="821.0" cy="1894.2" r="1.3"/><circle cx="775.9" cy="1972.7" r="1.6"/><circle cx="808.9" cy="1934.6" r="1.5"/><circle cx="844.5" cy="1970.4" r="1.8"/><circle cx="775.9" cy="1931.4" r="2.6"/><circle cx="827.4" cy="1969.5" r="1.9"/><circle cx="803.1" cy="2003.3" r="1.2"/><circle cx="819.8" cy="1963.2" r="2.3"/><circle cx="795.4" cy="1973.4" r="2.6"/><circle cx="766.6" cy="1920.6" r="2.3"/><circle cx="774.9" cy="1920.0" r="1.2"/><circle cx="787.7" cy="1929.6" r="1.6"/><circle cx="764.1" cy="1948.2" r="1.5"/><circle cx="813.8" cy="1936.6" r="1.5"/></g>
<rect x="746.3" y="1884.7" width="129.2" height="125.2" fill="none" stroke="#000" stroke-width="3.4"/>
<ellipse cx="948.4" cy="1949.0" rx="61.4" ry="59.9" fill="#b9b9b9"/>
<ellipse cx="949.9" cy="1946.6" rx="60.9" ry="59.4" fill="url(#dg)" stroke="#c6c6c6" stroke-width="1"/>
<g fill="#0a0a0a" filter="url(#bl)"><circle cx="948.0" cy="1950.1" r="1.2"/><circle cx="935.8" cy="1910.4" r="1.8"/><circle cx="979.7" cy="1913.6" r="1.1"/><circle cx="907.4" cy="1953.1" r="1.1"/><circle cx="961.6" cy="1975.9" r="1.1"/><circle cx="971.0" cy="1991.8" r="1.7"/><circle cx="935.1" cy="1939.7" r="1.6"/><circle cx="900.2" cy="1935.1" r="1.8"/><circle cx="944.8" cy="1963.9" r="1.5"/><circle cx="992.6" cy="1913.7" r="1.1"/><circle cx="940.4" cy="1911.3" r="2.1"/><circle cx="903.7" cy="1974.0" r="2.1"/><circle cx="949.2" cy="1990.8" r="1.2"/><circle cx="935.6" cy="1967.9" r="1.5"/><circle cx="904.8" cy="1949.8" r="1.5"/><circle cx="985.3" cy="1948.3" r="2.0"/><circle cx="961.5" cy="1892.6" r="1.0"/><circle cx="946.8" cy="1947.2" r="1.1"/><circle cx="896.8" cy="1959.8" r="1.3"/><circle cx="901.5" cy="1976.3" r="2.2"/><circle cx="957.7" cy="1929.6" r="1.2"/><circle cx="942.0" cy="1950.3" r="1.0"/><circle cx="985.9" cy="1903.7" r="1.2"/><circle cx="944.6" cy="1935.4" r="1.6"/><circle cx="969.4" cy="1992.6" r="1.1"/><circle cx="927.6" cy="1908.5" r="1.6"/><circle cx="960.9" cy="1944.0" r="2.0"/><circle cx="915.2" cy="1921.9" r="1.3"/><circle cx="921.7" cy="1983.5" r="1.2"/><circle cx="946.1" cy="1937.8" r="1.0"/><circle cx="928.8" cy="1942.5" r="1.5"/><circle cx="939.1" cy="1909.0" r="2.1"/><circle cx="987.0" cy="1915.9" r="1.3"/><circle cx="979.8" cy="1984.7" r="1.7"/><circle cx="965.7" cy="1956.0" r="1.4"/><circle cx="947.0" cy="1955.9" r="1.1"/><circle cx="952.0" cy="1940.7" r="1.2"/><circle cx="956.7" cy="1982.7" r="1.0"/><circle cx="944.7" cy="1999.5" r="1.2"/><circle cx="954.0" cy="1899.8" r="1.3"/><circle cx="915.1" cy="1941.6" r="1.2"/><circle cx="992.1" cy="1962.6" r="1.3"/><circle cx="941.8" cy="1959.3" r="1.4"/><circle cx="972.0" cy="1943.0" r="1.5"/><circle cx="951.5" cy="1985.3" r="1.5"/></g>
<rect x="884.7" y="1884.7" width="129.9" height="125.2" fill="none" stroke="#000" stroke-width="3.4"/>
<ellipse cx="1099.2" cy="1949.0" rx="61.4" ry="59.9" fill="#b9b9b9"/>
<ellipse cx="1100.8" cy="1946.6" rx="60.9" ry="59.4" fill="url(#dg)" stroke="#c6c6c6" stroke-width="1"/>
<g fill="#0a0a0a" filter="url(#bl)"><circle cx="1077.6" cy="1918.2" r="1.2"/><circle cx="1138.0" cy="1939.9" r="2.3"/><circle cx="1074.7" cy="1942.6" r="1.6"/><circle cx="1126.6" cy="1914.6" r="2.3"/><circle cx="1128.1" cy="1975.0" r="2.0"/><circle cx="1128.9" cy="1953.5" r="1.3"/><circle cx="1120.2" cy="1924.4" r="1.1"/><circle cx="1135.5" cy="1910.4" r="1.1"/><circle cx="1125.3" cy="1995.8" r="1.2"/><circle cx="1110.1" cy="1996.8" r="1.2"/><circle cx="1083.7" cy="1989.9" r="1.2"/><circle cx="1139.2" cy="1904.4" r="1.3"/><circle cx="1124.7" cy="1955.9" r="1.5"/><circle cx="1069.6" cy="1932.1" r="1.2"/><circle cx="1080.6" cy="1974.2" r="2.5"/><circle cx="1157.4" cy="1952.3" r="2.5"/><circle cx="1119.3" cy="1944.6" r="2.4"/><circle cx="1132.1" cy="1911.7" r="2.5"/><circle cx="1068.4" cy="1901.5" r="1.2"/><circle cx="1080.6" cy="1939.7" r="1.1"/><circle cx="1073.6" cy="1984.6" r="1.6"/><circle cx="1118.9" cy="1950.0" r="1.7"/><circle cx="1115.0" cy="1948.1" r="1.9"/><circle cx="1095.9" cy="1947.1" r="1.2"/><circle cx="1107.6" cy="1922.1" r="1.6"/><circle cx="1051.4" cy="1934.6" r="1.6"/><circle cx="1105.3" cy="1993.2" r="1.6"/><circle cx="1135.8" cy="1963.9" r="1.8"/><circle cx="1092.8" cy="1944.3" r="1.5"/><circle cx="1075.5" cy="1914.7" r="2.3"/><circle cx="1064.8" cy="1945.1" r="2.3"/><circle cx="1065.1" cy="1949.7" r="1.2"/><circle cx="1066.3" cy="1921.9" r="2.1"/><circle cx="1068.0" cy="1975.2" r="1.3"/><circle cx="1079.4" cy="1923.5" r="1.6"/><circle cx="1147.1" cy="1932.5" r="2.3"/><circle cx="1075.2" cy="1974.2" r="1.6"/><circle cx="1064.1" cy="1924.0" r="2.1"/><circle cx="1150.2" cy="1940.0" r="1.8"/><circle cx="1144.7" cy="1928.0" r="1.9"/><circle cx="1108.8" cy="1970.9" r="2.4"/><circle cx="1085.9" cy="1901.9" r="2.2"/><circle cx="1117.6" cy="2000.3" r="1.2"/><circle cx="1093.8" cy="1952.1" r="1.3"/><circle cx="1082.5" cy="1958.9" r="1.1"/><circle cx="1068.7" cy="1932.0" r="1.9"/><circle cx="1091.3" cy="1988.4" r="1.4"/><circle cx="1097.2" cy="1996.2" r="1.9"/><circle cx="1090.8" cy="1914.8" r="2.4"/><circle cx="1088.6" cy="1998.2" r="1.8"/><circle cx="1086.7" cy="1894.3" r="1.7"/><circle cx="1095.3" cy="1892.4" r="1.7"/><circle cx="1073.9" cy="1926.9" r="1.2"/><circle cx="1120.0" cy="1980.0" r="2.1"/><circle cx="1048.2" cy="1969.9" r="1.8"/><circle cx="1118.2" cy="1993.2" r="1.4"/><circle cx="1151.6" cy="1932.1" r="1.3"/><circle cx="1088.2" cy="1926.4" r="1.1"/><circle cx="1065.5" cy="1926.9" r="1.1"/><circle cx="1149.4" cy="1968.1" r="1.6"/><circle cx="1118.4" cy="1902.8" r="1.4"/><circle cx="1109.1" cy="1975.0" r="1.1"/><circle cx="1140.9" cy="1919.0" r="1.1"/><circle cx="1061.6" cy="1963.0" r="1.6"/><circle cx="1116.1" cy="1990.0" r="1.9"/><circle cx="1112.2" cy="1963.0" r="1.8"/><circle cx="1139.9" cy="1911.7" r="1.7"/><circle cx="1084.0" cy="1920.4" r="1.6"/><circle cx="1083.2" cy="1977.0" r="2.5"/><circle cx="1086.3" cy="1948.0" r="1.1"/><circle cx="1065.0" cy="1924.7" r="2.6"/><circle cx="1062.1" cy="1909.1" r="1.2"/><circle cx="1137.5" cy="1986.5" r="2.1"/><circle cx="1108.3" cy="1937.7" r="1.1"/><circle cx="1151.7" cy="1968.7" r="1.2"/><circle cx="1097.6" cy="1928.5" r="2.3"/><circle cx="1048.5" cy="1935.4" r="1.1"/><circle cx="1064.5" cy="1979.6" r="1.3"/><circle cx="1112.4" cy="1989.2" r="1.5"/><circle cx="1144.2" cy="1948.6" r="2.5"/><circle cx="1104.8" cy="1996.9" r="1.2"/><circle cx="1080.3" cy="1959.6" r="1.4"/><circle cx="1080.9" cy="1926.0" r="1.8"/><circle cx="1128.0" cy="1987.6" r="1.2"/><circle cx="1132.7" cy="1977.0" r="1.9"/><circle cx="1062.7" cy="1922.8" r="1.2"/><circle cx="1139.1" cy="1989.1" r="1.1"/><circle cx="1060.3" cy="1982.2" r="1.5"/><circle cx="1096.7" cy="1897.0" r="1.1"/><circle cx="1145.3" cy="1955.1" r="1.5"/><circle cx="1068.5" cy="1952.2" r="1.6"/><circle cx="1130.4" cy="1972.9" r="1.5"/><circle cx="1128.7" cy="1935.7" r="1.4"/><circle cx="1076.9" cy="1997.3" r="2.3"/><circle cx="1126.6" cy="1901.5" r="2.3"/><circle cx="1149.0" cy="1951.7" r="1.2"/><circle cx="1133.6" cy="1975.3" r="1.1"/><circle cx="1102.0" cy="1960.7" r="2.3"/><circle cx="1079.7" cy="1920.2" r="1.5"/><circle cx="1108.2" cy="1993.5" r="1.2"/><circle cx="1087.0" cy="1985.3" r="1.8"/><circle cx="1066.4" cy="1930.2" r="2.3"/><circle cx="1073.4" cy="1949.2" r="2.1"/><circle cx="1116.2" cy="1903.1" r="2.6"/><circle cx="1052.2" cy="1943.2" r="1.5"/><circle cx="1133.8" cy="1931.6" r="2.0"/><circle cx="1144.9" cy="1976.3" r="1.9"/><circle cx="1082.5" cy="1932.9" r="1.6"/><circle cx="1048.3" cy="1922.7" r="1.5"/><circle cx="1090.2" cy="1931.9" r="2.5"/><circle cx="1153.4" cy="1933.8" r="1.3"/><circle cx="1072.6" cy="1907.5" r="1.3"/><circle cx="1110.6" cy="1979.9" r="2.5"/><circle cx="1067.1" cy="1900.5" r="1.2"/><circle cx="1133.8" cy="1935.8" r="2.1"/><circle cx="1118.6" cy="1944.6" r="1.4"/><circle cx="1088.1" cy="1968.4" r="2.1"/><circle cx="1073.8" cy="1903.0" r="2.1"/><circle cx="1090.3" cy="1989.0" r="1.8"/><circle cx="1109.1" cy="1893.8" r="2.4"/><circle cx="1084.3" cy="1893.4" r="1.7"/><circle cx="1095.1" cy="1960.5" r="2.3"/><circle cx="1050.4" cy="1932.6" r="2.4"/><circle cx="1069.9" cy="1976.3" r="1.8"/><circle cx="1067.7" cy="1956.2" r="1.1"/><circle cx="1107.2" cy="1891.8" r="1.9"/><circle cx="1086.4" cy="1924.4" r="1.4"/><circle cx="1048.4" cy="1942.5" r="1.7"/><circle cx="1142.9" cy="1968.7" r="1.8"/><circle cx="1097.3" cy="1972.3" r="2.0"/><circle cx="1054.8" cy="1966.6" r="1.1"/><circle cx="1107.8" cy="1999.1" r="2.1"/><circle cx="1150.4" cy="1920.1" r="2.2"/><circle cx="1108.2" cy="1929.4" r="1.2"/><circle cx="1063.0" cy="1981.3" r="1.3"/><circle cx="1153.1" cy="1962.6" r="2.3"/><circle cx="1049.4" cy="1945.5" r="1.5"/><circle cx="1101.3" cy="1989.4" r="1.7"/><circle cx="1065.4" cy="1947.3" r="1.1"/><circle cx="1063.5" cy="1990.5" r="2.1"/><circle cx="1055.3" cy="1912.8" r="1.6"/><circle cx="1120.9" cy="1904.3" r="2.2"/><circle cx="1150.7" cy="1936.1" r="1.3"/><circle cx="1104.5" cy="1984.0" r="1.3"/><circle cx="1094.7" cy="1992.8" r="1.3"/><circle cx="1137.2" cy="1972.4" r="2.5"/><circle cx="1069.9" cy="1990.4" r="2.2"/><circle cx="1116.4" cy="1934.1" r="1.2"/><circle cx="1089.2" cy="1968.4" r="2.0"/><circle cx="1125.8" cy="1969.6" r="1.4"/><circle cx="1134.0" cy="1991.7" r="1.7"/><circle cx="1047.8" cy="1964.3" r="1.1"/><circle cx="1110.6" cy="1989.8" r="2.5"/><circle cx="1087.9" cy="1943.5" r="1.9"/><circle cx="1115.3" cy="1989.8" r="1.7"/><circle cx="1102.3" cy="1963.0" r="2.4"/><circle cx="1053.9" cy="1964.5" r="2.4"/><circle cx="1125.6" cy="1949.5" r="2.1"/><circle cx="1095.8" cy="1960.3" r="1.4"/><circle cx="1110.7" cy="1940.7" r="1.4"/><circle cx="1121.1" cy="1973.2" r="2.1"/><circle cx="1143.7" cy="1983.1" r="1.1"/><circle cx="1137.9" cy="1938.8" r="1.3"/><circle cx="1073.6" cy="1982.7" r="1.3"/><circle cx="1096.8" cy="1898.7" r="1.9"/><circle cx="1091.2" cy="1972.8" r="1.2"/><circle cx="1081.7" cy="1939.1" r="1.1"/><circle cx="1073.0" cy="1971.6" r="2.1"/><circle cx="1091.1" cy="1910.6" r="1.3"/><circle cx="1066.5" cy="1969.4" r="2.0"/><circle cx="1094.1" cy="1940.7" r="1.4"/><circle cx="1087.0" cy="1955.9" r="2.4"/><circle cx="1094.3" cy="1931.2" r="2.2"/><circle cx="1095.6" cy="1983.9" r="1.7"/><circle cx="1073.7" cy="1953.4" r="1.4"/><circle cx="1133.1" cy="1959.0" r="1.1"/><circle cx="1064.6" cy="1953.0" r="2.1"/><circle cx="1151.3" cy="1925.9" r="1.2"/><circle cx="1052.3" cy="1937.8" r="1.3"/><circle cx="1046.5" cy="1952.0" r="2.6"/><circle cx="1148.2" cy="1953.8" r="1.5"/><circle cx="1137.6" cy="1926.5" r="2.2"/><circle cx="1157.9" cy="1944.2" r="1.4"/><circle cx="1142.5" cy="1909.7" r="1.4"/><circle cx="1085.8" cy="1941.8" r="2.2"/><circle cx="1098.4" cy="1904.6" r="1.3"/><circle cx="1080.8" cy="1968.8" r="1.5"/><circle cx="1085.0" cy="1896.7" r="1.7"/><circle cx="1104.6" cy="1947.7" r="1.2"/><circle cx="1123.6" cy="1917.7" r="2.2"/></g>
<rect x="1036.3" y="1884.7" width="128.5" height="125.2" fill="none" stroke="#000" stroke-width="3.4" stroke-dasharray="9.4 5"/>
<ellipse cx="1239.0" cy="1949.0" rx="61.4" ry="59.9" fill="#b9b9b9"/>
<ellipse cx="1240.6" cy="1946.6" rx="60.9" ry="59.4" fill="url(#dg)" stroke="#c6c6c6" stroke-width="1"/>
<g fill="#0a0a0a" filter="url(#bl)"><circle cx="1265.1" cy="1910.1" r="0.9"/><circle cx="1196.3" cy="1918.0" r="1.3"/><circle cx="1245.7" cy="1914.0" r="0.8"/><circle cx="1272.6" cy="1975.6" r="1.9"/><circle cx="1237.8" cy="1982.1" r="0.9"/><circle cx="1235.6" cy="1961.7" r="1.3"/><circle cx="1243.6" cy="1953.7" r="1.6"/><circle cx="1207.6" cy="1923.8" r="1.7"/><circle cx="1204.9" cy="1908.3" r="1.0"/><circle cx="1223.1" cy="1974.7" r="1.8"/><circle cx="1239.4" cy="1935.1" r="1.6"/><circle cx="1244.0" cy="1932.8" r="0.9"/><circle cx="1230.2" cy="1996.2" r="1.2"/><circle cx="1255.9" cy="1980.6" r="1.5"/><circle cx="1188.3" cy="1953.4" r="1.8"/><circle cx="1296.3" cy="1944.1" r="1.9"/><circle cx="1224.5" cy="1906.3" r="1.1"/><circle cx="1199.4" cy="1983.6" r="1.1"/><circle cx="1263.8" cy="1914.6" r="0.8"/><circle cx="1255.4" cy="1895.8" r="1.1"/><circle cx="1249.1" cy="1987.8" r="1.4"/><circle cx="1241.7" cy="1968.9" r="1.9"/><circle cx="1279.5" cy="1932.0" r="0.8"/><circle cx="1188.8" cy="1929.7" r="1.4"/><circle cx="1280.8" cy="1924.0" r="1.1"/><circle cx="1204.2" cy="1969.6" r="0.8"/><circle cx="1274.7" cy="1931.3" r="1.6"/><circle cx="1225.2" cy="1958.9" r="1.7"/><circle cx="1242.9" cy="1923.1" r="1.0"/><circle cx="1221.6" cy="1895.6" r="1.3"/><circle cx="1240.8" cy="2002.6" r="0.8"/><circle cx="1197.6" cy="1928.6" r="1.0"/><circle cx="1250.0" cy="1955.3" r="1.1"/><circle cx="1269.9" cy="1920.9" r="1.8"/><circle cx="1288.7" cy="1938.5" r="1.1"/><circle cx="1229.4" cy="1920.3" r="0.9"/><circle cx="1227.7" cy="1943.7" r="1.0"/><circle cx="1276.4" cy="1931.9" r="1.3"/><circle cx="1185.8" cy="1964.0" r="1.6"/><circle cx="1268.5" cy="1992.1" r="1.6"/><circle cx="1209.1" cy="1992.0" r="1.0"/><circle cx="1214.6" cy="1915.3" r="1.1"/><circle cx="1229.4" cy="1899.8" r="1.1"/><circle cx="1236.6" cy="1976.9" r="1.1"/><circle cx="1200.0" cy="1945.7" r="1.0"/><circle cx="1196.3" cy="1953.2" r="1.2"/><circle cx="1204.3" cy="1986.6" r="0.8"/><circle cx="1256.4" cy="1964.7" r="1.1"/><circle cx="1242.7" cy="1959.6" r="1.5"/><circle cx="1277.5" cy="1986.7" r="1.3"/><circle cx="1275.2" cy="1975.8" r="0.8"/><circle cx="1187.7" cy="1922.9" r="1.8"/><circle cx="1286.5" cy="1917.3" r="0.8"/><circle cx="1256.9" cy="2001.5" r="0.9"/><circle cx="1220.5" cy="1915.7" r="1.0"/><circle cx="1249.8" cy="1921.9" r="0.8"/><circle cx="1292.2" cy="1932.1" r="0.8"/><circle cx="1284.5" cy="1917.9" r="0.8"/><circle cx="1185.9" cy="1962.8" r="1.8"/><circle cx="1290.4" cy="1931.4" r="1.1"/><circle cx="1263.6" cy="1972.0" r="0.8"/><circle cx="1196.3" cy="1910.8" r="0.8"/><circle cx="1222.3" cy="1933.0" r="0.9"/><circle cx="1222.4" cy="1900.1" r="1.0"/><circle cx="1292.2" cy="1950.2" r="1.5"/><circle cx="1228.6" cy="1941.2" r="1.1"/><circle cx="1284.0" cy="1938.1" r="1.7"/><circle cx="1267.8" cy="1941.0" r="0.8"/><circle cx="1287.0" cy="1944.4" r="1.4"/><circle cx="1225.7" cy="1900.2" r="1.0"/><circle cx="1259.9" cy="1925.5" r="1.2"/><circle cx="1216.6" cy="1915.8" r="1.7"/><circle cx="1242.7" cy="1951.7" r="0.8"/><circle cx="1269.3" cy="1897.6" r="0.9"/><circle cx="1284.8" cy="1973.0" r="1.1"/><circle cx="1219.8" cy="1998.1" r="1.5"/><circle cx="1235.2" cy="1894.2" r="1.2"/><circle cx="1262.0" cy="1905.6" r="1.2"/><circle cx="1268.7" cy="1956.5" r="1.5"/><circle cx="1229.1" cy="1962.3" r="1.4"/></g>
<rect x="1176.1" y="1884.7" width="128.5" height="125.2" fill="none" stroke="#000" stroke-width="3.4" stroke-dasharray="9.4 5"/>
<ellipse cx="809.6" cy="2084.5" rx="61.4" ry="59.9" fill="#b9b9b9"/>
<ellipse cx="811.2" cy="2082.1" rx="60.9" ry="59.4" fill="url(#dg)" stroke="#c6c6c6" stroke-width="1"/>
<g fill="#0a0a0a" opacity="0.6" filter="url(#bl)"><circle cx="789.9" cy="2038.5" r="1.2"/><circle cx="842.1" cy="2086.4" r="0.9"/><circle cx="771.6" cy="2072.7" r="1.8"/><circle cx="829.6" cy="2092.0" r="1.2"/><circle cx="818.0" cy="2039.7" r="2.1"/><circle cx="843.2" cy="2073.6" r="1.7"/><circle cx="801.8" cy="2113.4" r="0.9"/><circle cx="764.2" cy="2081.3" r="0.9"/><circle cx="808.7" cy="2052.2" r="2.1"/><circle cx="835.1" cy="2127.6" r="1.7"/><circle cx="864.4" cy="2068.5" r="1.7"/><circle cx="798.1" cy="2042.2" r="1.2"/><circle cx="784.7" cy="2102.3" r="1.6"/><circle cx="821.8" cy="2096.3" r="1.5"/><circle cx="849.3" cy="2117.1" r="1.0"/><circle cx="797.8" cy="2027.1" r="1.5"/><circle cx="755.4" cy="2088.7" r="1.7"/><circle cx="768.3" cy="2101.3" r="1.9"/><circle cx="798.2" cy="2130.8" r="1.0"/><circle cx="821.6" cy="2062.4" r="1.0"/><circle cx="788.3" cy="2052.3" r="1.5"/><circle cx="813.5" cy="2082.8" r="1.6"/><circle cx="817.2" cy="2079.6" r="1.7"/><circle cx="842.2" cy="2073.3" r="0.9"/><circle cx="816.3" cy="2061.9" r="1.9"/><circle cx="860.3" cy="2072.6" r="1.9"/><circle cx="853.7" cy="2113.7" r="1.1"/><circle cx="819.4" cy="2066.0" r="2.0"/><circle cx="762.1" cy="2111.2" r="1.2"/><circle cx="777.6" cy="2101.9" r="1.2"/><circle cx="836.5" cy="2086.0" r="1.5"/><circle cx="851.7" cy="2059.1" r="1.3"/><circle cx="827.6" cy="2115.3" r="1.0"/><circle cx="850.0" cy="2058.3" r="1.3"/><circle cx="854.4" cy="2097.2" r="1.9"/><circle cx="809.4" cy="2125.6" r="1.2"/><circle cx="830.3" cy="2084.1" r="1.2"/><circle cx="763.8" cy="2103.3" r="1.0"/><circle cx="846.9" cy="2082.9" r="1.5"/><circle cx="775.6" cy="2094.2" r="1.4"/><circle cx="778.4" cy="2078.3" r="1.2"/><circle cx="830.2" cy="2070.6" r="1.2"/><circle cx="783.2" cy="2051.0" r="2.0"/><circle cx="794.2" cy="2032.2" r="0.9"/><circle cx="803.0" cy="2063.4" r="1.0"/><circle cx="849.5" cy="2045.2" r="0.9"/><circle cx="792.1" cy="2078.7" r="1.0"/><circle cx="758.7" cy="2085.4" r="0.9"/><circle cx="849.8" cy="2068.9" r="1.3"/><circle cx="767.6" cy="2106.7" r="1.1"/><circle cx="793.1" cy="2101.7" r="1.0"/><circle cx="857.7" cy="2097.4" r="1.8"/><circle cx="849.2" cy="2040.3" r="1.7"/><circle cx="803.1" cy="2081.9" r="1.2"/><circle cx="824.3" cy="2085.0" r="1.3"/><circle cx="822.4" cy="2030.4" r="1.0"/><circle cx="773.5" cy="2086.0" r="0.9"/><circle cx="792.2" cy="2081.9" r="1.1"/><circle cx="794.8" cy="2118.8" r="1.0"/><circle cx="834.0" cy="2070.2" r="1.5"/><circle cx="782.3" cy="2051.9" r="1.1"/><circle cx="843.9" cy="2086.9" r="1.5"/><circle cx="841.2" cy="2059.1" r="0.9"/><circle cx="848.8" cy="2098.9" r="1.3"/><circle cx="803.5" cy="2080.6" r="1.9"/><circle cx="792.6" cy="2131.3" r="1.1"/><circle cx="770.4" cy="2104.5" r="0.9"/><circle cx="854.2" cy="2081.2" r="1.8"/><circle cx="804.5" cy="2104.7" r="1.5"/><circle cx="839.1" cy="2069.7" r="1.9"/><circle cx="840.9" cy="2089.0" r="1.6"/><circle cx="761.8" cy="2096.7" r="1.4"/><circle cx="775.7" cy="2093.2" r="1.0"/><circle cx="761.6" cy="2081.7" r="1.2"/><circle cx="803.6" cy="2078.8" r="0.9"/><circle cx="837.2" cy="2112.1" r="1.4"/><circle cx="791.0" cy="2076.3" r="2.1"/><circle cx="808.9" cy="2041.0" r="1.6"/><circle cx="795.3" cy="2045.2" r="1.3"/><circle cx="794.8" cy="2063.2" r="1.9"/><circle cx="801.6" cy="2053.6" r="1.3"/><circle cx="839.7" cy="2093.2" r="1.4"/><circle cx="811.1" cy="2131.6" r="1.5"/><circle cx="772.2" cy="2058.5" r="2.0"/><circle cx="848.9" cy="2062.1" r="1.8"/><circle cx="804.1" cy="2101.6" r="1.1"/><circle cx="763.4" cy="2060.8" r="1.5"/><circle cx="814.9" cy="2027.5" r="1.7"/><circle cx="807.7" cy="2070.7" r="0.9"/><circle cx="759.1" cy="2072.0" r="1.6"/><circle cx="796.0" cy="2039.9" r="1.4"/><circle cx="812.5" cy="2034.4" r="1.3"/><circle cx="788.2" cy="2092.1" r="0.9"/><circle cx="855.6" cy="2057.4" r="1.9"/><circle cx="822.5" cy="2052.0" r="1.9"/><circle cx="802.8" cy="2074.0" r="1.5"/><circle cx="791.1" cy="2114.5" r="1.9"/><circle cx="819.7" cy="2092.3" r="1.1"/><circle cx="846.5" cy="2047.3" r="1.4"/><circle cx="796.0" cy="2074.1" r="1.7"/><circle cx="783.3" cy="2047.8" r="1.3"/><circle cx="761.4" cy="2111.4" r="1.1"/><circle cx="792.1" cy="2073.6" r="2.0"/><circle cx="834.5" cy="2130.0" r="1.9"/><circle cx="783.6" cy="2059.7" r="1.7"/><circle cx="841.2" cy="2120.8" r="0.9"/><circle cx="776.9" cy="2049.5" r="1.9"/><circle cx="826.1" cy="2126.6" r="1.8"/><circle cx="789.1" cy="2133.8" r="1.9"/><circle cx="845.0" cy="2093.5" r="1.2"/><circle cx="790.1" cy="2126.5" r="1.9"/><circle cx="753.1" cy="2089.6" r="1.1"/><circle cx="796.2" cy="2123.2" r="1.4"/><circle cx="788.5" cy="2100.1" r="1.4"/><circle cx="796.2" cy="2095.1" r="0.9"/><circle cx="826.7" cy="2081.2" r="1.1"/><circle cx="850.6" cy="2086.8" r="1.0"/><circle cx="854.8" cy="2091.1" r="0.9"/><circle cx="862.7" cy="2086.1" r="1.9"/><circle cx="833.7" cy="2123.1" r="1.2"/><circle cx="855.4" cy="2104.1" r="1.9"/><circle cx="783.9" cy="2034.4" r="1.9"/><circle cx="845.8" cy="2087.1" r="1.0"/><circle cx="785.9" cy="2111.8" r="1.9"/><circle cx="855.6" cy="2063.3" r="1.0"/></g>
<rect x="746.2" y="2020.3" width="129.4" height="125.1" fill="none" stroke="#949494" stroke-width="3.2"/>
<ellipse cx="948.4" cy="2084.5" rx="61.4" ry="59.9" fill="#b9b9b9"/>
<ellipse cx="949.9" cy="2082.1" rx="60.9" ry="59.4" fill="url(#dg)" stroke="#c6c6c6" stroke-width="1"/>
<g fill="#0a0a0a" opacity="0.6" filter="url(#bl)"><circle cx="949.2" cy="2074.3" r="1.5"/><circle cx="918.7" cy="2039.8" r="0.9"/><circle cx="940.3" cy="2064.0" r="1.3"/><circle cx="972.0" cy="2035.5" r="1.2"/><circle cx="971.9" cy="2072.1" r="0.8"/><circle cx="923.4" cy="2032.8" r="1.3"/><circle cx="966.7" cy="2070.7" r="0.8"/><circle cx="939.1" cy="2038.3" r="1.1"/><circle cx="929.6" cy="2100.2" r="0.8"/><circle cx="991.5" cy="2113.9" r="0.8"/><circle cx="919.5" cy="2080.9" r="0.8"/><circle cx="914.8" cy="2042.6" r="1.7"/><circle cx="916.5" cy="2075.1" r="0.8"/><circle cx="925.6" cy="2114.0" r="1.3"/><circle cx="961.1" cy="2072.5" r="0.8"/><circle cx="988.0" cy="2064.1" r="0.8"/><circle cx="1005.3" cy="2093.7" r="1.4"/><circle cx="926.2" cy="2057.8" r="1.1"/><circle cx="941.3" cy="2038.7" r="1.2"/><circle cx="953.9" cy="2083.7" r="1.4"/><circle cx="920.1" cy="2043.0" r="1.0"/><circle cx="961.2" cy="2134.5" r="0.7"/><circle cx="969.4" cy="2065.6" r="1.2"/><circle cx="963.6" cy="2062.3" r="1.1"/><circle cx="931.2" cy="2111.9" r="0.8"/><circle cx="917.5" cy="2049.7" r="0.7"/><circle cx="929.9" cy="2052.7" r="1.6"/><circle cx="980.4" cy="2107.4" r="0.8"/><circle cx="929.5" cy="2067.7" r="1.2"/><circle cx="919.3" cy="2064.4" r="0.8"/><circle cx="916.5" cy="2123.6" r="0.9"/><circle cx="999.4" cy="2110.8" r="1.7"/><circle cx="949.1" cy="2071.3" r="1.5"/><circle cx="897.5" cy="2094.0" r="1.2"/><circle cx="898.0" cy="2088.2" r="1.4"/><circle cx="988.4" cy="2095.4" r="1.6"/><circle cx="996.4" cy="2096.3" r="1.4"/><circle cx="938.0" cy="2077.8" r="1.6"/><circle cx="952.5" cy="2082.6" r="1.6"/><circle cx="988.5" cy="2068.7" r="1.3"/><circle cx="958.8" cy="2040.2" r="1.2"/><circle cx="949.7" cy="2132.3" r="1.0"/><circle cx="940.8" cy="2048.0" r="0.7"/><circle cx="949.6" cy="2108.5" r="1.5"/><circle cx="946.8" cy="2082.7" r="1.0"/><circle cx="935.5" cy="2036.0" r="1.2"/><circle cx="985.0" cy="2074.6" r="0.8"/><circle cx="940.8" cy="2134.7" r="0.8"/><circle cx="981.1" cy="2054.1" r="1.2"/><circle cx="981.0" cy="2034.6" r="0.7"/><circle cx="924.4" cy="2062.1" r="0.8"/><circle cx="933.3" cy="2044.1" r="1.3"/><circle cx="920.4" cy="2054.9" r="1.0"/><circle cx="924.3" cy="2103.2" r="0.7"/><circle cx="932.5" cy="2048.2" r="1.2"/></g>
<rect x="884.6" y="2020.3" width="130.1" height="125.1" fill="none" stroke="#949494" stroke-width="3.2"/>
<ellipse cx="1099.2" cy="2084.5" rx="61.4" ry="59.9" fill="#b9b9b9"/>
<ellipse cx="1100.8" cy="2082.1" rx="60.9" ry="59.4" fill="url(#dg)" stroke="#c6c6c6" stroke-width="1"/>
<g fill="#0a0a0a" opacity="0.6" filter="url(#bl)"><circle cx="1149.3" cy="2077.3" r="0.8"/><circle cx="1107.5" cy="2092.6" r="1.6"/><circle cx="1054.3" cy="2076.3" r="0.9"/><circle cx="1096.9" cy="2097.2" r="1.6"/><circle cx="1087.3" cy="2085.3" r="0.9"/><circle cx="1068.9" cy="2080.6" r="1.2"/><circle cx="1123.7" cy="2118.6" r="0.8"/><circle cx="1121.9" cy="2031.5" r="1.7"/><circle cx="1146.4" cy="2066.1" r="1.4"/><circle cx="1129.1" cy="2090.3" r="1.7"/><circle cx="1118.4" cy="2046.9" r="0.9"/><circle cx="1127.0" cy="2072.2" r="1.7"/><circle cx="1071.8" cy="2075.4" r="1.0"/><circle cx="1104.9" cy="2072.7" r="1.1"/><circle cx="1097.0" cy="2106.1" r="1.9"/><circle cx="1144.3" cy="2078.9" r="1.5"/><circle cx="1064.3" cy="2071.8" r="1.6"/><circle cx="1062.1" cy="2109.8" r="1.7"/><circle cx="1118.4" cy="2076.8" r="1.0"/><circle cx="1118.1" cy="2132.8" r="0.8"/><circle cx="1050.5" cy="2092.1" r="0.8"/><circle cx="1102.9" cy="2080.1" r="1.1"/><circle cx="1125.7" cy="2101.9" r="1.3"/><circle cx="1075.9" cy="2074.4" r="1.6"/><circle cx="1124.5" cy="2108.7" r="0.8"/><circle cx="1116.0" cy="2040.1" r="1.2"/><circle cx="1089.3" cy="2108.2" r="1.3"/><circle cx="1071.3" cy="2046.5" r="1.2"/><circle cx="1065.3" cy="2058.4" r="1.6"/><circle cx="1122.3" cy="2049.1" r="1.4"/><circle cx="1065.1" cy="2066.7" r="1.0"/><circle cx="1127.8" cy="2045.1" r="1.5"/><circle cx="1127.7" cy="2033.8" r="1.8"/><circle cx="1070.3" cy="2064.6" r="0.8"/><circle cx="1104.3" cy="2027.9" r="0.8"/><circle cx="1112.6" cy="2135.1" r="1.0"/><circle cx="1152.7" cy="2108.0" r="1.1"/><circle cx="1092.4" cy="2051.2" r="1.1"/><circle cx="1076.7" cy="2122.9" r="0.8"/><circle cx="1045.7" cy="2081.7" r="0.9"/><circle cx="1101.5" cy="2055.2" r="1.5"/><circle cx="1118.6" cy="2120.3" r="1.0"/><circle cx="1134.0" cy="2067.9" r="1.3"/><circle cx="1065.6" cy="2127.5" r="1.3"/><circle cx="1095.1" cy="2034.6" r="1.0"/><circle cx="1139.1" cy="2045.1" r="1.4"/><circle cx="1132.3" cy="2053.4" r="1.8"/><circle cx="1063.7" cy="2043.8" r="0.9"/><circle cx="1147.2" cy="2096.9" r="0.8"/><circle cx="1075.6" cy="2085.4" r="1.8"/><circle cx="1100.5" cy="2127.1" r="0.9"/><circle cx="1095.9" cy="2103.5" r="1.0"/><circle cx="1139.3" cy="2106.3" r="1.4"/><circle cx="1083.1" cy="2057.7" r="1.2"/><circle cx="1145.3" cy="2075.5" r="1.1"/><circle cx="1134.9" cy="2058.0" r="0.8"/><circle cx="1068.2" cy="2044.2" r="1.1"/><circle cx="1135.7" cy="2098.6" r="0.8"/><circle cx="1086.5" cy="2068.9" r="1.6"/><circle cx="1098.6" cy="2137.8" r="0.8"/><circle cx="1091.4" cy="2109.2" r="0.9"/><circle cx="1086.5" cy="2066.3" r="1.0"/><circle cx="1084.9" cy="2116.2" r="1.5"/><circle cx="1070.9" cy="2103.6" r="0.8"/><circle cx="1144.8" cy="2076.0" r="1.8"/><circle cx="1078.7" cy="2120.9" r="0.9"/><circle cx="1112.6" cy="2130.0" r="1.6"/><circle cx="1116.8" cy="2106.1" r="1.0"/><circle cx="1099.3" cy="2133.2" r="1.5"/><circle cx="1138.6" cy="2088.7" r="0.8"/><circle cx="1111.1" cy="2105.6" r="0.8"/><circle cx="1126.1" cy="2046.3" r="1.3"/><circle cx="1064.9" cy="2109.3" r="1.5"/><circle cx="1108.8" cy="2117.4" r="1.0"/><circle cx="1106.0" cy="2046.3" r="1.2"/><circle cx="1073.9" cy="2073.8" r="1.7"/><circle cx="1085.3" cy="2096.8" r="1.6"/><circle cx="1124.5" cy="2122.1" r="1.5"/><circle cx="1135.3" cy="2125.0" r="1.7"/><circle cx="1131.6" cy="2053.5" r="0.8"/></g>
<rect x="1036.2" y="2020.3" width="128.7" height="125.1" fill="none" stroke="#949494" stroke-width="3.2" stroke-dasharray="9.4 5"/>
<ellipse cx="1239.0" cy="2084.5" rx="61.4" ry="59.9" fill="#b9b9b9"/>
<ellipse cx="1240.6" cy="2082.1" rx="60.9" ry="59.4" fill="url(#dg2)" stroke="#c6c6c6" stroke-width="1"/>
<g fill="#0a0a0a" opacity="0.6" filter="url(#bl)"><circle cx="1241.9" cy="2090.4" r="0.7"/><circle cx="1227.7" cy="2113.8" r="0.8"/><circle cx="1217.9" cy="2118.7" r="0.8"/><circle cx="1256.9" cy="2038.5" r="0.9"/><circle cx="1244.2" cy="2033.9" r="0.6"/><circle cx="1208.1" cy="2093.0" r="0.7"/><circle cx="1233.4" cy="2089.3" r="0.8"/><circle cx="1281.0" cy="2109.1" r="0.9"/><circle cx="1238.6" cy="2127.0" r="0.5"/><circle cx="1221.9" cy="2065.7" r="0.5"/><circle cx="1202.2" cy="2055.3" r="0.8"/><circle cx="1212.1" cy="2058.4" r="1.3"/><circle cx="1241.0" cy="2114.3" r="1.2"/><circle cx="1194.0" cy="2083.4" r="0.6"/><circle cx="1284.0" cy="2102.6" r="0.8"/><circle cx="1223.1" cy="2050.2" r="1.0"/><circle cx="1197.3" cy="2107.8" r="0.8"/><circle cx="1282.8" cy="2112.1" r="0.9"/><circle cx="1267.5" cy="2062.8" r="0.7"/><circle cx="1236.8" cy="2050.5" r="0.5"/><circle cx="1238.1" cy="2110.1" r="0.7"/><circle cx="1276.0" cy="2083.8" r="1.0"/><circle cx="1232.6" cy="2116.5" r="0.8"/><circle cx="1236.7" cy="2069.1" r="1.0"/><circle cx="1264.8" cy="2102.4" r="0.6"/><circle cx="1294.6" cy="2082.8" r="1.1"/><circle cx="1222.7" cy="2121.5" r="0.6"/><circle cx="1215.5" cy="2067.8" r="0.5"/><circle cx="1193.1" cy="2062.3" r="0.7"/><circle cx="1260.8" cy="2079.9" r="0.6"/><circle cx="1274.9" cy="2117.3" r="0.5"/><circle cx="1248.6" cy="2038.0" r="1.3"/></g>
<rect x="1176.0" y="2020.3" width="128.7" height="125.1" fill="none" stroke="#949494" stroke-width="3.2" stroke-dasharray="9.4 5"/>
<text x="878.4" y="1785.8" font-size="31.0" font-weight="bold" textLength="286.0" lengthAdjust="spacingAndGlyphs">non-sel.&#160; NCI-H460</text>
<text x="852.7" y="1828.8" font-size="32.4" font-weight="bold" textLength="39.3" lengthAdjust="spacingAndGlyphs">Nx</text>
<text x="1152.6" y="1828.8" font-size="32.4" font-weight="bold" textLength="39.4" lengthAdjust="spacingAndGlyphs">Hx</text>
<text x="784.6" y="1868.1" font-size="30.3" font-weight="bold" textLength="59.6" lengthAdjust="spacingAndGlyphs">0 Gy</text>
<text x="919.7" y="1868.1" font-size="30.3" font-weight="bold" textLength="59.6" lengthAdjust="spacingAndGlyphs">3 Gy</text>
<text x="1073.0" y="1868.1" font-size="30.3" font-weight="bold" textLength="59.0" lengthAdjust="spacingAndGlyphs">0 Gy</text>
<text x="1207.8" y="1868.1" font-size="30.3" font-weight="bold" textLength="59.6" lengthAdjust="spacingAndGlyphs">3 Gy</text>
<text x="695.6" y="1947.3" font-size="29.5" font-weight="bold" text-anchor="middle" transform="rotate(-90 695.6 1947.3)">0 µM</text>
<text x="729.6" y="1947.3" font-size="29.5" font-weight="bold" text-anchor="middle" transform="rotate(-90 729.6 1947.3)" textLength="113" lengthAdjust="spacingAndGlyphs">ABT-263</text>
<text x="695.6" y="2082.8" font-size="29.5" font-weight="bold" text-anchor="middle" transform="rotate(-90 695.6 2082.8)">10 µM</text>
<text x="729.6" y="2082.8" font-size="29.5" font-weight="bold" text-anchor="middle" transform="rotate(-90 729.6 2082.8)" textLength="113" lengthAdjust="spacingAndGlyphs">ABT-263</text>
<ellipse cx="1479.4" cy="1949.0" rx="61.4" ry="59.9" fill="#b9b9b9"/>
<ellipse cx="1481.0" cy="1946.6" rx="60.9" ry="59.4" fill="url(#dg)" stroke="#c6c6c6" stroke-width="1"/>
<g fill="#0a0a0a" filter="url(#bl)"><circle cx="1479.4" cy="1948.8" r="1.6"/><circle cx="1441.2" cy="1967.1" r="1.3"/><circle cx="1465.9" cy="1962.6" r="1.4"/><circle cx="1508.7" cy="1917.3" r="1.9"/><circle cx="1469.0" cy="1918.1" r="2.7"/><circle cx="1510.1" cy="1939.0" r="1.6"/><circle cx="1496.1" cy="1904.6" r="2.5"/><circle cx="1524.9" cy="1923.0" r="2.5"/><circle cx="1505.9" cy="1897.1" r="2.3"/><circle cx="1458.2" cy="1927.0" r="1.4"/><circle cx="1446.2" cy="1905.7" r="1.4"/><circle cx="1490.1" cy="1927.7" r="1.9"/><circle cx="1484.0" cy="1996.3" r="2.2"/><circle cx="1485.5" cy="1890.9" r="1.2"/><circle cx="1476.3" cy="1984.2" r="1.4"/><circle cx="1462.2" cy="1939.2" r="2.0"/><circle cx="1490.3" cy="1925.0" r="1.4"/><circle cx="1422.8" cy="1940.9" r="1.6"/><circle cx="1466.6" cy="1956.8" r="1.8"/><circle cx="1438.2" cy="1985.8" r="2.3"/><circle cx="1498.2" cy="1947.5" r="1.3"/><circle cx="1528.7" cy="1965.3" r="1.5"/><circle cx="1449.7" cy="1970.3" r="1.6"/><circle cx="1452.3" cy="1933.3" r="1.8"/><circle cx="1489.8" cy="1978.4" r="1.6"/><circle cx="1432.2" cy="1943.5" r="2.0"/><circle cx="1506.0" cy="1948.2" r="1.3"/><circle cx="1492.2" cy="1925.0" r="2.5"/><circle cx="1454.7" cy="1912.4" r="1.6"/><circle cx="1477.7" cy="1980.6" r="2.2"/><circle cx="1509.6" cy="1931.7" r="1.3"/><circle cx="1475.6" cy="1983.5" r="1.9"/><circle cx="1497.3" cy="1990.8" r="2.8"/><circle cx="1496.9" cy="1959.0" r="1.3"/><circle cx="1451.2" cy="1918.3" r="1.5"/><circle cx="1451.4" cy="1963.6" r="2.4"/><circle cx="1454.1" cy="1975.7" r="1.3"/><circle cx="1495.8" cy="1992.1" r="1.3"/><circle cx="1491.3" cy="1958.9" r="2.0"/><circle cx="1501.5" cy="1912.5" r="1.2"/><circle cx="1531.8" cy="1938.6" r="2.8"/><circle cx="1495.9" cy="1961.1" r="2.3"/><circle cx="1494.7" cy="1956.2" r="1.8"/><circle cx="1451.3" cy="1970.3" r="2.9"/><circle cx="1478.8" cy="1921.8" r="1.9"/><circle cx="1535.5" cy="1961.2" r="2.2"/><circle cx="1524.8" cy="1933.4" r="1.2"/><circle cx="1491.5" cy="2002.6" r="2.8"/></g>
<rect x="1416.2" y="1884.7" width="128.9" height="125.2" fill="none" stroke="#000" stroke-width="3.4"/>
<ellipse cx="1618.0" cy="1949.0" rx="61.4" ry="59.9" fill="#b9b9b9"/>
<ellipse cx="1619.5" cy="1946.6" rx="60.9" ry="59.4" fill="url(#dg2)" stroke="#c6c6c6" stroke-width="1"/>
<g fill="#0a0a0a" filter="url(#bl)"><circle cx="1631.8" cy="1908.9" r="1.8"/><circle cx="1604.8" cy="1922.0" r="2.9"/><circle cx="1636.8" cy="1942.8" r="1.7"/><circle cx="1670.4" cy="1931.0" r="1.5"/><circle cx="1634.6" cy="1928.4" r="2.5"/><circle cx="1645.9" cy="1941.1" r="2.3"/><circle cx="1668.5" cy="1933.2" r="1.2"/><circle cx="1633.2" cy="1919.9" r="2.9"/><circle cx="1661.2" cy="1930.9" r="1.2"/><circle cx="1612.9" cy="1961.0" r="1.3"/><circle cx="1589.4" cy="1956.1" r="2.8"/><circle cx="1622.1" cy="1949.2" r="2.3"/><circle cx="1668.1" cy="1934.1" r="2.0"/><circle cx="1608.9" cy="2000.2" r="1.5"/><circle cx="1571.4" cy="1922.0" r="2.9"/><circle cx="1621.9" cy="1985.7" r="1.3"/><circle cx="1625.4" cy="1977.4" r="2.5"/><circle cx="1596.7" cy="1926.2" r="2.9"/><circle cx="1584.2" cy="1935.2" r="2.6"/><circle cx="1637.8" cy="1975.8" r="1.5"/><circle cx="1653.2" cy="1981.1" r="1.4"/><circle cx="1587.9" cy="1904.7" r="2.2"/><circle cx="1622.6" cy="1938.1" r="1.7"/><circle cx="1566.3" cy="1930.3" r="1.9"/><circle cx="1592.0" cy="1967.1" r="2.1"/><circle cx="1588.0" cy="1987.4" r="1.6"/><circle cx="1581.8" cy="1943.7" r="2.9"/><circle cx="1584.4" cy="1975.7" r="1.8"/><circle cx="1622.4" cy="1977.6" r="2.1"/><circle cx="1589.8" cy="1964.0" r="2.5"/><circle cx="1629.3" cy="1970.8" r="2.5"/><circle cx="1608.3" cy="1964.9" r="1.2"/></g>
<rect x="1555.0" y="1884.7" width="128.5" height="125.2" fill="none" stroke="#000" stroke-width="3.4"/>
<ellipse cx="1765.0" cy="1949.0" rx="61.4" ry="59.9" fill="#b9b9b9"/>
<ellipse cx="1766.6" cy="1946.6" rx="60.9" ry="59.4" fill="url(#dg)" stroke="#c6c6c6" stroke-width="1"/>
<g fill="#0a0a0a" filter="url(#bl)"><circle cx="1724.2" cy="1936.7" r="1.2"/><circle cx="1802.2" cy="1955.4" r="1.2"/><circle cx="1735.7" cy="1994.4" r="0.8"/><circle cx="1793.3" cy="1951.8" r="0.9"/><circle cx="1747.6" cy="1908.8" r="1.8"/><circle cx="1727.5" cy="1983.9" r="1.0"/><circle cx="1783.3" cy="1916.2" r="1.4"/><circle cx="1809.7" cy="1973.2" r="0.9"/><circle cx="1768.1" cy="1977.3" r="1.9"/><circle cx="1779.8" cy="1930.5" r="0.9"/><circle cx="1710.2" cy="1956.3" r="1.3"/><circle cx="1773.7" cy="1958.9" r="0.9"/><circle cx="1748.0" cy="1895.1" r="1.6"/><circle cx="1782.8" cy="1988.6" r="0.9"/><circle cx="1737.8" cy="1940.2" r="1.9"/><circle cx="1776.8" cy="1941.8" r="1.9"/><circle cx="1793.1" cy="1983.7" r="1.5"/><circle cx="1719.2" cy="1954.0" r="1.0"/><circle cx="1753.9" cy="1910.5" r="1.7"/><circle cx="1759.8" cy="1905.4" r="0.9"/><circle cx="1728.9" cy="1933.0" r="1.5"/><circle cx="1756.5" cy="1920.6" r="1.8"/><circle cx="1731.5" cy="1989.1" r="1.2"/><circle cx="1811.1" cy="1965.0" r="1.5"/><circle cx="1750.3" cy="1955.2" r="0.8"/><circle cx="1734.0" cy="1901.2" r="1.7"/><circle cx="1773.1" cy="1946.1" r="1.9"/><circle cx="1721.5" cy="1956.3" r="1.1"/><circle cx="1801.9" cy="1914.8" r="1.8"/><circle cx="1782.7" cy="1983.4" r="1.6"/><circle cx="1731.9" cy="1914.6" r="1.1"/><circle cx="1758.2" cy="1916.8" r="2.0"/><circle cx="1753.4" cy="1905.3" r="1.8"/><circle cx="1801.6" cy="1912.7" r="1.4"/><circle cx="1762.2" cy="1907.7" r="1.1"/><circle cx="1733.3" cy="1972.6" r="1.8"/><circle cx="1805.8" cy="1914.6" r="1.1"/><circle cx="1820.8" cy="1939.7" r="1.6"/><circle cx="1739.2" cy="1970.9" r="1.0"/><circle cx="1791.5" cy="1904.8" r="1.0"/><circle cx="1750.5" cy="1938.1" r="0.9"/><circle cx="1808.8" cy="1969.6" r="1.4"/><circle cx="1800.5" cy="1932.4" r="0.9"/><circle cx="1745.0" cy="1959.0" r="1.1"/><circle cx="1753.8" cy="1934.6" r="1.4"/><circle cx="1791.9" cy="1964.5" r="1.5"/><circle cx="1773.7" cy="1914.8" r="1.8"/><circle cx="1748.6" cy="1921.5" r="1.0"/><circle cx="1799.9" cy="1981.9" r="0.8"/><circle cx="1737.4" cy="1962.4" r="1.2"/><circle cx="1735.8" cy="1923.8" r="1.3"/><circle cx="1793.6" cy="1952.4" r="1.8"/><circle cx="1746.1" cy="1894.8" r="1.5"/><circle cx="1783.0" cy="1929.8" r="1.2"/><circle cx="1788.1" cy="1987.8" r="0.8"/><circle cx="1738.8" cy="1986.7" r="1.6"/><circle cx="1749.0" cy="1915.8" r="1.0"/><circle cx="1721.1" cy="1980.3" r="1.4"/><circle cx="1724.8" cy="1928.8" r="1.6"/><circle cx="1735.7" cy="1939.2" r="1.6"/><circle cx="1751.1" cy="1937.0" r="1.1"/><circle cx="1788.9" cy="1995.6" r="0.9"/><circle cx="1764.5" cy="1903.6" r="1.3"/><circle cx="1710.7" cy="1950.9" r="2.0"/><circle cx="1802.7" cy="1926.6" r="1.7"/><circle cx="1783.5" cy="1911.1" r="1.5"/><circle cx="1801.8" cy="1972.6" r="1.9"/><circle cx="1741.6" cy="1988.7" r="1.2"/><circle cx="1745.0" cy="1961.9" r="1.7"/><circle cx="1738.7" cy="1919.1" r="1.0"/><circle cx="1771.4" cy="1914.3" r="1.5"/><circle cx="1745.3" cy="1999.6" r="1.0"/><circle cx="1714.4" cy="1944.6" r="1.9"/><circle cx="1807.2" cy="1941.7" r="0.9"/><circle cx="1785.9" cy="1974.6" r="1.1"/><circle cx="1796.7" cy="1899.2" r="2.0"/><circle cx="1733.4" cy="1907.4" r="1.9"/><circle cx="1749.6" cy="1943.7" r="1.5"/><circle cx="1807.1" cy="1935.6" r="1.3"/><circle cx="1763.3" cy="2000.4" r="1.0"/><circle cx="1726.0" cy="1967.1" r="1.9"/><circle cx="1767.7" cy="1918.9" r="1.4"/><circle cx="1744.7" cy="1946.3" r="1.5"/><circle cx="1774.5" cy="1991.2" r="1.9"/><circle cx="1764.7" cy="1963.6" r="1.2"/><circle cx="1802.0" cy="1936.2" r="1.5"/><circle cx="1748.2" cy="1995.7" r="1.8"/><circle cx="1762.9" cy="1984.9" r="0.9"/><circle cx="1720.0" cy="1931.1" r="1.1"/><circle cx="1798.6" cy="1904.6" r="1.1"/><circle cx="1747.4" cy="1983.1" r="0.8"/><circle cx="1823.4" cy="1947.8" r="1.5"/><circle cx="1796.6" cy="1929.6" r="0.9"/><circle cx="1804.0" cy="1968.2" r="1.1"/><circle cx="1733.2" cy="1944.0" r="1.0"/></g>
<rect x="1701.5" y="1884.7" width="129.7" height="125.2" fill="none" stroke="#000" stroke-width="3.4" stroke-dasharray="9.4 5"/>
<ellipse cx="1904.2" cy="1949.0" rx="61.4" ry="59.9" fill="#b9b9b9"/>
<ellipse cx="1905.8" cy="1946.6" rx="60.9" ry="59.4" fill="url(#dg)" stroke="#c6c6c6" stroke-width="1"/>
<g fill="#0a0a0a" filter="url(#bl)"><circle cx="1930.8" cy="1942.1" r="2.3"/><circle cx="1903.3" cy="1987.9" r="1.3"/><circle cx="1918.7" cy="1896.8" r="1.1"/><circle cx="1887.9" cy="1906.6" r="1.0"/><circle cx="1849.5" cy="1949.4" r="1.9"/><circle cx="1894.9" cy="2001.2" r="1.1"/><circle cx="1930.3" cy="1983.4" r="1.9"/><circle cx="1928.4" cy="1904.8" r="1.6"/><circle cx="1961.7" cy="1932.4" r="1.8"/><circle cx="1946.2" cy="1911.4" r="1.8"/><circle cx="1898.0" cy="1928.0" r="2.0"/><circle cx="1871.2" cy="1904.6" r="1.4"/><circle cx="1853.9" cy="1929.5" r="2.0"/><circle cx="1949.4" cy="1919.0" r="1.4"/><circle cx="1916.0" cy="1942.4" r="2.2"/><circle cx="1907.6" cy="1970.1" r="1.7"/><circle cx="1888.2" cy="1954.8" r="1.0"/><circle cx="1900.0" cy="1939.3" r="2.0"/><circle cx="1903.0" cy="1995.1" r="0.9"/><circle cx="1851.6" cy="1945.7" r="1.7"/><circle cx="1927.7" cy="1941.3" r="1.0"/><circle cx="1939.4" cy="1962.6" r="1.0"/><circle cx="1883.4" cy="1977.0" r="1.2"/><circle cx="1884.7" cy="1916.2" r="1.4"/><circle cx="1892.5" cy="1956.5" r="1.3"/><circle cx="1923.3" cy="1974.0" r="1.5"/><circle cx="1885.5" cy="1925.9" r="1.9"/><circle cx="1935.3" cy="1930.9" r="1.1"/><circle cx="1951.5" cy="1931.4" r="2.2"/><circle cx="1854.5" cy="1958.4" r="0.9"/><circle cx="1904.3" cy="1979.9" r="1.7"/><circle cx="1874.2" cy="1936.7" r="1.2"/><circle cx="1913.8" cy="1948.3" r="1.6"/><circle cx="1904.3" cy="1976.7" r="0.9"/><circle cx="1959.0" cy="1938.2" r="0.9"/><circle cx="1949.8" cy="1916.6" r="1.0"/><circle cx="1932.3" cy="1988.4" r="1.8"/><circle cx="1953.8" cy="1934.8" r="1.7"/><circle cx="1932.5" cy="1914.0" r="1.9"/><circle cx="1917.0" cy="1952.3" r="1.1"/><circle cx="1888.5" cy="1977.8" r="1.5"/><circle cx="1855.4" cy="1963.1" r="1.3"/><circle cx="1938.8" cy="1984.2" r="1.3"/><circle cx="1941.6" cy="1986.8" r="1.0"/><circle cx="1899.4" cy="1946.2" r="2.2"/><circle cx="1925.4" cy="1961.3" r="2.2"/><circle cx="1871.2" cy="1931.5" r="0.9"/><circle cx="1903.0" cy="1967.1" r="1.3"/><circle cx="1906.4" cy="1937.2" r="1.7"/><circle cx="1881.7" cy="1923.3" r="0.9"/><circle cx="1953.5" cy="1968.5" r="1.2"/><circle cx="1865.3" cy="1921.7" r="2.3"/></g>
<rect x="1840.3" y="1884.7" width="130.5" height="125.2" fill="none" stroke="#000" stroke-width="3.4" stroke-dasharray="9.4 5"/>
<ellipse cx="1479.4" cy="2084.5" rx="61.4" ry="59.9" fill="#b9b9b9"/>
<ellipse cx="1481.0" cy="2082.1" rx="60.9" ry="59.4" fill="url(#dg)" stroke="#c6c6c6" stroke-width="1"/>
<g fill="#0a0a0a" filter="url(#bl)"><circle cx="1481.0" cy="2083.3" r="2.0"/><circle cx="1429.4" cy="2074.3" r="1.4"/><circle cx="1479.9" cy="2068.8" r="2.6"/><circle cx="1478.3" cy="2089.6" r="2.1"/><circle cx="1478.2" cy="2073.9" r="2.5"/><circle cx="1457.2" cy="2046.4" r="1.4"/><circle cx="1459.1" cy="2104.9" r="1.7"/><circle cx="1504.8" cy="2090.4" r="2.8"/><circle cx="1481.3" cy="2066.3" r="2.3"/><circle cx="1481.9" cy="2078.8" r="1.8"/><circle cx="1458.4" cy="2087.2" r="2.1"/><circle cx="1465.5" cy="2101.3" r="1.2"/><circle cx="1423.3" cy="2086.3" r="1.8"/><circle cx="1485.0" cy="2071.0" r="2.3"/><circle cx="1431.1" cy="2068.6" r="2.0"/><circle cx="1494.2" cy="2085.8" r="1.7"/><circle cx="1463.7" cy="2056.9" r="2.1"/><circle cx="1486.8" cy="2031.3" r="1.3"/><circle cx="1463.9" cy="2093.7" r="1.3"/><circle cx="1483.1" cy="2064.9" r="1.1"/><circle cx="1474.8" cy="2082.3" r="1.1"/><circle cx="1518.7" cy="2052.7" r="1.3"/><circle cx="1471.4" cy="2047.3" r="1.4"/><circle cx="1451.7" cy="2108.7" r="1.2"/><circle cx="1479.0" cy="2082.4" r="1.7"/><circle cx="1484.4" cy="2087.9" r="2.0"/><circle cx="1475.7" cy="2080.0" r="1.4"/><circle cx="1482.3" cy="2082.9" r="1.8"/><circle cx="1493.0" cy="2082.6" r="2.3"/><circle cx="1499.2" cy="2093.2" r="2.4"/><circle cx="1518.9" cy="2076.1" r="2.7"/><circle cx="1481.6" cy="2081.8" r="2.1"/><circle cx="1470.0" cy="2081.7" r="2.9"/><circle cx="1479.8" cy="2083.6" r="1.4"/><circle cx="1484.2" cy="2082.8" r="1.1"/><circle cx="1521.1" cy="2104.8" r="1.8"/><circle cx="1481.1" cy="2082.6" r="2.6"/><circle cx="1477.1" cy="2081.5" r="2.5"/><circle cx="1434.0" cy="2092.5" r="2.8"/><circle cx="1471.2" cy="2075.4" r="1.4"/><circle cx="1478.4" cy="2101.8" r="1.3"/><circle cx="1494.8" cy="2113.8" r="2.4"/><circle cx="1482.8" cy="2118.9" r="2.6"/><circle cx="1482.3" cy="2071.0" r="1.7"/><circle cx="1470.6" cy="2071.1" r="2.2"/><circle cx="1471.6" cy="2032.2" r="1.9"/><circle cx="1439.6" cy="2089.4" r="1.8"/><circle cx="1484.9" cy="2077.1" r="1.3"/><circle cx="1474.5" cy="2089.2" r="2.8"/><circle cx="1423.5" cy="2085.7" r="1.9"/><circle cx="1477.8" cy="2062.6" r="2.6"/><circle cx="1459.4" cy="2061.7" r="1.1"/><circle cx="1480.2" cy="2080.9" r="1.8"/><circle cx="1486.3" cy="2047.1" r="1.2"/><circle cx="1515.5" cy="2053.8" r="2.7"/></g>
<rect x="1416.1" y="2020.3" width="129.1" height="125.1" fill="none" stroke="#949494" stroke-width="3.2"/>
<ellipse cx="1618.0" cy="2084.5" rx="61.4" ry="59.9" fill="#b9b9b9"/>
<ellipse cx="1619.5" cy="2082.1" rx="60.9" ry="59.4" fill="url(#dg)" stroke="#c6c6c6" stroke-width="1"/>
<g fill="#0a0a0a" opacity="0.6" filter="url(#bl)"><circle cx="1618.5" cy="2097.7" r="0.8"/><circle cx="1643.7" cy="2117.5" r="0.9"/><circle cx="1614.8" cy="2091.5" r="0.9"/><circle cx="1609.1" cy="2053.6" r="1.2"/><circle cx="1598.7" cy="2066.4" r="0.6"/><circle cx="1624.8" cy="2079.4" r="0.6"/><circle cx="1652.7" cy="2065.8" r="1.4"/><circle cx="1575.8" cy="2074.0" r="0.5"/><circle cx="1623.6" cy="2066.1" r="1.1"/><circle cx="1625.3" cy="2083.4" r="0.5"/><circle cx="1621.9" cy="2090.0" r="0.9"/><circle cx="1612.4" cy="2098.5" r="1.3"/><circle cx="1644.2" cy="2059.6" r="0.6"/><circle cx="1628.2" cy="2040.5" r="1.2"/><circle cx="1608.6" cy="2081.9" r="0.5"/><circle cx="1605.8" cy="2068.8" r="0.9"/><circle cx="1598.6" cy="2042.0" r="1.1"/><circle cx="1648.6" cy="2044.1" r="0.7"/><circle cx="1609.8" cy="2078.6" r="0.6"/><circle cx="1607.2" cy="2082.3" r="0.7"/><circle cx="1618.4" cy="2082.9" r="0.6"/><circle cx="1642.2" cy="2080.1" r="1.1"/><circle cx="1619.4" cy="2077.1" r="0.6"/><circle cx="1612.7" cy="2081.3" r="0.7"/><circle cx="1617.4" cy="2092.8" r="0.5"/><circle cx="1637.0" cy="2096.3" r="1.1"/><circle cx="1643.7" cy="2097.0" r="1.2"/><circle cx="1636.5" cy="2134.9" r="1.4"/><circle cx="1628.6" cy="2088.5" r="0.5"/><circle cx="1599.4" cy="2119.8" r="0.9"/><circle cx="1615.9" cy="2082.7" r="1.0"/><circle cx="1594.7" cy="2086.3" r="1.2"/><circle cx="1608.0" cy="2069.0" r="0.8"/><circle cx="1618.4" cy="2080.2" r="1.2"/><circle cx="1602.9" cy="2097.0" r="0.5"/><circle cx="1641.0" cy="2063.2" r="0.6"/><circle cx="1630.8" cy="2090.7" r="0.6"/><circle cx="1579.1" cy="2107.2" r="0.5"/><circle cx="1608.2" cy="2063.2" r="0.5"/><circle cx="1626.7" cy="2075.7" r="1.1"/><circle cx="1630.4" cy="2046.0" r="0.8"/><circle cx="1640.1" cy="2103.6" r="0.8"/><circle cx="1624.5" cy="2074.3" r="0.8"/><circle cx="1601.9" cy="2065.8" r="0.8"/><circle cx="1606.1" cy="2103.0" r="0.5"/></g>
<rect x="1554.9" y="2020.3" width="128.7" height="125.1" fill="none" stroke="#949494" stroke-width="3.2"/>
<ellipse cx="1765.0" cy="2084.5" rx="61.4" ry="59.9" fill="#b9b9b9"/>
<ellipse cx="1766.6" cy="2082.1" rx="60.9" ry="59.4" fill="url(#dg)" stroke="#c6c6c6" stroke-width="1"/>
<g fill="#0a0a0a" filter="url(#bl)"><circle cx="1760.5" cy="2074.0" r="0.9"/><circle cx="1783.5" cy="2126.7" r="1.2"/><circle cx="1753.8" cy="2052.1" r="0.9"/><circle cx="1802.4" cy="2037.9" r="1.7"/><circle cx="1766.2" cy="2082.0" r="1.0"/><circle cx="1779.3" cy="2109.8" r="2.0"/><circle cx="1773.2" cy="2089.1" r="1.2"/><circle cx="1759.0" cy="2074.3" r="2.2"/><circle cx="1757.6" cy="2060.9" r="1.5"/><circle cx="1784.6" cy="2132.0" r="0.9"/><circle cx="1750.5" cy="2038.4" r="2.0"/><circle cx="1763.6" cy="2089.7" r="1.3"/><circle cx="1732.9" cy="2123.1" r="1.8"/><circle cx="1791.2" cy="2069.4" r="2.0"/><circle cx="1766.7" cy="2070.0" r="1.1"/><circle cx="1743.0" cy="2033.6" r="1.7"/><circle cx="1764.6" cy="2076.5" r="2.1"/><circle cx="1764.8" cy="2085.9" r="1.8"/><circle cx="1774.3" cy="2075.3" r="1.2"/><circle cx="1795.4" cy="2115.1" r="1.2"/><circle cx="1754.5" cy="2077.0" r="1.9"/><circle cx="1759.1" cy="2135.7" r="0.9"/><circle cx="1764.8" cy="2081.0" r="1.3"/><circle cx="1728.2" cy="2064.3" r="2.0"/><circle cx="1795.6" cy="2071.8" r="1.0"/><circle cx="1780.7" cy="2137.4" r="1.1"/><circle cx="1741.7" cy="2123.3" r="1.3"/><circle cx="1734.0" cy="2127.8" r="0.9"/><circle cx="1735.7" cy="2121.2" r="1.3"/><circle cx="1743.2" cy="2101.0" r="1.2"/><circle cx="1823.8" cy="2091.9" r="2.0"/><circle cx="1772.6" cy="2088.7" r="1.0"/><circle cx="1732.1" cy="2091.7" r="1.8"/><circle cx="1727.7" cy="2058.8" r="1.2"/><circle cx="1791.9" cy="2086.7" r="1.4"/><circle cx="1745.6" cy="2116.4" r="1.2"/><circle cx="1778.6" cy="2113.9" r="1.9"/><circle cx="1803.4" cy="2042.8" r="1.5"/><circle cx="1768.4" cy="2107.4" r="2.0"/><circle cx="1728.3" cy="2050.2" r="0.9"/><circle cx="1750.1" cy="2046.2" r="1.1"/><circle cx="1762.9" cy="2048.5" r="1.4"/><circle cx="1754.1" cy="2058.2" r="1.7"/><circle cx="1746.1" cy="2088.6" r="0.9"/><circle cx="1777.4" cy="2048.5" r="1.2"/><circle cx="1791.8" cy="2133.8" r="1.8"/><circle cx="1715.2" cy="2078.3" r="1.0"/><circle cx="1749.3" cy="2050.3" r="1.6"/><circle cx="1804.4" cy="2103.1" r="2.1"/><circle cx="1748.6" cy="2061.9" r="1.3"/><circle cx="1796.3" cy="2062.3" r="1.6"/><circle cx="1760.6" cy="2068.6" r="1.9"/><circle cx="1767.1" cy="2082.6" r="1.3"/><circle cx="1765.2" cy="2120.5" r="1.6"/><circle cx="1751.3" cy="2117.8" r="0.9"/><circle cx="1822.1" cy="2091.8" r="0.8"/><circle cx="1796.8" cy="2101.0" r="0.8"/><circle cx="1820.0" cy="2065.0" r="1.9"/><circle cx="1807.4" cy="2069.2" r="1.2"/><circle cx="1822.3" cy="2069.4" r="1.0"/><circle cx="1722.9" cy="2054.4" r="1.3"/><circle cx="1820.0" cy="2087.1" r="1.3"/><circle cx="1753.1" cy="2065.6" r="1.2"/><circle cx="1745.3" cy="2134.1" r="2.1"/><circle cx="1795.6" cy="2046.6" r="1.8"/><circle cx="1760.7" cy="2111.9" r="1.4"/><circle cx="1767.3" cy="2051.5" r="0.9"/><circle cx="1786.4" cy="2057.2" r="1.7"/><circle cx="1768.1" cy="2068.9" r="1.3"/><circle cx="1778.4" cy="2071.0" r="1.6"/><circle cx="1765.3" cy="2082.3" r="2.1"/><circle cx="1715.4" cy="2099.8" r="1.0"/><circle cx="1789.0" cy="2107.2" r="1.0"/><circle cx="1763.4" cy="2122.7" r="1.7"/><circle cx="1724.0" cy="2106.9" r="1.0"/><circle cx="1799.1" cy="2074.2" r="0.9"/><circle cx="1765.9" cy="2082.5" r="1.1"/><circle cx="1793.4" cy="2119.5" r="0.9"/><circle cx="1761.5" cy="2094.0" r="0.9"/><circle cx="1716.3" cy="2064.7" r="1.4"/><circle cx="1790.2" cy="2044.0" r="1.9"/><circle cx="1756.6" cy="2092.9" r="1.5"/><circle cx="1798.3" cy="2082.0" r="1.0"/><circle cx="1783.5" cy="2061.1" r="0.9"/><circle cx="1767.3" cy="2113.6" r="1.0"/><circle cx="1775.6" cy="2132.2" r="1.1"/><circle cx="1714.9" cy="2062.5" r="0.8"/><circle cx="1805.0" cy="2108.6" r="2.0"/><circle cx="1765.4" cy="2091.3" r="1.6"/><circle cx="1811.2" cy="2072.2" r="0.9"/><circle cx="1742.2" cy="2066.3" r="1.6"/><circle cx="1741.8" cy="2060.0" r="1.9"/><circle cx="1767.1" cy="2077.3" r="0.9"/><circle cx="1766.1" cy="2072.4" r="1.5"/><circle cx="1786.1" cy="2102.3" r="1.8"/></g>
<rect x="1701.4" y="2020.3" width="129.9" height="125.1" fill="none" stroke="#949494" stroke-width="3.2" stroke-dasharray="9.4 5"/>
<ellipse cx="1904.2" cy="2084.5" rx="61.4" ry="59.9" fill="#b9b9b9"/>
<ellipse cx="1905.8" cy="2082.1" rx="60.9" ry="59.4" fill="url(#dg2)" stroke="#c6c6c6" stroke-width="1"/>
<g fill="#0a0a0a" filter="url(#bl)"><circle cx="1943.0" cy="2075.4" r="2.1"/><circle cx="1927.5" cy="2108.5" r="1.0"/><circle cx="1869.2" cy="2107.4" r="2.1"/><circle cx="1912.6" cy="2122.3" r="1.6"/><circle cx="1878.5" cy="2078.9" r="1.3"/><circle cx="1896.1" cy="2121.5" r="1.9"/><circle cx="1908.0" cy="2080.7" r="1.0"/><circle cx="1913.2" cy="2138.9" r="1.5"/><circle cx="1933.1" cy="2036.5" r="1.0"/><circle cx="1906.7" cy="2070.1" r="1.9"/><circle cx="1921.8" cy="2041.0" r="1.6"/><circle cx="1927.5" cy="2049.0" r="2.1"/><circle cx="1869.8" cy="2101.1" r="1.5"/><circle cx="1930.4" cy="2087.2" r="1.9"/><circle cx="1949.9" cy="2094.3" r="1.5"/><circle cx="1881.2" cy="2041.0" r="2.0"/><circle cx="1864.3" cy="2097.9" r="1.7"/><circle cx="1949.3" cy="2077.9" r="1.5"/><circle cx="1899.1" cy="2049.1" r="1.6"/><circle cx="1906.6" cy="2117.2" r="1.5"/><circle cx="1905.7" cy="2051.7" r="2.1"/><circle cx="1931.2" cy="2096.7" r="2.2"/><circle cx="1897.4" cy="2135.2" r="2.3"/><circle cx="1937.6" cy="2083.2" r="1.4"/><circle cx="1914.9" cy="2063.6" r="2.3"/><circle cx="1905.5" cy="2085.7" r="1.0"/></g>
<rect x="1840.2" y="2020.3" width="130.7" height="125.1" fill="none" stroke="#949494" stroke-width="3.2" stroke-dasharray="9.4 5"/>
<text x="1546.2" y="1784.8" font-size="31.0" font-weight="bold" textLength="265.6" lengthAdjust="spacingAndGlyphs">Hx-sel.&#160; NCI-H460</text>
<text x="1524.0" y="1828.8" font-size="32.4" font-weight="bold" textLength="40.0" lengthAdjust="spacingAndGlyphs">Nx</text>
<text x="1821.8" y="1828.8" font-size="32.4" font-weight="bold" textLength="39.7" lengthAdjust="spacingAndGlyphs">Hx</text>
<text x="1452.0" y="1868.1" font-size="30.3" font-weight="bold" textLength="60.0" lengthAdjust="spacingAndGlyphs">0 Gy</text>
<text x="1585.5" y="1868.1" font-size="30.3" font-weight="bold" textLength="59.5" lengthAdjust="spacingAndGlyphs">3 Gy</text>
<text x="1736.3" y="1868.1" font-size="30.3" font-weight="bold" textLength="60.1" lengthAdjust="spacingAndGlyphs">0 Gy</text>
<text x="1871.9" y="1868.1" font-size="30.3" font-weight="bold" textLength="59.3" lengthAdjust="spacingAndGlyphs">3 Gy</text>
<text x="1366.2" y="1947.3" font-size="29.5" font-weight="bold" text-anchor="middle" transform="rotate(-90 1366.2 1947.3)">0 µM</text>
<text x="1401.1" y="1947.3" font-size="29.5" font-weight="bold" text-anchor="middle" transform="rotate(-90 1401.1 1947.3)" textLength="113" lengthAdjust="spacingAndGlyphs">ABT-263</text>
<text x="1366.2" y="2082.8" font-size="29.5" font-weight="bold" text-anchor="middle" transform="rotate(-90 1366.2 2082.8)">10 µM</text>
<text x="1401.1" y="2082.8" font-size="29.5" font-weight="bold" text-anchor="middle" transform="rotate(-90 1401.1 2082.8)" textLength="113" lengthAdjust="spacingAndGlyphs">ABT-263</text>
</svg>
</body></html>
